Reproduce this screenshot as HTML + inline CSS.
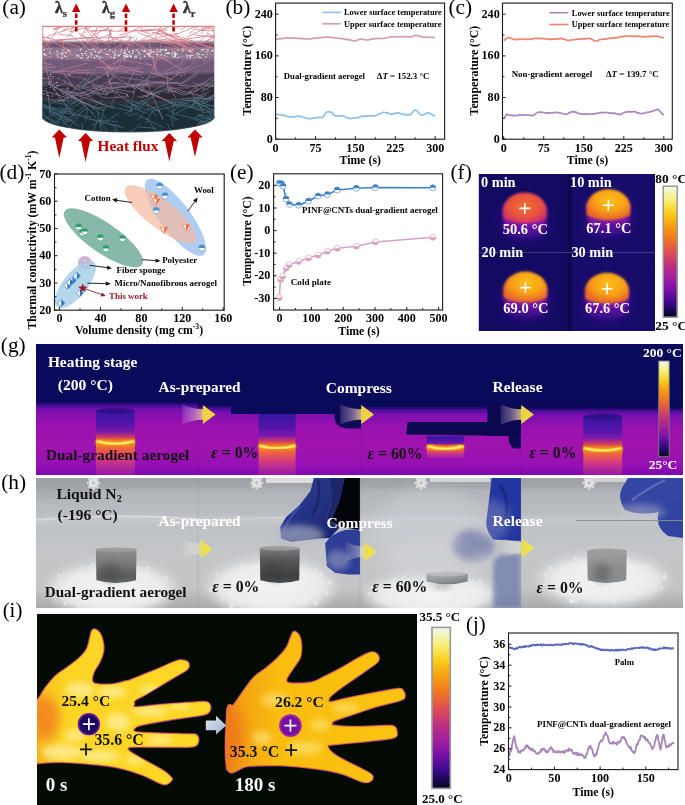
<!DOCTYPE html>
<html><head><meta charset="utf-8"><style>
html,body{margin:0;padding:0;background:#fff;width:685px;height:805px;overflow:hidden}
svg{display:block;will-change:transform}
text{font-family:"Liberation Serif",serif}
</style></head><body>
<svg width="685" height="805" viewBox="0 0 685 805">
<text x="2.3" y="14.3" font-size="21.3" font-weight="normal" fill="#000">(a)</text><text x="225.5" y="14.3" font-size="21.3" font-weight="normal" fill="#000">(b)</text><text x="448.5" y="14.3" font-size="21.3" font-weight="normal" fill="#000">(c)</text><text x="-0.5" y="178.5" font-size="21.3" font-weight="normal" fill="#000">(d)</text><text x="230" y="178.5" font-size="21.3" font-weight="normal" fill="#000">(e)</text><text x="450.5" y="178.5" font-size="21.3" font-weight="normal" fill="#000">(f)</text><text x="0.8" y="352" font-size="21.3" font-weight="normal" fill="#000">(g)</text><text x="1.2" y="489" font-size="21.3" font-weight="normal" fill="#000">(h)</text><text x="2.7" y="617" font-size="20.8" font-weight="normal" fill="#000">(i)</text><text x="466" y="631" font-size="20.8" font-weight="normal" fill="#000">(j)</text><polyline points="275.6,39.3 276.7,39.2 277.7,39.2 278.8,38.9 279.9,38.7 281.0,38.9 282.0,38.7 283.1,38.1 284.2,38.3 285.2,38.1 286.3,37.7 287.4,37.9 288.5,37.7 289.5,38.0 290.6,37.9 291.7,38.2 292.7,38.1 293.8,38.0 294.9,38.2 296.0,38.2 297.0,38.3 298.1,38.6 299.2,38.3 300.2,38.4 301.3,38.6 302.4,38.8 303.4,38.5 304.5,38.8 305.6,38.8 306.7,38.8 307.7,39.0 308.8,39.0 309.9,39.3 310.9,38.9 312.0,38.8 313.1,38.3 314.2,38.0 315.2,38.2 316.3,38.1 317.4,38.0 318.4,37.6 319.5,37.8 320.6,37.6 321.7,37.6 322.7,37.4 323.8,37.4 324.9,37.3 325.9,37.2 327.0,37.1 328.1,37.0 329.2,37.2 330.2,37.1 331.3,37.3 332.4,37.4 333.4,37.7 334.5,38.2 335.6,37.9 336.7,38.0 337.7,38.1 338.8,38.4 339.9,38.3 340.9,38.7 342.0,38.5 343.1,38.8 344.2,39.1 345.2,39.4 346.3,39.2 347.4,39.3 348.4,39.9 349.5,39.6 350.6,40.0 351.7,40.5 352.7,40.8 353.8,40.8 354.9,40.6 355.9,40.8 357.0,40.1 358.1,40.0 359.1,39.3 360.2,39.3 361.3,39.0 362.4,39.1 363.4,39.5 364.5,39.4 365.6,39.9 366.6,40.1 367.7,39.8 368.8,39.9 369.9,39.5 370.9,39.2 372.0,38.8 373.1,38.9 374.1,38.9 375.2,38.5 376.3,38.7 377.4,38.4 378.4,38.4 379.5,38.6 380.6,38.5 381.6,38.5 382.7,38.4 383.8,38.4 384.9,38.3 385.9,38.1 387.0,37.6 388.1,37.5 389.1,37.2 390.2,36.7 391.3,36.9 392.4,36.8 393.4,36.5 394.5,36.7 395.6,36.7 396.6,37.0 397.7,36.8 398.8,36.7 399.9,37.0 400.9,36.6 402.0,36.6 403.1,36.9 404.1,36.6 405.2,36.7 406.3,36.7 407.4,36.9 408.4,36.8 409.5,36.8 410.6,37.1 411.6,36.9 412.7,36.2 413.8,35.7 414.8,35.7 415.9,35.4 417.0,35.4 418.1,35.8 419.1,36.1 420.2,36.4 421.3,36.8 422.3,36.9 423.4,37.2 424.5,37.2 425.6,37.0 426.6,37.5 427.7,37.2 428.8,37.1 429.8,37.4 430.9,37.5 432.0,37.2 433.1,37.5 434.1,37.5 435.2,37.4" fill="none" stroke="#d89cb4" stroke-width="1.7" stroke-linejoin="round" /><polyline points="275.6,114.3 276.7,114.3 277.7,114.4 278.8,114.5 279.9,114.8 281.0,114.7 282.0,115.4 283.1,115.3 284.2,115.2 285.2,115.7 286.3,115.9 287.4,116.7 288.5,116.7 289.5,117.0 290.6,116.8 291.7,116.7 292.7,117.0 293.8,116.8 294.9,116.7 296.0,116.2 297.0,116.2 298.1,116.5 299.2,116.1 300.2,116.5 301.3,116.4 302.4,117.0 303.4,117.5 304.5,117.3 305.6,118.1 306.7,118.5 307.7,118.3 308.8,118.6 309.9,119.0 310.9,118.5 312.0,118.5 313.1,118.1 314.2,118.2 315.2,117.6 316.3,117.7 317.4,117.4 318.4,117.4 319.5,117.6 320.6,117.5 321.7,117.5 322.7,117.2 323.8,116.2 324.9,114.5 325.9,112.8 327.0,112.1 328.1,111.5 329.2,111.9 330.2,112.2 331.3,112.0 332.4,113.0 333.4,114.4 334.5,115.5 335.6,115.9 336.7,116.3 337.7,115.7 338.8,116.2 339.9,115.7 340.9,115.6 342.0,116.1 343.1,115.7 344.2,116.3 345.2,116.6 346.3,117.4 347.4,117.9 348.4,118.3 349.5,118.2 350.6,118.8 351.7,118.3 352.7,118.0 353.8,117.8 354.9,118.0 355.9,117.9 357.0,117.7 358.1,117.3 359.1,117.4 360.2,116.7 361.3,116.4 362.4,116.1 363.4,116.4 364.5,115.8 365.6,116.3 366.6,116.1 367.7,115.9 368.8,115.7 369.9,116.0 370.9,115.6 372.0,115.8 373.1,115.9 374.1,115.9 375.2,115.8 376.3,115.6 377.4,115.1 378.4,114.3 379.5,113.5 380.6,113.6 381.6,113.2 382.7,112.3 383.8,112.4 384.9,112.5 385.9,112.8 387.0,112.9 388.1,113.1 389.1,113.7 390.2,114.0 391.3,114.4 392.4,113.8 393.4,114.1 394.5,113.6 395.6,113.1 396.6,113.3 397.7,112.8 398.8,112.7 399.9,113.2 400.9,113.5 402.0,114.3 403.1,114.2 404.1,114.5 405.2,114.3 406.3,114.9 407.4,115.1 408.4,114.9 409.5,115.0 410.6,114.3 411.6,113.5 412.7,112.1 413.8,110.7 414.8,110.1 415.9,110.1 417.0,110.8 418.1,112.3 419.1,113.6 420.2,114.4 421.3,115.0 422.3,115.1 423.4,114.7 424.5,114.2 425.6,113.8 426.6,113.2 427.7,112.7 428.8,112.8 429.8,113.6 430.9,114.0 432.0,114.6 433.1,115.3 434.1,115.8 435.2,115.9" fill="none" stroke="#8ec0ea" stroke-width="1.7" stroke-linejoin="round" /><rect x="275.6" y="3.1" width="169.0" height="136.1" fill="none" stroke="#1a1a1a" stroke-width="1.1"/><line x1="275.6" y1="139.2" x2="275.6" y2="136.2" stroke="#1a1a1a" stroke-width="1"/><line x1="315.5" y1="139.2" x2="315.5" y2="136.2" stroke="#1a1a1a" stroke-width="1"/><line x1="355.4" y1="139.2" x2="355.4" y2="136.2" stroke="#1a1a1a" stroke-width="1"/><line x1="395.3" y1="139.2" x2="395.3" y2="136.2" stroke="#1a1a1a" stroke-width="1"/><line x1="435.2" y1="139.2" x2="435.2" y2="136.2" stroke="#1a1a1a" stroke-width="1"/><line x1="295.6" y1="139.2" x2="295.6" y2="137.2" stroke="#1a1a1a" stroke-width="0.9"/><line x1="335.5" y1="139.2" x2="335.5" y2="137.2" stroke="#1a1a1a" stroke-width="0.9"/><line x1="375.4" y1="139.2" x2="375.4" y2="137.2" stroke="#1a1a1a" stroke-width="0.9"/><line x1="415.2" y1="139.2" x2="415.2" y2="137.2" stroke="#1a1a1a" stroke-width="0.9"/><line x1="275.6" y1="139.2" x2="278.6" y2="139.2" stroke="#1a1a1a" stroke-width="1"/><line x1="275.6" y1="97.5" x2="278.6" y2="97.5" stroke="#1a1a1a" stroke-width="1"/><line x1="275.6" y1="55.9" x2="278.6" y2="55.9" stroke="#1a1a1a" stroke-width="1"/><line x1="275.6" y1="14.2" x2="278.6" y2="14.2" stroke="#1a1a1a" stroke-width="1"/><line x1="275.6" y1="118.4" x2="277.6" y2="118.4" stroke="#1a1a1a" stroke-width="0.9"/><line x1="275.6" y1="76.7" x2="277.6" y2="76.7" stroke="#1a1a1a" stroke-width="0.9"/><line x1="275.6" y1="35.0" x2="277.6" y2="35.0" stroke="#1a1a1a" stroke-width="0.9"/><text x="275.6" y="151.7" font-size="12.1" font-weight="bold" fill="#000" text-anchor="middle" >0</text><text x="315.5" y="151.7" font-size="12.1" font-weight="bold" fill="#000" text-anchor="middle" >75</text><text x="355.4" y="151.7" font-size="12.1" font-weight="bold" fill="#000" text-anchor="middle" >150</text><text x="395.3" y="151.7" font-size="12.1" font-weight="bold" fill="#000" text-anchor="middle" >225</text><text x="435.2" y="151.7" font-size="12.1" font-weight="bold" fill="#000" text-anchor="middle" >300</text><text x="272.8" y="142.7" font-size="12.1" font-weight="bold" fill="#000" text-anchor="end" >0</text><text x="272.8" y="101.0" font-size="12.1" font-weight="bold" fill="#000" text-anchor="end" >80</text><text x="272.8" y="59.4" font-size="12.1" font-weight="bold" fill="#000" text-anchor="end" >160</text><text x="272.8" y="17.7" font-size="12.1" font-weight="bold" fill="#000" text-anchor="end" >240</text><text x="360.3" y="164.3" font-size="11.8" font-weight="bold" fill="#000" text-anchor="middle" >Time (s)</text><text x="251.0" y="70.6" font-size="11.8" font-weight="bold" fill="#000" text-anchor="middle" transform="rotate(-90 251 70.6)">Temperature (°C)</text><line x1="322.3" y1="12.4" x2="340.8" y2="12.4" stroke="#8cc0ea" stroke-width="1.6"/><line x1="322.3" y1="23.8" x2="340.8" y2="23.8" stroke="#d69ab0" stroke-width="1.6"/><text x="344.0" y="15.3" font-size="8.4" font-weight="bold" fill="#000" text-anchor="start" >Lower surface temperature</text><text x="344.0" y="26.7" font-size="8.4" font-weight="bold" fill="#000" text-anchor="start" >Upper surface temperature</text><text x="283.8" y="78.9" font-size="8.7" font-weight="bold" fill="#000" text-anchor="start" >Dual-gradient aerogel</text><text x="376.8" y="78.9" font-size="8.9" font-weight="bold" fill="#000" text-anchor="start" >Δ<tspan font-style="italic">T</tspan> = 152.3 °C</text><polyline points="503.7,40.4 504.8,39.9 505.8,38.7 506.9,37.9 508.0,37.4 509.1,37.5 510.1,38.1 511.2,38.4 512.3,38.8 513.4,39.1 514.4,39.6 515.5,39.5 516.6,39.6 517.7,39.2 518.7,39.3 519.8,39.6 520.9,39.0 522.0,39.0 523.0,39.2 524.1,39.2 525.2,39.4 526.3,39.5 527.3,39.2 528.4,39.4 529.5,39.2 530.6,39.1 531.6,39.1 532.7,38.7 533.8,38.6 534.9,38.3 535.9,38.4 537.0,38.4 538.1,38.4 539.2,38.4 540.2,38.6 541.3,38.7 542.4,38.4 543.5,38.5 544.5,38.7 545.6,38.8 546.7,39.1 547.8,39.2 548.8,39.2 549.9,39.4 551.0,39.1 552.1,39.3 553.1,39.0 554.2,39.2 555.3,38.8 556.4,38.8 557.4,39.1 558.5,38.9 559.6,38.5 560.7,38.7 561.7,38.4 562.8,38.9 563.9,39.4 565.0,39.4 566.0,39.7 567.1,40.3 568.2,40.6 569.2,40.5 570.3,40.0 571.4,39.9 572.5,40.0 573.5,39.7 574.6,39.6 575.7,39.5 576.8,39.0 577.8,39.3 578.9,39.1 580.0,39.1 581.1,39.1 582.1,38.7 583.2,39.0 584.3,38.6 585.4,38.8 586.4,38.6 587.5,38.6 588.6,38.5 589.7,38.2 590.7,38.7 591.8,39.5 592.9,39.8 594.0,40.7 595.0,41.1 596.1,41.0 597.2,40.9 598.3,40.6 599.3,39.6 600.4,39.5 601.5,39.3 602.6,39.0 603.6,39.2 604.7,39.1 605.8,39.0 606.9,38.9 607.9,38.4 609.0,38.5 610.1,38.1 611.2,38.1 612.2,38.0 613.3,37.7 614.4,37.9 615.5,37.8 616.5,37.5 617.6,37.6 618.7,37.5 619.8,36.8 620.8,36.7 621.9,36.7 623.0,36.6 624.1,36.2 625.1,36.0 626.2,36.3 627.3,36.0 628.3,36.0 629.4,36.1 630.5,36.2 631.6,36.4 632.6,36.4 633.7,35.9 634.8,36.3 635.9,36.1 636.9,36.3 638.0,36.1 639.1,36.3 640.2,36.5 641.2,36.6 642.3,36.4 643.4,36.9 644.5,36.8 645.5,36.7 646.6,36.5 647.7,36.6 648.8,36.6 649.8,36.2 650.9,36.4 652.0,36.4 653.1,36.2 654.1,36.0 655.2,36.2 656.3,36.1 657.4,36.2 658.4,36.4 659.5,37.0 660.6,37.3 661.7,37.3 662.7,37.6 663.8,37.8" fill="none" stroke="#f4826e" stroke-width="1.7" stroke-linejoin="round" /><polyline points="503.7,118.8 504.8,117.4 505.8,115.4 506.9,114.2 508.0,114.7 509.1,114.8 510.1,115.1 511.2,115.3 512.3,115.2 513.4,115.8 514.4,115.6 515.5,115.7 516.6,115.6 517.7,115.4 518.7,114.9 519.8,114.9 520.9,115.2 522.0,115.0 523.0,115.1 524.1,114.7 525.2,114.9 526.3,115.0 527.3,115.1 528.4,115.2 529.5,115.2 530.6,115.4 531.6,115.8 532.7,115.3 533.8,115.1 534.9,114.2 535.9,113.6 537.0,112.9 538.1,112.3 539.2,112.0 540.2,112.1 541.3,112.4 542.4,112.2 543.5,112.5 544.5,112.6 545.6,112.9 546.7,113.1 547.8,112.9 548.8,113.2 549.9,112.8 551.0,112.8 552.1,112.9 553.1,112.8 554.2,112.5 555.3,112.6 556.4,112.4 557.4,112.4 558.5,112.6 559.6,113.0 560.7,113.0 561.7,113.4 562.8,113.7 563.9,114.0 565.0,114.0 566.0,114.3 567.1,114.0 568.2,113.4 569.2,113.1 570.3,112.3 571.4,111.6 572.5,111.9 573.5,111.9 574.6,111.7 575.7,112.1 576.8,112.6 577.8,113.4 578.9,113.6 580.0,113.7 581.1,113.8 582.1,113.9 583.2,114.3 584.3,113.9 585.4,114.2 586.4,114.0 587.5,114.3 588.6,113.8 589.7,114.0 590.7,114.0 591.8,114.3 592.9,113.9 594.0,113.8 595.0,113.6 596.1,113.6 597.2,113.1 598.3,113.2 599.3,113.0 600.4,112.9 601.5,112.4 602.6,112.6 603.6,112.6 604.7,112.7 605.8,112.4 606.9,112.5 607.9,112.6 609.0,113.1 610.1,112.9 611.2,113.1 612.2,113.3 613.3,113.4 614.4,112.8 615.5,113.6 616.5,113.8 617.6,114.1 618.7,114.2 619.8,114.7 620.8,114.3 621.9,113.9 623.0,113.0 624.1,112.8 625.1,112.1 626.2,111.9 627.3,111.6 628.3,111.8 629.4,111.8 630.5,111.6 631.6,111.8 632.6,111.9 633.7,111.6 634.8,111.5 635.9,112.0 636.9,112.7 638.0,112.8 639.1,113.1 640.2,113.7 641.2,113.5 642.3,113.5 643.4,113.4 644.5,113.1 645.5,112.8 646.6,112.4 647.7,112.4 648.8,112.0 649.8,112.1 650.9,111.5 652.0,111.3 653.1,111.2 654.1,110.3 655.2,110.2 656.3,109.7 657.4,109.4 658.4,109.6 659.5,110.5 660.6,111.8 661.7,113.4 662.7,114.2 663.8,115.1" fill="none" stroke="#a688c0" stroke-width="1.7" stroke-linejoin="round" /><rect x="502.5" y="3.1" width="169.79999999999995" height="136.1" fill="none" stroke="#1a1a1a" stroke-width="1.1"/><line x1="503.7" y1="139.2" x2="503.7" y2="136.2" stroke="#1a1a1a" stroke-width="1"/><line x1="543.7" y1="139.2" x2="543.7" y2="136.2" stroke="#1a1a1a" stroke-width="1"/><line x1="583.8" y1="139.2" x2="583.8" y2="136.2" stroke="#1a1a1a" stroke-width="1"/><line x1="623.8" y1="139.2" x2="623.8" y2="136.2" stroke="#1a1a1a" stroke-width="1"/><line x1="663.8" y1="139.2" x2="663.8" y2="136.2" stroke="#1a1a1a" stroke-width="1"/><line x1="523.7" y1="139.2" x2="523.7" y2="137.2" stroke="#1a1a1a" stroke-width="0.9"/><line x1="563.7" y1="139.2" x2="563.7" y2="137.2" stroke="#1a1a1a" stroke-width="0.9"/><line x1="603.8" y1="139.2" x2="603.8" y2="137.2" stroke="#1a1a1a" stroke-width="0.9"/><line x1="643.8" y1="139.2" x2="643.8" y2="137.2" stroke="#1a1a1a" stroke-width="0.9"/><line x1="502.5" y1="139.2" x2="505.5" y2="139.2" stroke="#1a1a1a" stroke-width="1"/><line x1="502.5" y1="97.5" x2="505.5" y2="97.5" stroke="#1a1a1a" stroke-width="1"/><line x1="502.5" y1="55.9" x2="505.5" y2="55.9" stroke="#1a1a1a" stroke-width="1"/><line x1="502.5" y1="14.2" x2="505.5" y2="14.2" stroke="#1a1a1a" stroke-width="1"/><line x1="502.5" y1="118.4" x2="504.5" y2="118.4" stroke="#1a1a1a" stroke-width="0.9"/><line x1="502.5" y1="76.7" x2="504.5" y2="76.7" stroke="#1a1a1a" stroke-width="0.9"/><line x1="502.5" y1="35.0" x2="504.5" y2="35.0" stroke="#1a1a1a" stroke-width="0.9"/><text x="503.7" y="151.7" font-size="12.1" font-weight="bold" fill="#000" text-anchor="middle" >0</text><text x="543.7" y="151.7" font-size="12.1" font-weight="bold" fill="#000" text-anchor="middle" >75</text><text x="583.8" y="151.7" font-size="12.1" font-weight="bold" fill="#000" text-anchor="middle" >150</text><text x="623.8" y="151.7" font-size="12.1" font-weight="bold" fill="#000" text-anchor="middle" >225</text><text x="663.8" y="151.7" font-size="12.1" font-weight="bold" fill="#000" text-anchor="middle" >300</text><text x="499.7" y="142.7" font-size="12.1" font-weight="bold" fill="#000" text-anchor="end" >0</text><text x="499.7" y="101.0" font-size="12.1" font-weight="bold" fill="#000" text-anchor="end" >80</text><text x="499.7" y="59.4" font-size="12.1" font-weight="bold" fill="#000" text-anchor="end" >160</text><text x="499.7" y="17.7" font-size="12.1" font-weight="bold" fill="#000" text-anchor="end" >240</text><text x="587.5" y="164.3" font-size="11.8" font-weight="bold" fill="#000" text-anchor="middle" >Time (s)</text><text x="478.0" y="70.6" font-size="11.8" font-weight="bold" fill="#000" text-anchor="middle" transform="rotate(-90 478 70.6)">Temperature (°C)</text><line x1="549.5" y1="12.7" x2="568.4" y2="12.7" stroke="#a486bf" stroke-width="1.6"/><line x1="549.5" y1="24.5" x2="568.4" y2="24.5" stroke="#f3806c" stroke-width="1.6"/><text x="571.8" y="15.6" font-size="8.4" font-weight="bold" fill="#000" text-anchor="start" >Lower surface temperature</text><text x="571.8" y="27.4" font-size="8.4" font-weight="bold" fill="#000" text-anchor="start" >Upper surface temperature</text><text x="511.7" y="77.2" font-size="8.9" font-weight="bold" fill="#000" text-anchor="start" >Non-gradient aerogel</text><text x="606.0" y="77.2" font-size="8.9" font-weight="bold" fill="#000" text-anchor="start" >Δ<tspan font-style="italic">T</tspan> = 139.7 °C</text><ellipse cx="103.4" cy="237.8" rx="47" ry="15" fill="#5fa28f" fill-opacity="0.75" transform="rotate(34.7 103.4 237.8)"/><ellipse cx="175.4" cy="217.4" rx="47" ry="15" fill="#9cc0ee" fill-opacity="0.8" transform="rotate(53 175.4 217.4)"/><ellipse cx="160.5" cy="214.2" rx="44" ry="14" fill="#f6b89e" fill-opacity="0.7" transform="rotate(37.5 160.5 214.2)"/><circle cx="84.8" cy="262.9" r="7" fill="#c6a6cc" fill-opacity="0.85"/><ellipse cx="75.4" cy="284.4" rx="29" ry="12" fill="#a8cfe8" fill-opacity="0.85" transform="rotate(-51 75.4 284.4)"/><circle cx="159.7" cy="185.9" r="3.2" fill="#fff" stroke="#4a90d0" stroke-width="0.6"/><path d="M156.5,185.9 A3.2,3.2 0 0 1 162.89999999999998,185.9 Z" fill="#4a90d0"/><circle cx="165" cy="195.8" r="3.2" fill="#fff" stroke="#4a90d0" stroke-width="0.6"/><path d="M161.8,195.8 A3.2,3.2 0 0 1 168.2,195.8 Z" fill="#4a90d0"/><circle cx="156.3" cy="210.5" r="3.2" fill="#fff" stroke="#4a90d0" stroke-width="0.6"/><path d="M153.10000000000002,210.5 A3.2,3.2 0 0 1 159.5,210.5 Z" fill="#4a90d0"/><circle cx="201.9" cy="248" r="3.2" fill="#fff" stroke="#4a90d0" stroke-width="0.6"/><path d="M198.70000000000002,248 A3.2,3.2 0 0 1 205.1,248 Z" fill="#4a90d0"/><circle cx="78.6" cy="226.9" r="3.2" fill="#fff" stroke="#2a9a68" stroke-width="0.6"/><path d="M75.39999999999999,226.9 A3.2,3.2 0 0 1 81.8,226.9 Z" fill="#2a9a68"/><circle cx="82.3" cy="232.8" r="3.2" fill="#fff" stroke="#2a9a68" stroke-width="0.6"/><path d="M79.1,232.8 A3.2,3.2 0 0 1 85.5,232.8 Z" fill="#2a9a68"/><circle cx="84.8" cy="231.6" r="3.2" fill="#fff" stroke="#2a9a68" stroke-width="0.6"/><path d="M81.6,231.6 A3.2,3.2 0 0 1 88.0,231.6 Z" fill="#2a9a68"/><circle cx="100.4" cy="237.8" r="3.2" fill="#fff" stroke="#2a9a68" stroke-width="0.6"/><path d="M97.2,237.8 A3.2,3.2 0 0 1 103.60000000000001,237.8 Z" fill="#2a9a68"/><circle cx="122.5" cy="238.5" r="3.2" fill="#fff" stroke="#2a9a68" stroke-width="0.6"/><path d="M119.3,238.5 A3.2,3.2 0 0 1 125.7,238.5 Z" fill="#2a9a68"/><circle cx="105.9" cy="248.5" r="3.2" fill="#fff" stroke="#2a9a68" stroke-width="0.6"/><path d="M102.7,248.5 A3.2,3.2 0 0 1 109.10000000000001,248.5 Z" fill="#2a9a68"/><path d="M150.70000000000002,195.07999999999998 L157.9,195.07999999999998 L154.3,201.2 Z" fill="#fff" stroke="#f06a40" stroke-width="0.6"/><path d="M154.3,195.07999999999998 L157.9,195.07999999999998 L154.3,201.2 Z" fill="#f06a40"/><path d="M152.70000000000002,198.78 L159.9,198.78 L156.3,204.9 Z" fill="#fff" stroke="#f06a40" stroke-width="0.6"/><path d="M156.3,198.78 L159.9,198.78 L156.3,204.9 Z" fill="#f06a40"/><path d="M160.6,227.28 L167.79999999999998,227.28 L164.2,233.4 Z" fill="#fff" stroke="#f06a40" stroke-width="0.6"/><path d="M164.2,227.28 L167.79999999999998,227.28 L164.2,233.4 Z" fill="#f06a40"/><path d="M182.4,224.38 L189.6,224.38 L186,230.5 Z" fill="#fff" stroke="#f06a40" stroke-width="0.6"/><path d="M186,224.38 L189.6,224.38 L186,230.5 Z" fill="#f06a40"/><path d="M67.4,282.09999999999997 L71.0,285.7 L67.4,289.3 L63.800000000000004,285.7 Z" fill="#fff" stroke="#2a78c0" stroke-width="0.6"/><path d="M67.4,282.09999999999997 L71.0,285.7 L67.4,289.3 Z" fill="#2a78c0"/><path d="M72.4,277.09999999999997 L76.0,280.7 L72.4,284.3 L68.80000000000001,280.7 Z" fill="#fff" stroke="#2a78c0" stroke-width="0.6"/><path d="M72.4,277.09999999999997 L76.0,280.7 L72.4,284.3 Z" fill="#2a78c0"/><path d="M76.8,272.2 L80.39999999999999,275.8 L76.8,279.40000000000003 L73.2,275.8 Z" fill="#fff" stroke="#2a78c0" stroke-width="0.6"/><path d="M76.8,272.2 L80.39999999999999,275.8 L76.8,279.40000000000003 Z" fill="#2a78c0"/><path d="M79.8,289.5 L83.39999999999999,293.1 L79.8,296.70000000000005 L76.2,293.1 Z" fill="#fff" stroke="#2a78c0" stroke-width="0.6"/><path d="M79.8,289.5 L83.39999999999999,293.1 L79.8,296.70000000000005 Z" fill="#2a78c0"/><path d="M61.2,299.5 L64.8,303.1 L61.2,306.70000000000005 L57.6,303.1 Z" fill="#fff" stroke="#2a78c0" stroke-width="0.6"/><path d="M61.2,299.5 L64.8,303.1 L61.2,306.70000000000005 Z" fill="#2a78c0"/><path d="M70,278.9 L73.6,282.5 L70,286.1 L66.4,282.5 Z" fill="#fff" stroke="#2a78c0" stroke-width="0.6"/><path d="M70,278.9 L73.6,282.5 L70,286.1 Z" fill="#2a78c0"/><path d="M83.5,261 l1.5,-2.5 l1.5,2.5 l-1.5,2.5z M84,264 l1.5,-2.5 l1.5,2.5 l-1.5,2.5z" fill="#fff" stroke="#9a7aa8" stroke-width="0.5"/><polygon points="82.8,283.2 84.0,286.5 87.6,286.7 84.8,288.8 85.7,292.2 82.8,290.3 79.9,292.2 80.8,288.8 78.0,286.7 81.6,286.5" fill="#961a28"/><rect x="54.5" y="174" width="169.7" height="136.2" fill="none" stroke="#1a1a1a" stroke-width="1.1"/><line x1="59.6" y1="310.2" x2="59.6" y2="307.2" stroke="#1a1a1a" stroke-width="1"/><line x1="100.5" y1="310.2" x2="100.5" y2="307.2" stroke="#1a1a1a" stroke-width="1"/><line x1="141.4" y1="310.2" x2="141.4" y2="307.2" stroke="#1a1a1a" stroke-width="1"/><line x1="182.3" y1="310.2" x2="182.3" y2="307.2" stroke="#1a1a1a" stroke-width="1"/><line x1="223.2" y1="310.2" x2="223.2" y2="307.2" stroke="#1a1a1a" stroke-width="1"/><line x1="80.0" y1="310.2" x2="80.0" y2="308.2" stroke="#1a1a1a" stroke-width="0.9"/><line x1="120.9" y1="310.2" x2="120.9" y2="308.2" stroke="#1a1a1a" stroke-width="0.9"/><line x1="161.8" y1="310.2" x2="161.8" y2="308.2" stroke="#1a1a1a" stroke-width="0.9"/><line x1="202.8" y1="310.2" x2="202.8" y2="308.2" stroke="#1a1a1a" stroke-width="0.9"/><line x1="54.5" y1="310.2" x2="57.5" y2="310.2" stroke="#1a1a1a" stroke-width="1"/><line x1="54.5" y1="283.0" x2="57.5" y2="283.0" stroke="#1a1a1a" stroke-width="1"/><line x1="54.5" y1="255.7" x2="57.5" y2="255.7" stroke="#1a1a1a" stroke-width="1"/><line x1="54.5" y1="228.5" x2="57.5" y2="228.5" stroke="#1a1a1a" stroke-width="1"/><line x1="54.5" y1="201.2" x2="57.5" y2="201.2" stroke="#1a1a1a" stroke-width="1"/><line x1="54.5" y1="174.0" x2="57.5" y2="174.0" stroke="#1a1a1a" stroke-width="1"/><line x1="54.5" y1="296.6" x2="56.5" y2="296.6" stroke="#1a1a1a" stroke-width="0.9"/><line x1="54.5" y1="269.3" x2="56.5" y2="269.3" stroke="#1a1a1a" stroke-width="0.9"/><line x1="54.5" y1="242.1" x2="56.5" y2="242.1" stroke="#1a1a1a" stroke-width="0.9"/><line x1="54.5" y1="214.9" x2="56.5" y2="214.9" stroke="#1a1a1a" stroke-width="0.9"/><line x1="54.5" y1="187.6" x2="56.5" y2="187.6" stroke="#1a1a1a" stroke-width="0.9"/><text x="59.6" y="322.4" font-size="12.1" font-weight="bold" fill="#000" text-anchor="middle" >0</text><text x="100.5" y="322.4" font-size="12.1" font-weight="bold" fill="#000" text-anchor="middle" >40</text><text x="141.4" y="322.4" font-size="12.1" font-weight="bold" fill="#000" text-anchor="middle" >80</text><text x="182.3" y="322.4" font-size="12.1" font-weight="bold" fill="#000" text-anchor="middle" >120</text><text x="223.2" y="322.4" font-size="12.1" font-weight="bold" fill="#000" text-anchor="middle" >160</text><text x="51.3" y="313.7" font-size="12.1" font-weight="bold" fill="#000" text-anchor="end" >20</text><text x="51.3" y="286.5" font-size="12.1" font-weight="bold" fill="#000" text-anchor="end" >30</text><text x="51.3" y="259.2" font-size="12.1" font-weight="bold" fill="#000" text-anchor="end" >40</text><text x="51.3" y="232.0" font-size="12.1" font-weight="bold" fill="#000" text-anchor="end" >50</text><text x="51.3" y="204.7" font-size="12.1" font-weight="bold" fill="#000" text-anchor="end" >60</text><text x="51.3" y="177.5" font-size="12.1" font-weight="bold" fill="#000" text-anchor="end" >70</text><text x="139.0" y="334.1" font-size="11.8" font-weight="bold" fill="#000" text-anchor="middle" >Volume density (mg cm<tspan font-size="7.7" dy="-4.7">-3</tspan><tspan dy="4.7">)</tspan></text><text x="36.0" y="240.0" font-size="11.8" font-weight="bold" fill="#000" text-anchor="middle" transform="rotate(-90 36 240)">Thermal conductivity (mW m<tspan font-size="7.7" dy="-4.7">-1</tspan><tspan dy="4.7"> K</tspan><tspan font-size="7.7" dy="-4.7">-1</tspan><tspan dy="4.7">)</tspan></text><line x1="187.8" y1="211.2" x2="194.8" y2="201.6" stroke="#111" stroke-width="0.9"/><path d="M197.7,197.6 L196.5,202.9 L193.0,200.3 Z" fill="#111"/><line x1="132" y1="202.5" x2="116.9" y2="200.3" stroke="#111" stroke-width="0.9"/><path d="M112,199.6 L117.3,198.1 L116.6,202.5 Z" fill="#111"/><line x1="141.9" y1="259.6" x2="155.5" y2="260.6" stroke="#111" stroke-width="0.9"/><path d="M160.5,260.9 L155.4,262.7 L155.7,258.4 Z" fill="#111"/><line x1="89.7" y1="265.3" x2="107.0" y2="267.6" stroke="#111" stroke-width="0.9"/><path d="M112,268.3 L106.8,269.8 L107.3,265.5 Z" fill="#111"/><line x1="87.3" y1="283.2" x2="105.8" y2="283.6" stroke="#111" stroke-width="0.9"/><path d="M110.8,283.7 L105.8,285.8 L105.8,281.4 Z" fill="#111"/><line x1="84.8" y1="288.7" x2="101.2" y2="294.4" stroke="#961a28" stroke-width="0.9"/><path d="M105.9,296.1 L100.5,296.5 L101.9,292.4 Z" fill="#961a28"/><text x="194.0" y="192.6" font-size="8.9" font-weight="bold" fill="#000" text-anchor="start" >Wool</text><text x="84.6" y="200.8" font-size="8.9" font-weight="bold" fill="#000" text-anchor="start" >Cotton</text><text x="162.2" y="263.4" font-size="8.9" font-weight="bold" fill="#000" text-anchor="start" >Polyester</text><text x="116.6" y="273.3" font-size="8.9" font-weight="bold" fill="#000" text-anchor="start" >Fiber sponge</text><text x="114.6" y="286.2" font-size="8.9" font-weight="bold" fill="#000" text-anchor="start" >Micro/Nanofibrous aerogel</text><text x="109.1" y="299.3" font-size="8.9" font-weight="bold" fill="#961a28" text-anchor="start" >This work</text><polyline points="279.3,183.3 281.5,183.8 283.2,186.2 286.0,199.0 289.4,204.4 298.7,205.2 308.5,201.0 318.1,196.0 327.4,194.6 337.2,190.0 356.4,188.3 375.4,187.5 432.8,187.8" fill="none" stroke="#3f7fc8" stroke-width="1.6" stroke-linejoin="round" /><polyline points="279.3,297.6 280.5,279.5 282.7,276.2 286.0,268.2 289.1,264.7 298.7,261.5 308.5,257.9 318.1,255.1 327.4,251.3 337.2,248.3 356.4,246.2 375.4,242.0 432.8,237.3" fill="none" stroke="#d9a2be" stroke-width="1.6" stroke-linejoin="round" /><circle cx="279.3" cy="183.3" r="3.0" fill="#fff" stroke="#3f7fc8" stroke-width="0.6"/><path d="M276.3,183.3 A3.0,3.0 0 0 1 282.3,183.3 Z" fill="#3f7fc8"/><circle cx="281.5" cy="183.8" r="3.0" fill="#fff" stroke="#3f7fc8" stroke-width="0.6"/><path d="M278.5,183.8 A3.0,3.0 0 0 1 284.5,183.8 Z" fill="#3f7fc8"/><circle cx="283.2" cy="186.2" r="3.0" fill="#fff" stroke="#3f7fc8" stroke-width="0.6"/><path d="M280.2,186.2 A3.0,3.0 0 0 1 286.2,186.2 Z" fill="#3f7fc8"/><circle cx="286" cy="199" r="3.0" fill="#fff" stroke="#3f7fc8" stroke-width="0.6"/><path d="M283.0,199 A3.0,3.0 0 0 1 289.0,199 Z" fill="#3f7fc8"/><circle cx="289.4" cy="204.4" r="3.0" fill="#fff" stroke="#3f7fc8" stroke-width="0.6"/><path d="M286.4,204.4 A3.0,3.0 0 0 1 292.4,204.4 Z" fill="#3f7fc8"/><circle cx="298.7" cy="205.2" r="3.0" fill="#fff" stroke="#3f7fc8" stroke-width="0.6"/><path d="M295.7,205.2 A3.0,3.0 0 0 1 301.7,205.2 Z" fill="#3f7fc8"/><circle cx="308.5" cy="201" r="3.0" fill="#fff" stroke="#3f7fc8" stroke-width="0.6"/><path d="M305.5,201 A3.0,3.0 0 0 1 311.5,201 Z" fill="#3f7fc8"/><circle cx="318.1" cy="196" r="3.0" fill="#fff" stroke="#3f7fc8" stroke-width="0.6"/><path d="M315.1,196 A3.0,3.0 0 0 1 321.1,196 Z" fill="#3f7fc8"/><circle cx="327.4" cy="194.6" r="3.0" fill="#fff" stroke="#3f7fc8" stroke-width="0.6"/><path d="M324.4,194.6 A3.0,3.0 0 0 1 330.4,194.6 Z" fill="#3f7fc8"/><circle cx="337.2" cy="190" r="3.0" fill="#fff" stroke="#3f7fc8" stroke-width="0.6"/><path d="M334.2,190 A3.0,3.0 0 0 1 340.2,190 Z" fill="#3f7fc8"/><circle cx="356.4" cy="188.3" r="3.0" fill="#fff" stroke="#3f7fc8" stroke-width="0.6"/><path d="M353.4,188.3 A3.0,3.0 0 0 1 359.4,188.3 Z" fill="#3f7fc8"/><circle cx="375.4" cy="187.5" r="3.0" fill="#fff" stroke="#3f7fc8" stroke-width="0.6"/><path d="M372.4,187.5 A3.0,3.0 0 0 1 378.4,187.5 Z" fill="#3f7fc8"/><circle cx="432.8" cy="187.8" r="3.0" fill="#fff" stroke="#3f7fc8" stroke-width="0.6"/><path d="M429.8,187.8 A3.0,3.0 0 0 1 435.8,187.8 Z" fill="#3f7fc8"/><circle cx="279.3" cy="297.6" r="3.0" fill="#fff" stroke="#d9a2be" stroke-width="0.7"/><path d="M276.3,297.6 A3.0,3.0 0 0 0 282.3,297.6 Z" fill="#d9a2be"/><circle cx="280.5" cy="279.5" r="3.0" fill="#fff" stroke="#d9a2be" stroke-width="0.7"/><path d="M277.5,279.5 A3.0,3.0 0 0 0 283.5,279.5 Z" fill="#d9a2be"/><circle cx="282.7" cy="276.2" r="3.0" fill="#fff" stroke="#d9a2be" stroke-width="0.7"/><path d="M279.7,276.2 A3.0,3.0 0 0 0 285.7,276.2 Z" fill="#d9a2be"/><circle cx="286" cy="268.2" r="3.0" fill="#fff" stroke="#d9a2be" stroke-width="0.7"/><path d="M283.0,268.2 A3.0,3.0 0 0 0 289.0,268.2 Z" fill="#d9a2be"/><circle cx="289.1" cy="264.7" r="3.0" fill="#fff" stroke="#d9a2be" stroke-width="0.7"/><path d="M286.1,264.7 A3.0,3.0 0 0 0 292.1,264.7 Z" fill="#d9a2be"/><circle cx="298.7" cy="261.5" r="3.0" fill="#fff" stroke="#d9a2be" stroke-width="0.7"/><path d="M295.7,261.5 A3.0,3.0 0 0 0 301.7,261.5 Z" fill="#d9a2be"/><circle cx="308.5" cy="257.9" r="3.0" fill="#fff" stroke="#d9a2be" stroke-width="0.7"/><path d="M305.5,257.9 A3.0,3.0 0 0 0 311.5,257.9 Z" fill="#d9a2be"/><circle cx="318.1" cy="255.1" r="3.0" fill="#fff" stroke="#d9a2be" stroke-width="0.7"/><path d="M315.1,255.1 A3.0,3.0 0 0 0 321.1,255.1 Z" fill="#d9a2be"/><circle cx="327.4" cy="251.3" r="3.0" fill="#fff" stroke="#d9a2be" stroke-width="0.7"/><path d="M324.4,251.3 A3.0,3.0 0 0 0 330.4,251.3 Z" fill="#d9a2be"/><circle cx="337.2" cy="248.3" r="3.0" fill="#fff" stroke="#d9a2be" stroke-width="0.7"/><path d="M334.2,248.3 A3.0,3.0 0 0 0 340.2,248.3 Z" fill="#d9a2be"/><circle cx="356.4" cy="246.2" r="3.0" fill="#fff" stroke="#d9a2be" stroke-width="0.7"/><path d="M353.4,246.2 A3.0,3.0 0 0 0 359.4,246.2 Z" fill="#d9a2be"/><circle cx="375.4" cy="242" r="3.0" fill="#fff" stroke="#d9a2be" stroke-width="0.7"/><path d="M372.4,242 A3.0,3.0 0 0 0 378.4,242 Z" fill="#d9a2be"/><circle cx="432.8" cy="237.3" r="3.0" fill="#fff" stroke="#d9a2be" stroke-width="0.7"/><path d="M429.8,237.3 A3.0,3.0 0 0 0 435.8,237.3 Z" fill="#d9a2be"/><rect x="273.6" y="173.8" width="169.0" height="136.2" fill="none" stroke="#1a1a1a" stroke-width="1.1"/><line x1="279.6" y1="310" x2="279.6" y2="307" stroke="#1a1a1a" stroke-width="1"/><line x1="311.4" y1="310" x2="311.4" y2="307" stroke="#1a1a1a" stroke-width="1"/><line x1="343.2" y1="310" x2="343.2" y2="307" stroke="#1a1a1a" stroke-width="1"/><line x1="375.0" y1="310" x2="375.0" y2="307" stroke="#1a1a1a" stroke-width="1"/><line x1="406.8" y1="310" x2="406.8" y2="307" stroke="#1a1a1a" stroke-width="1"/><line x1="438.6" y1="310" x2="438.6" y2="307" stroke="#1a1a1a" stroke-width="1"/><line x1="295.5" y1="310" x2="295.5" y2="308" stroke="#1a1a1a" stroke-width="0.9"/><line x1="327.3" y1="310" x2="327.3" y2="308" stroke="#1a1a1a" stroke-width="0.9"/><line x1="359.1" y1="310" x2="359.1" y2="308" stroke="#1a1a1a" stroke-width="0.9"/><line x1="390.9" y1="310" x2="390.9" y2="308" stroke="#1a1a1a" stroke-width="0.9"/><line x1="422.7" y1="310" x2="422.7" y2="308" stroke="#1a1a1a" stroke-width="0.9"/><line x1="273.6" y1="185.4" x2="276.6" y2="185.4" stroke="#1a1a1a" stroke-width="1"/><line x1="273.6" y1="208.0" x2="276.6" y2="208.0" stroke="#1a1a1a" stroke-width="1"/><line x1="273.6" y1="230.6" x2="276.6" y2="230.6" stroke="#1a1a1a" stroke-width="1"/><line x1="273.6" y1="253.2" x2="276.6" y2="253.2" stroke="#1a1a1a" stroke-width="1"/><line x1="273.6" y1="275.8" x2="276.6" y2="275.8" stroke="#1a1a1a" stroke-width="1"/><line x1="273.6" y1="298.4" x2="276.6" y2="298.4" stroke="#1a1a1a" stroke-width="1"/><line x1="273.6" y1="196.7" x2="275.6" y2="196.7" stroke="#1a1a1a" stroke-width="0.9"/><line x1="273.6" y1="219.3" x2="275.6" y2="219.3" stroke="#1a1a1a" stroke-width="0.9"/><line x1="273.6" y1="241.9" x2="275.6" y2="241.9" stroke="#1a1a1a" stroke-width="0.9"/><line x1="273.6" y1="264.5" x2="275.6" y2="264.5" stroke="#1a1a1a" stroke-width="0.9"/><line x1="273.6" y1="287.1" x2="275.6" y2="287.1" stroke="#1a1a1a" stroke-width="0.9"/><text x="279.6" y="322.4" font-size="12.1" font-weight="bold" fill="#000" text-anchor="middle" >0</text><text x="311.4" y="322.4" font-size="12.1" font-weight="bold" fill="#000" text-anchor="middle" >100</text><text x="343.2" y="322.4" font-size="12.1" font-weight="bold" fill="#000" text-anchor="middle" >200</text><text x="375.0" y="322.4" font-size="12.1" font-weight="bold" fill="#000" text-anchor="middle" >300</text><text x="406.8" y="322.4" font-size="12.1" font-weight="bold" fill="#000" text-anchor="middle" >400</text><text x="438.6" y="322.4" font-size="12.1" font-weight="bold" fill="#000" text-anchor="middle" >500</text><text x="270.4" y="188.9" font-size="12.1" font-weight="bold" fill="#000" text-anchor="end" >20</text><text x="270.4" y="211.5" font-size="12.1" font-weight="bold" fill="#000" text-anchor="end" >10</text><text x="270.4" y="234.1" font-size="12.1" font-weight="bold" fill="#000" text-anchor="end" >0</text><text x="270.4" y="256.7" font-size="12.1" font-weight="bold" fill="#000" text-anchor="end" >-10</text><text x="270.4" y="279.3" font-size="12.1" font-weight="bold" fill="#000" text-anchor="end" >-20</text><text x="270.4" y="301.9" font-size="12.1" font-weight="bold" fill="#000" text-anchor="end" >-30</text><text x="359.0" y="335.2" font-size="11.8" font-weight="bold" fill="#000" text-anchor="middle" >Time (s)</text><text x="251.3" y="241.0" font-size="11.8" font-weight="bold" fill="#000" text-anchor="middle" transform="rotate(-90 251.3 241)">Temperature (°C)</text><text x="302.0" y="213.2" font-size="9.0" font-weight="bold" fill="#000" text-anchor="start" >PINF@CNTs dual-gradient aerogel</text><text x="290.8" y="285.0" font-size="9.1" font-weight="bold" fill="#000" text-anchor="start" >Cold plate</text><polyline points="508.7,647.9 509.3,647.2 509.8,647.4 510.4,647.8 510.9,648.3 511.5,647.7 512.0,647.9 512.6,648.4 513.1,648.6 513.7,649.0 514.2,649.3 514.8,648.8 515.3,648.5 515.9,649.0 516.4,648.0 517.0,648.6 517.5,648.4 518.1,648.4 518.6,647.1 519.2,647.2 519.7,646.8 520.3,647.0 520.8,647.6 521.4,647.1 521.9,646.8 522.5,647.2 523.1,646.2 523.6,646.9 524.2,647.1 524.7,646.2 525.3,647.1 525.8,646.0 526.4,646.5 526.9,646.3 527.5,646.5 528.0,646.2 528.6,646.5 529.1,646.6 529.7,645.5 530.2,646.2 530.8,645.4 531.3,646.0 531.9,645.0 532.4,645.0 533.0,645.1 533.5,645.0 534.1,645.1 534.6,644.9 535.2,645.6 535.8,645.1 536.3,644.6 536.9,645.3 537.4,644.4 538.0,644.5 538.5,645.1 539.1,645.1 539.6,645.0 540.2,645.1 540.7,644.3 541.3,645.1 541.8,645.5 542.4,645.5 542.9,644.7 543.5,644.3 544.0,645.0 544.6,645.0 545.1,644.9 545.7,644.6 546.2,645.3 546.8,644.8 547.3,644.9 547.9,644.8 548.4,645.3 549.0,645.4 549.6,645.1 550.1,644.4 550.7,645.1 551.2,644.8 551.8,645.2 552.3,645.4 552.9,645.5 553.4,644.6 554.0,644.6 554.5,645.1 555.1,644.7 555.6,644.7 556.2,644.4 556.7,644.4 557.3,645.1 557.8,644.3 558.4,644.4 558.9,644.8 559.5,644.4 560.0,644.8 560.6,644.9 561.1,645.0 561.7,644.1 562.3,644.9 562.8,644.9 563.4,643.9 563.9,643.9 564.5,644.1 565.0,643.6 565.6,644.5 566.1,644.1 566.7,644.0 567.2,643.8 567.8,644.0 568.3,644.1 568.9,643.7 569.4,643.0 570.0,642.9 570.5,643.2 571.1,643.5 571.6,643.8 572.2,643.0 572.7,643.5 573.3,643.3 573.8,644.2 574.4,644.1 574.9,643.3 575.5,643.4 576.1,643.4 576.6,643.8 577.2,644.0 577.7,643.9 578.3,643.6 578.8,644.3 579.4,644.1 579.9,644.4 580.5,643.8 581.0,644.8 581.6,644.0 582.1,643.6 582.7,644.8 583.2,644.2 583.8,644.2 584.3,644.1 584.9,644.6 585.4,645.2 586.0,645.3 586.5,644.8 587.1,645.1 587.6,646.2 588.2,646.5 588.7,646.6 589.3,646.8 589.9,646.3 590.4,646.7 591.0,645.8 591.5,646.2 592.1,647.0 592.6,646.6 593.2,647.0 593.7,647.0 594.3,647.6 594.8,647.9 595.4,648.1 595.9,648.1 596.5,647.9 597.0,648.3 597.6,649.2 598.1,648.6 598.7,648.6 599.2,648.9 599.8,649.0 600.3,650.1 600.9,649.7 601.4,650.2 602.0,649.4 602.6,650.2 603.1,649.5 603.7,650.1 604.2,649.6 604.8,650.1 605.3,650.5 605.9,650.1 606.4,650.2 607.0,649.5 607.5,650.3 608.1,650.1 608.6,650.1 609.2,649.7 609.7,650.8 610.3,650.2 610.8,650.3 611.4,650.1 611.9,649.8 612.5,650.6 613.0,650.1 613.6,650.3 614.1,650.3 614.7,650.9 615.2,649.9 615.8,649.7 616.4,650.4 616.9,650.4 617.5,649.5 618.0,650.6 618.6,650.6 619.1,650.5 619.7,649.6 620.2,649.6 620.8,650.0 621.3,649.7 621.9,650.4 622.4,649.6 623.0,649.9 623.5,649.7 624.1,649.9 624.6,649.9 625.2,650.1 625.7,650.3 626.3,649.7 626.8,649.9 627.4,649.2 627.9,649.0 628.5,649.0 629.1,649.2 629.6,649.4 630.2,649.1 630.7,648.9 631.3,648.6 631.8,648.1 632.4,649.1 632.9,648.5 633.5,648.4 634.0,648.1 634.6,647.9 635.1,648.0 635.7,648.2 636.2,648.0 636.8,648.1 637.3,647.8 637.9,647.9 638.4,647.8 639.0,648.3 639.5,647.4 640.1,648.0 640.6,647.6 641.2,647.3 641.7,647.0 642.3,647.0 642.9,648.1 643.4,647.7 644.0,647.7 644.5,647.6 645.1,647.9 645.6,647.5 646.2,648.1 646.7,648.0 647.3,647.3 647.8,647.7 648.4,648.3 648.9,648.9 649.5,648.0 650.0,648.5 650.6,649.4 651.1,649.4 651.7,649.1 652.2,649.2 652.8,649.9 653.3,649.1 653.9,650.0 654.4,650.1 655.0,649.3 655.6,650.1 656.1,649.4 656.7,649.9 657.2,649.3 657.8,649.5 658.3,649.3 658.9,648.4 659.4,648.8 660.0,648.7 660.5,648.3 661.1,648.6 661.6,648.6 662.2,648.2 662.7,648.3 663.3,648.3 663.8,647.3 664.4,648.5 664.9,647.5 665.5,647.3 666.0,647.7 666.6,648.5 667.1,648.0 667.7,648.6 668.2,647.9 668.8,647.9 669.4,648.5 669.9,648.8 670.5,648.2 671.0,648.8 671.6,648.6 672.1,648.4 672.7,647.9 673.2,648.5 673.8,648.8" fill="none" stroke="#5a68c0" stroke-width="1.8" stroke-linejoin="round" /><polyline points="508.7,754.9 509.3,755.8 509.8,753.8 510.4,749.9 510.9,751.3 511.5,749.6 512.0,745.5 512.6,743.3 513.1,739.2 513.7,738.8 514.2,736.3 514.8,739.5 515.3,742.1 515.9,744.9 516.4,747.9 517.0,747.7 517.5,749.2 518.1,752.0 518.6,750.9 519.2,752.0 519.7,752.7 520.3,752.8 520.8,750.9 521.4,751.3 521.9,750.2 522.5,750.5 523.1,749.9 523.6,750.4 524.2,749.2 524.7,748.4 525.3,748.2 525.8,745.6 526.4,746.6 526.9,745.5 527.5,745.3 528.0,746.5 528.6,748.3 529.1,747.2 529.7,748.0 530.2,749.4 530.8,749.8 531.3,748.8 531.9,750.3 532.4,748.5 533.0,750.0 533.5,750.6 534.1,751.4 534.6,751.3 535.2,751.2 535.8,753.2 536.3,753.4 536.9,753.2 537.4,754.1 538.0,753.4 538.5,753.3 539.1,753.1 539.6,751.8 540.2,751.5 540.7,751.9 541.3,749.0 541.8,750.1 542.4,749.6 542.9,749.6 543.5,748.4 544.0,748.6 544.6,750.1 545.1,750.7 545.7,751.9 546.2,750.3 546.8,752.4 547.3,751.6 547.9,752.1 548.4,751.3 549.0,749.8 549.6,748.9 550.1,748.5 550.7,747.4 551.2,747.2 551.8,748.2 552.3,750.0 552.9,749.6 553.4,752.0 554.0,751.8 554.5,751.2 555.1,751.2 555.6,752.4 556.2,751.4 556.7,752.3 557.3,752.2 557.8,752.1 558.4,751.0 558.9,751.7 559.5,752.3 560.0,751.7 560.6,751.9 561.1,752.6 561.7,751.6 562.3,751.5 562.8,752.0 563.4,751.1 563.9,753.2 564.5,751.8 565.0,751.2 565.6,751.7 566.1,751.8 566.7,750.1 567.2,750.5 567.8,750.6 568.3,750.9 568.9,748.4 569.4,749.8 570.0,750.3 570.5,750.2 571.1,750.5 571.6,749.5 572.2,751.9 572.7,752.4 573.3,753.5 573.8,753.1 574.4,754.2 574.9,754.0 575.5,753.1 576.1,752.6 576.6,752.9 577.2,755.0 577.7,754.3 578.3,753.2 578.8,755.4 579.4,755.1 579.9,754.5 580.5,754.9 581.0,754.0 581.6,754.2 582.1,754.9 582.7,755.5 583.2,756.0 583.8,756.7 584.3,758.0 584.9,756.9 585.4,757.8 586.0,755.0 586.5,754.1 587.1,753.8 587.6,750.9 588.2,748.8 588.7,748.7 589.3,746.5 589.9,747.3 590.4,745.8 591.0,748.6 591.5,748.3 592.1,748.9 592.6,750.9 593.2,754.0 593.7,754.6 594.3,756.5 594.8,756.4 595.4,754.9 595.9,754.1 596.5,754.8 597.0,752.2 597.6,749.6 598.1,748.8 598.7,745.2 599.2,743.2 599.8,742.6 600.3,742.0 600.9,740.3 601.4,741.0 602.0,741.2 602.6,740.1 603.1,739.2 603.7,736.3 604.2,735.9 604.8,734.4 605.3,733.3 605.9,732.5 606.4,734.7 607.0,735.3 607.5,735.8 608.1,738.0 608.6,740.7 609.2,741.4 609.7,743.2 610.3,743.3 610.8,743.6 611.4,742.9 611.9,743.4 612.5,742.8 613.0,741.7 613.6,743.9 614.1,743.0 614.7,742.4 615.2,743.2 615.8,743.4 616.4,742.9 616.9,744.8 617.5,742.4 618.0,742.8 618.6,742.1 619.1,741.4 619.7,742.5 620.2,741.7 620.8,740.6 621.3,739.0 621.9,737.3 622.4,736.8 623.0,737.7 623.5,737.2 624.1,737.3 624.6,739.2 625.2,738.8 625.7,740.3 626.3,742.3 626.8,743.2 627.4,744.5 627.9,745.6 628.5,746.6 629.1,746.9 629.6,747.4 630.2,748.5 630.7,747.0 631.3,749.4 631.8,750.9 632.4,751.0 632.9,752.2 633.5,751.9 634.0,752.6 634.6,753.1 635.1,751.3 635.7,749.3 636.2,747.0 636.8,744.3 637.3,745.2 637.9,744.0 638.4,741.9 639.0,740.2 639.5,740.1 640.1,739.3 640.6,735.6 641.2,735.5 641.7,735.7 642.3,735.9 642.9,736.0 643.4,736.4 644.0,737.6 644.5,738.6 645.1,737.1 645.6,738.2 646.2,740.6 646.7,740.0 647.3,739.2 647.8,740.4 648.4,742.2 648.9,742.4 649.5,743.4 650.0,743.2 650.6,745.2 651.1,746.6 651.7,747.1 652.2,749.3 652.8,748.1 653.3,747.7 653.9,746.6 654.4,744.9 655.0,742.0 655.6,739.7 656.1,737.1 656.7,735.5 657.2,735.0 657.8,735.9 658.3,739.9 658.9,742.4 659.4,744.9 660.0,747.2 660.5,749.8 661.1,746.3 661.6,743.4 662.2,739.6 662.7,736.3 663.3,734.6 663.8,735.2 664.4,738.8 664.9,741.3 665.5,743.6 666.0,746.8 666.6,747.5 667.1,746.3 667.7,746.9 668.2,745.7 668.8,746.6 669.4,744.5 669.9,744.3 670.5,745.5 671.0,744.6 671.6,743.8 672.1,743.5 672.7,742.8 673.2,743.3 673.8,742.3" fill="none" stroke="#a888b8" stroke-width="1.9" stroke-linejoin="round" /><rect x="508.5" y="633" width="169.5" height="136.60000000000002" fill="none" stroke="#1a1a1a" stroke-width="1.1"/><line x1="508.7" y1="769.6" x2="508.7" y2="766.6" stroke="#1a1a1a" stroke-width="1"/><line x1="554.4" y1="769.6" x2="554.4" y2="766.6" stroke="#1a1a1a" stroke-width="1"/><line x1="600.1" y1="769.6" x2="600.1" y2="766.6" stroke="#1a1a1a" stroke-width="1"/><line x1="645.8" y1="769.6" x2="645.8" y2="766.6" stroke="#1a1a1a" stroke-width="1"/><line x1="531.5" y1="769.6" x2="531.5" y2="767.6" stroke="#1a1a1a" stroke-width="0.9"/><line x1="577.2" y1="769.6" x2="577.2" y2="767.6" stroke="#1a1a1a" stroke-width="0.9"/><line x1="623.0" y1="769.6" x2="623.0" y2="767.6" stroke="#1a1a1a" stroke-width="0.9"/><line x1="668.6" y1="769.6" x2="668.6" y2="767.6" stroke="#1a1a1a" stroke-width="0.9"/><line x1="508.5" y1="769.6" x2="511.5" y2="769.6" stroke="#1a1a1a" stroke-width="1"/><line x1="508.5" y1="748.7" x2="511.5" y2="748.7" stroke="#1a1a1a" stroke-width="1"/><line x1="508.5" y1="727.8" x2="511.5" y2="727.8" stroke="#1a1a1a" stroke-width="1"/><line x1="508.5" y1="707.0" x2="511.5" y2="707.0" stroke="#1a1a1a" stroke-width="1"/><line x1="508.5" y1="686.1" x2="511.5" y2="686.1" stroke="#1a1a1a" stroke-width="1"/><line x1="508.5" y1="665.2" x2="511.5" y2="665.2" stroke="#1a1a1a" stroke-width="1"/><line x1="508.5" y1="644.3" x2="511.5" y2="644.3" stroke="#1a1a1a" stroke-width="1"/><line x1="508.5" y1="759.2" x2="510.5" y2="759.2" stroke="#1a1a1a" stroke-width="0.9"/><line x1="508.5" y1="738.3" x2="510.5" y2="738.3" stroke="#1a1a1a" stroke-width="0.9"/><line x1="508.5" y1="717.4" x2="510.5" y2="717.4" stroke="#1a1a1a" stroke-width="0.9"/><line x1="508.5" y1="696.5" x2="510.5" y2="696.5" stroke="#1a1a1a" stroke-width="0.9"/><line x1="508.5" y1="675.6" x2="510.5" y2="675.6" stroke="#1a1a1a" stroke-width="0.9"/><line x1="508.5" y1="654.8" x2="510.5" y2="654.8" stroke="#1a1a1a" stroke-width="0.9"/><text x="508.7" y="782.3" font-size="12.1" font-weight="bold" fill="#000" text-anchor="middle" >0</text><text x="554.4" y="782.3" font-size="12.1" font-weight="bold" fill="#000" text-anchor="middle" >50</text><text x="600.1" y="782.3" font-size="12.1" font-weight="bold" fill="#000" text-anchor="middle" >100</text><text x="645.8" y="782.3" font-size="12.1" font-weight="bold" fill="#000" text-anchor="middle" >150</text><text x="505.4" y="773.1" font-size="12.1" font-weight="bold" fill="#000" text-anchor="end" >24</text><text x="505.4" y="752.2" font-size="12.1" font-weight="bold" fill="#000" text-anchor="end" >26</text><text x="505.4" y="731.3" font-size="12.1" font-weight="bold" fill="#000" text-anchor="end" >28</text><text x="505.4" y="710.5" font-size="12.1" font-weight="bold" fill="#000" text-anchor="end" >30</text><text x="505.4" y="689.6" font-size="12.1" font-weight="bold" fill="#000" text-anchor="end" >32</text><text x="505.4" y="668.7" font-size="12.1" font-weight="bold" fill="#000" text-anchor="end" >34</text><text x="505.4" y="647.8" font-size="12.1" font-weight="bold" fill="#000" text-anchor="end" >36</text><text x="593.3" y="795.5" font-size="11.8" font-weight="bold" fill="#000" text-anchor="middle" >Time (s)</text><text x="488.0" y="701.0" font-size="11.8" font-weight="bold" fill="#000" text-anchor="middle" transform="rotate(-90 488 701)">Temperature (°C)</text><text x="614.7" y="665.3" font-size="8.7" font-weight="bold" fill="#000" text-anchor="start" >Palm</text><text x="537.0" y="726.8" font-size="8.9" font-weight="bold" fill="#000" text-anchor="start" >PINF@CNTs dual-gradient aerogel</text><defs>
<filter id="b1" x="-50%" y="-50%" width="200%" height="200%"><feGaussianBlur stdDeviation="1"/></filter>
<filter id="b2" x="-50%" y="-50%" width="200%" height="200%"><feGaussianBlur stdDeviation="2"/></filter>
<filter id="b3" x="-50%" y="-50%" width="200%" height="200%"><feGaussianBlur stdDeviation="3"/></filter>
<filter id="b5" x="-50%" y="-50%" width="200%" height="200%"><feGaussianBlur stdDeviation="5"/></filter>
<filter id="b8" x="-50%" y="-50%" width="200%" height="200%"><feGaussianBlur stdDeviation="8"/></filter>
<filter id="b05" x="-20%" y="-20%" width="140%" height="140%"><feGaussianBlur stdDeviation="0.6"/></filter>
<linearGradient id="inferno" x1="0" y1="1" x2="0" y2="0">
<stop offset="0" stop-color="#080420"/><stop offset="0.05" stop-color="#180850"/><stop offset="0.12" stop-color="#400a90"/><stop offset="0.22" stop-color="#8010a8"/><stop offset="0.3" stop-color="#a020a0"/><stop offset="0.4" stop-color="#c03080"/><stop offset="0.5" stop-color="#e05050"/><stop offset="0.6" stop-color="#f07820"/><stop offset="0.7" stop-color="#f8a010"/><stop offset="0.8" stop-color="#f8d020"/><stop offset="0.9" stop-color="#f8f080"/><stop offset="1" stop-color="#f0f8f0"/></linearGradient>
<radialGradient id="blobA" cx="0.5" cy="0.45" r="0.55"><stop offset="0" stop-color="#f07030"/><stop offset="0.7" stop-color="#e85040"/><stop offset="1" stop-color="#c83070"/></radialGradient>
<radialGradient id="blobB" cx="0.55" cy="0.35" r="0.6"><stop offset="0" stop-color="#f8c018"/><stop offset="0.6" stop-color="#f8a018"/><stop offset="1" stop-color="#e86a28"/></radialGradient>
<linearGradient id="skirt" x1="0" y1="0" x2="0" y2="1"><stop offset="0" stop-color="#c03080"/><stop offset="0.45" stop-color="#8a18a8"/><stop offset="1" stop-color="#4a10a0" stop-opacity="0.3"/></linearGradient>
<radialGradient id="glowF" cx="0.5" cy="0.5" r="0.5"><stop offset="0" stop-color="#5010a0" stop-opacity="0.9"/><stop offset="1" stop-color="#2a0a80" stop-opacity="0"/></radialGradient>
</defs><rect x="478.8" y="174" width="176.2" height="157" fill="#130a62"/><rect x="567" y="174" width="88" height="157" fill="#170c6a"/><rect x="567" y="174" width="5" height="157" fill="#0e0850"/><line x1="478.8" y1="252.6" x2="655" y2="252.6" stroke="#4a4a8a" stroke-width="0.8"/><ellipse cx="524.8" cy="220.4" rx="34" ry="30" fill="url(#glowF)"/><path d="M503.79999999999995,208.4 L545.8,208.4 L544.8,234.4 Q524.8,244.4 504.79999999999995,234.4 Z" fill="url(#skirt)" filter="url(#b2)"/><path d="M502.79999999999995,210.4 A22,18 0 0 1 546.8,210.4 L546.3,218.4 Q524.8,228.4 503.29999999999995,218.4 Z" fill="url(#blobA)" filter="url(#b1)"/><path d="M519.3,208.4 h11 M524.8,202.9 v11" stroke="#fff" stroke-width="1.6"/><text x="525.3" y="233.7" font-size="14.45" font-weight="bold" fill="#fff" text-anchor="middle" >50.6 °C</text><text x="481.0" y="186.8" font-size="14.3" font-weight="bold" fill="#fff" text-anchor="start" >0 min</text><ellipse cx="608.4" cy="217.2" rx="34" ry="30" fill="url(#glowF)"/><path d="M587.4,205.2 L629.4,205.2 L628.4,231.2 Q608.4,241.2 588.4,231.2 Z" fill="url(#skirt)" filter="url(#b2)"/><path d="M586.4,207.2 A22,18 0 0 1 630.4,207.2 L629.9,215.2 Q608.4,225.2 586.9,215.2 Z" fill="url(#blobB)" filter="url(#b1)"/><path d="M602.9,205.2 h11 M608.4,199.7 v11" stroke="#fff" stroke-width="1.6"/><text x="608.9" y="233.4" font-size="14.45" font-weight="bold" fill="#fff" text-anchor="middle" >67.1 °C</text><text x="570.0" y="186.9" font-size="14.3" font-weight="bold" fill="#fff" text-anchor="start" >10 min</text><ellipse cx="525.4" cy="299.6" rx="34" ry="30" fill="url(#glowF)"/><path d="M504.4,287.6 L546.4,287.6 L545.4,313.6 Q525.4,323.6 505.4,313.6 Z" fill="url(#skirt)" filter="url(#b2)"/><path d="M503.4,289.6 A22,18 0 0 1 547.4,289.6 L546.9,297.6 Q525.4,307.6 503.9,297.6 Z" fill="url(#blobB)" filter="url(#b1)"/><path d="M519.9,287.6 h11 M525.4,282.1 v11" stroke="#fff" stroke-width="1.6"/><text x="525.9" y="313.3" font-size="14.45" font-weight="bold" fill="#fff" text-anchor="middle" >69.0 °C</text><text x="481.5" y="256.6" font-size="14.3" font-weight="bold" fill="#fff" text-anchor="start" >20 min</text><ellipse cx="607" cy="300.8" rx="34" ry="30" fill="url(#glowF)"/><path d="M586,288.8 L628,288.8 L627,314.8 Q607,324.8 587,314.8 Z" fill="url(#skirt)" filter="url(#b2)"/><path d="M585,290.8 A22,18 0 0 1 629,290.8 L628.5,298.8 Q607,308.8 585.5,298.8 Z" fill="url(#blobB)" filter="url(#b1)"/><path d="M601.5,288.8 h11 M607,283.3 v11" stroke="#fff" stroke-width="1.6"/><text x="607.5" y="313.4" font-size="14.45" font-weight="bold" fill="#fff" text-anchor="middle" >67.6 °C</text><text x="571.4" y="257.4" font-size="14.3" font-weight="bold" fill="#fff" text-anchor="start" >30 min</text><rect x="663.2" y="186.2" width="14" height="131" fill="url(#inferno)" stroke="#999" stroke-width="1.5"/><text x="655.3" y="183.2" font-size="13.4" font-weight="bold" fill="#000" text-anchor="start" >80 °C</text><text x="655.3" y="329.9" font-size="13.4" font-weight="bold" fill="#000" text-anchor="start" >25 °C</text><defs>
<linearGradient id="gPurp" x1="0" y1="0" x2="0" y2="1">
<stop offset="0" stop-color="#5010a8"/><stop offset="0.1" stop-color="#8010b0"/><stop offset="0.3" stop-color="#9c12b0"/><stop offset="0.6" stop-color="#a014ae"/><stop offset="0.85" stop-color="#9610b4"/><stop offset="1" stop-color="#8008b0"/></linearGradient>
<linearGradient id="cylG" x1="0" y1="0" x2="0" y2="1">
<stop offset="0" stop-color="#3616a0"/><stop offset="0.4" stop-color="#5214aa"/><stop offset="0.65" stop-color="#7c18aa"/><stop offset="0.8" stop-color="#c83868"/><stop offset="0.92" stop-color="#f07030"/><stop offset="1" stop-color="#f8a020"/></linearGradient>
<linearGradient id="cylLow" x1="0" y1="0" x2="0" y2="1">
<stop offset="0" stop-color="#f8a028"/><stop offset="0.15" stop-color="#f06838"/><stop offset="0.45" stop-color="#d84078"/><stop offset="1" stop-color="#b028a0" stop-opacity="0.5"/></linearGradient>
<linearGradient id="arrG" x1="0" y1="0" x2="1" y2="0">
<stop offset="0" stop-color="#e0c8f0" stop-opacity="0.15"/><stop offset="0.35" stop-color="#e8c8d0" stop-opacity="0.45"/><stop offset="0.6" stop-color="#f0d090" stop-opacity="0.8"/><stop offset="0.62" stop-color="#ecd048" stop-opacity="1"/><stop offset="1" stop-color="#f0d838"/></linearGradient>
<linearGradient id="arrH" x1="0" y1="0" x2="1" y2="0">
<stop offset="0" stop-color="#ffffff" stop-opacity="0.05"/><stop offset="0.55" stop-color="#e8e0c0" stop-opacity="0.5"/><stop offset="0.66" stop-color="#f0e040" stop-opacity="0.9"/><stop offset="1" stop-color="#f4e838"/></linearGradient>
<clipPath id="clipG"><rect x="36" y="344" width="647" height="131"/></clipPath>
</defs><g clip-path="url(#clipG)"><rect x="36" y="344" width="647" height="131" fill="#0a0a5a"/><rect x="36" y="404.5" width="162" height="71" fill="url(#gPurp)"/><rect x="198" y="407.5" width="163" height="68" fill="url(#gPurp)"/><rect x="361" y="409" width="160" height="66" fill="url(#gPurp)"/><rect x="521" y="410" width="162" height="65" fill="url(#gPurp)"/><rect x="36" y="402.5" width="162" height="4" fill="#3a0c80" opacity="0.6" filter="url(#b1)"/><rect x="198" y="405.5" width="163" height="4" fill="#3a0c80" opacity="0.6" filter="url(#b1)"/><rect x="361" y="407" width="160" height="4" fill="#3a0c80" opacity="0.6" filter="url(#b1)"/><rect x="521" y="408" width="162" height="4" fill="#3a0c80" opacity="0.6" filter="url(#b1)"/><rect x="231" y="405" width="130" height="9" fill="#0a0a5a"/><path d="M334.6,405 L361,405 L361,428.6 L346,428.6 Q335,427 334.6,418 Z" fill="#0e0a56"/><path d="M407.6,422 L521,422 L521,436.2 L406.1,434.4 Z" fill="#0c0850"/><rect x="487.4" y="405" width="33.6" height="31" fill="#0c0850"/><path d="M520.7,436 L520.7,448.4 L514,448.4 Q508.5,446 508.5,436 Z" fill="#0e0a56"/><rect x="96" y="411" width="38.80000000000001" height="32" fill="url(#cylG)"/><rect x="96" y="443" width="38.80000000000001" height="32" fill="url(#cylLow)"/><ellipse cx="115.4" cy="411" rx="19.400000000000006" ry="3" fill="#32108a"/><path d="M96,441 Q115.4,446.5 134.8,441" stroke="#f08028" stroke-width="6.5" fill="none" filter="url(#b1)"/><path d="M96,441 Q115.4,446.5 134.8,441" stroke="#f8c020" stroke-width="3.4" fill="none" filter="url(#b05)"/><path d="M97.5,441.4 Q115.4,446.1 133.3,441.4" stroke="#fcf080" stroke-width="1.6" fill="none"/><rect x="258.7" y="414" width="36.900000000000034" height="33.5" fill="url(#cylG)"/><rect x="258.7" y="447.5" width="36.900000000000034" height="27.5" fill="url(#cylLow)"/><path d="M258.7,445.5 Q277.15,451.0 295.6,445.5" stroke="#f08028" stroke-width="6.5" fill="none" filter="url(#b1)"/><path d="M258.7,445.5 Q277.15,451.0 295.6,445.5" stroke="#f8c020" stroke-width="3.4" fill="none" filter="url(#b05)"/><path d="M260.2,445.9 Q277.15,450.6 294.1,445.9" stroke="#fcf080" stroke-width="1.6" fill="none"/><rect x="427" y="436.2" width="36.80000000000001" height="11.800000000000011" fill="url(#cylG)"/><rect x="427" y="448" width="36.80000000000001" height="10" fill="url(#cylLow)"/><path d="M427,446 Q445.4,451.5 463.8,446" stroke="#f08028" stroke-width="6.5" fill="none" filter="url(#b1)"/><path d="M427,446 Q445.4,451.5 463.8,446" stroke="#f8c020" stroke-width="3.4" fill="none" filter="url(#b05)"/><path d="M428.5,446.4 Q445.4,451.1 462.3,446.4" stroke="#fcf080" stroke-width="1.6" fill="none"/><rect x="583.3" y="416.5" width="38.90000000000009" height="33.30000000000001" fill="url(#cylG)"/><rect x="583.3" y="449.8" width="38.90000000000009" height="25.19999999999999" fill="url(#cylLow)"/><ellipse cx="602.75" cy="416.5" rx="19.450000000000045" ry="3" fill="#32108a"/><path d="M583.3,447.8 Q602.75,453.3 622.2,447.8" stroke="#f08028" stroke-width="6.5" fill="none" filter="url(#b1)"/><path d="M583.3,447.8 Q602.75,453.3 622.2,447.8" stroke="#f8c020" stroke-width="3.4" fill="none" filter="url(#b05)"/><path d="M584.8,448.2 Q602.75,452.90000000000003 620.7,448.2" stroke="#fcf080" stroke-width="1.6" fill="none"/><line x1="198" y1="344" x2="198" y2="475" stroke="#000" stroke-opacity="0.08" stroke-width="1"/><line x1="361" y1="344" x2="361" y2="475" stroke="#000" stroke-opacity="0.08" stroke-width="1"/><line x1="521" y1="344" x2="521" y2="475" stroke="#000" stroke-opacity="0.08" stroke-width="1"/></g><path d="M182.3,404.5 Q193.9,409.5 202.9,409.1 L202.9,405.0 L215.5,414.5 L202.9,424.0 L202.9,419.9 Q193.9,419.5 182.3,424.5 Z" fill="url(#arrG)"/><path d="M340.4,404.5 Q352.2,409.5 361.2,409.1 L361.2,405.0 L374.0,414.5 L361.2,424.0 L361.2,419.9 Q352.2,419.5 340.4,424.5 Z" fill="url(#arrG)"/><path d="M500.6,404.5 Q512.3,409.5 521.2,409.1 L521.2,405.0 L533.9,414.5 L521.2,424.0 L521.2,419.9 Q512.3,419.5 500.6,424.5 Z" fill="url(#arrG)"/><text x="47.9" y="366.8" font-size="15.4" font-weight="bold" fill="#fff" text-anchor="start" >Heating stage</text><text x="57.8" y="389.6" font-size="15.6" font-weight="bold" fill="#fff" text-anchor="start" >(200 °C)</text><text x="158.6" y="392.1" font-size="15.3" font-weight="bold" fill="#fff" text-anchor="start" >As-prepared</text><text x="325.7" y="392.7" font-size="15.5" font-weight="bold" fill="#fff" text-anchor="start" >Compress</text><text x="492.6" y="392.4" font-size="15.5" font-weight="bold" fill="#fff" text-anchor="start" >Release</text><text x="45.9" y="460.3" font-size="15.35" font-weight="bold" fill="#111" text-anchor="start" >Dual-gradient aerogel</text><text x="211.3" y="458.0" font-size="15.8" font-weight="bold" fill="#111"><tspan font-style="italic">ε</tspan> = 0%</text><text x="367.5" y="459.0" font-size="15.8" font-weight="bold" fill="#111"><tspan font-style="italic">ε</tspan> = 60%</text><text x="529.4" y="458.2" font-size="15.8" font-weight="bold" fill="#111"><tspan font-style="italic">ε</tspan> = 0%</text><rect x="658.7" y="361" width="10.5" height="95.7" fill="url(#inferno)" stroke="#777" stroke-width="1"/><text x="643.0" y="357.4" font-size="13.45" font-weight="bold" fill="#fff" text-anchor="start" >200 °C</text><text x="648.7" y="469.3" font-size="13.45" font-weight="bold" fill="#fff" text-anchor="start" >25°C</text><defs>
<clipPath id="clipH"><rect x="36" y="478" width="647" height="130"/></clipPath>
<clipPath id="cH1"><rect x="36" y="478" width="162" height="130"/></clipPath>
<clipPath id="cH2"><rect x="198" y="478" width="162" height="130"/></clipPath>
<clipPath id="cH3"><rect x="360" y="478" width="161" height="130"/></clipPath>
<clipPath id="cH4"><rect x="521" y="478" width="162" height="130"/></clipPath>
<linearGradient id="hBg" x1="0" y1="0" x2="0" y2="1">
<stop offset="0" stop-color="#a4a8ac"/><stop offset="0.12" stop-color="#b2b6ba"/><stop offset="0.35" stop-color="#bec2c6"/><stop offset="0.6" stop-color="#c4c6c8"/><stop offset="0.85" stop-color="#c2c4c6"/><stop offset="1" stop-color="#a8aaac"/></linearGradient>
<radialGradient id="frost" cx="0.5" cy="0.5" r="0.5"><stop offset="0" stop-color="#f4f4f4"/><stop offset="0.8" stop-color="#ebebeb"/><stop offset="0.95" stop-color="#e0e0e0" stop-opacity="0.9"/><stop offset="1" stop-color="#d8d8d8" stop-opacity="0.3"/></radialGradient>
<linearGradient id="hCyl1" x1="0" y1="0" x2="0" y2="1"><stop offset="0" stop-color="#8e9092"/><stop offset="0.4" stop-color="#78797a"/><stop offset="0.8" stop-color="#5a5b5c"/><stop offset="1" stop-color="#6a6b6c"/></linearGradient>
<linearGradient id="hCyl2" x1="0" y1="0" x2="0" y2="1"><stop offset="0" stop-color="#7a7c7e"/><stop offset="0.35" stop-color="#555759"/><stop offset="0.8" stop-color="#3e4042"/><stop offset="1" stop-color="#4a4c4e"/></linearGradient>
<linearGradient id="hCyl4" x1="0" y1="0" x2="0" y2="1"><stop offset="0" stop-color="#9ea0a2"/><stop offset="0.5" stop-color="#8c8e90"/><stop offset="1" stop-color="#8a8c8e"/></linearGradient>
<linearGradient id="glove" x1="0" y1="0" x2="1" y2="1"><stop offset="0" stop-color="#303e94"/><stop offset="0.5" stop-color="#243284"/><stop offset="1" stop-color="#1a2266"/></linearGradient>
</defs><g clip-path="url(#clipH)"><rect x="36" y="478" width="647" height="130" fill="url(#hBg)"/><rect x="36" y="517" width="647" height="7" fill="#cfd1d3" opacity="0.5" filter="url(#b2)"/><path d="M36,520 Q118,513 198,519" stroke="#d6d8da" stroke-width="2" fill="none" filter="url(#b05)"/><path d="M198,521 Q280,515 360,520" stroke="#d0d2d4" stroke-width="1.8" fill="none" opacity="0.8" filter="url(#b05)"/><rect x="36" y="478" width="60" height="20" fill="#9ea2a6" opacity="0.5" filter="url(#b3)"/><g clip-path="url(#cH1)"><ellipse cx="112" cy="588" rx="66" ry="29" fill="#d6d8da" opacity="0.8" filter="url(#b3)"/><circle cx="54.6" cy="590.7" r="1.9" fill="#f0f0f0" opacity="0.7"/><circle cx="93.2" cy="565.1" r="2.1" fill="#f0f0f0" opacity="0.7"/><circle cx="139.8" cy="606.2" r="1.7" fill="#f0f0f0" opacity="0.7"/><circle cx="65.1" cy="603.5" r="2.1" fill="#f0f0f0" opacity="0.7"/><circle cx="58.5" cy="592.3" r="1.3" fill="#f0f0f0" opacity="0.7"/><circle cx="63.7" cy="573.5" r="1.3" fill="#f0f0f0" opacity="0.7"/><circle cx="59.9" cy="594.4" r="1.9" fill="#f0f0f0" opacity="0.7"/><circle cx="110.6" cy="608.7" r="2.0" fill="#f0f0f0" opacity="0.7"/><circle cx="91.8" cy="609.6" r="2.4" fill="#f0f0f0" opacity="0.7"/><circle cx="59.5" cy="576.1" r="2.2" fill="#f0f0f0" opacity="0.7"/><circle cx="161.3" cy="596.3" r="2.0" fill="#f0f0f0" opacity="0.7"/><circle cx="61.4" cy="590.8" r="2.2" fill="#f0f0f0" opacity="0.7"/><circle cx="79.4" cy="570.1" r="1.8" fill="#f0f0f0" opacity="0.7"/><circle cx="139.0" cy="607.9" r="1.2" fill="#f0f0f0" opacity="0.7"/><circle cx="80.8" cy="567.2" r="1.3" fill="#f0f0f0" opacity="0.7"/><circle cx="106.6" cy="610.6" r="2.3" fill="#f0f0f0" opacity="0.7"/><circle cx="138.8" cy="607.2" r="1.9" fill="#f0f0f0" opacity="0.7"/><circle cx="138.5" cy="605.8" r="2.1" fill="#f0f0f0" opacity="0.7"/><circle cx="71.1" cy="572.2" r="1.8" fill="#f0f0f0" opacity="0.7"/><circle cx="156.6" cy="601.5" r="1.7" fill="#f0f0f0" opacity="0.7"/><circle cx="59.6" cy="586.1" r="1.1" fill="#f0f0f0" opacity="0.7"/><circle cx="54.2" cy="585.7" r="2.0" fill="#f0f0f0" opacity="0.7"/><circle cx="162.5" cy="579.5" r="1.6" fill="#f0f0f0" opacity="0.7"/><circle cx="84.8" cy="607.7" r="2.0" fill="#f0f0f0" opacity="0.7"/><circle cx="146.1" cy="572.3" r="1.9" fill="#f0f0f0" opacity="0.7"/><circle cx="118.3" cy="564.7" r="1.6" fill="#f0f0f0" opacity="0.7"/><circle cx="160.9" cy="597.4" r="1.9" fill="#f0f0f0" opacity="0.7"/><circle cx="121.4" cy="567.0" r="1.5" fill="#f0f0f0" opacity="0.7"/><circle cx="77.3" cy="603.3" r="2.5" fill="#f0f0f0" opacity="0.7"/><circle cx="78.8" cy="605.8" r="2.5" fill="#f0f0f0" opacity="0.7"/><circle cx="122.7" cy="566.9" r="2.4" fill="#f0f0f0" opacity="0.7"/><circle cx="137.9" cy="567.8" r="1.7" fill="#f0f0f0" opacity="0.7"/><circle cx="147.2" cy="568.4" r="2.0" fill="#f0f0f0" opacity="0.7"/><circle cx="86.3" cy="609.6" r="2.0" fill="#f0f0f0" opacity="0.7"/><circle cx="165.7" cy="577.9" r="2.0" fill="#f0f0f0" opacity="0.7"/><circle cx="156.0" cy="574.5" r="1.9" fill="#f0f0f0" opacity="0.7"/><circle cx="111.2" cy="565.8" r="1.2" fill="#f0f0f0" opacity="0.7"/><circle cx="138.7" cy="568.1" r="1.7" fill="#f0f0f0" opacity="0.7"/><circle cx="59.3" cy="583.4" r="2.3" fill="#f0f0f0" opacity="0.7"/><circle cx="100.1" cy="608.9" r="1.9" fill="#f0f0f0" opacity="0.7"/><ellipse cx="112" cy="588" rx="60" ry="24" fill="url(#frost)" filter="url(#b1)"/><path d="M95.9,549.8 L96.4,580.3 Q116.2,585.8 136.0,580.3 L136.5,549.8 Z" fill="url(#hCyl1)" filter="url(#b05)"/><ellipse cx="116.2" cy="549.8" rx="20.299999999999997" ry="2.4" fill="#9a9c9e" opacity="0.9" filter="url(#b05)"/><ellipse cx="111.125" cy="572.55" rx="9.135" ry="10.049999999999999" fill="#3a3a3a" opacity="0.35" filter="url(#b3)"/></g><g clip-path="url(#cH2)"><ellipse cx="271" cy="586" rx="66" ry="31" fill="#d6d8da" opacity="0.8" filter="url(#b3)"/><circle cx="216.7" cy="588.4" r="2.0" fill="#f0f0f0" opacity="0.7"/><circle cx="231.5" cy="603.6" r="2.0" fill="#f0f0f0" opacity="0.7"/><circle cx="297.1" cy="566.6" r="2.2" fill="#f0f0f0" opacity="0.7"/><circle cx="314.0" cy="601.1" r="2.1" fill="#f0f0f0" opacity="0.7"/><circle cx="316.7" cy="602.8" r="1.5" fill="#f0f0f0" opacity="0.7"/><circle cx="221.5" cy="595.6" r="1.2" fill="#f0f0f0" opacity="0.7"/><circle cx="261.8" cy="562.1" r="2.3" fill="#f0f0f0" opacity="0.7"/><circle cx="211.3" cy="589.8" r="2.2" fill="#f0f0f0" opacity="0.7"/><circle cx="325.9" cy="584.5" r="1.1" fill="#f0f0f0" opacity="0.7"/><circle cx="317.6" cy="575.5" r="2.2" fill="#f0f0f0" opacity="0.7"/><circle cx="314.9" cy="573.0" r="1.8" fill="#f0f0f0" opacity="0.7"/><circle cx="329.3" cy="582.7" r="2.0" fill="#f0f0f0" opacity="0.7"/><circle cx="320.4" cy="573.2" r="2.3" fill="#f0f0f0" opacity="0.7"/><circle cx="286.9" cy="610.8" r="2.3" fill="#f0f0f0" opacity="0.7"/><circle cx="305.8" cy="603.9" r="2.0" fill="#f0f0f0" opacity="0.7"/><circle cx="321.2" cy="579.9" r="2.3" fill="#f0f0f0" opacity="0.7"/><circle cx="241.4" cy="564.3" r="1.7" fill="#f0f0f0" opacity="0.7"/><circle cx="220.0" cy="594.9" r="1.9" fill="#f0f0f0" opacity="0.7"/><circle cx="232.0" cy="600.7" r="2.5" fill="#f0f0f0" opacity="0.7"/><circle cx="217.2" cy="573.9" r="1.5" fill="#f0f0f0" opacity="0.7"/><circle cx="221.7" cy="600.0" r="1.4" fill="#f0f0f0" opacity="0.7"/><circle cx="231.4" cy="605.7" r="2.4" fill="#f0f0f0" opacity="0.7"/><circle cx="217.1" cy="580.7" r="2.4" fill="#f0f0f0" opacity="0.7"/><circle cx="317.9" cy="599.0" r="2.0" fill="#f0f0f0" opacity="0.7"/><circle cx="241.5" cy="567.7" r="2.2" fill="#f0f0f0" opacity="0.7"/><circle cx="215.0" cy="582.2" r="1.8" fill="#f0f0f0" opacity="0.7"/><circle cx="223.6" cy="576.2" r="2.4" fill="#f0f0f0" opacity="0.7"/><circle cx="316.1" cy="568.9" r="1.5" fill="#f0f0f0" opacity="0.7"/><circle cx="240.7" cy="605.9" r="1.6" fill="#f0f0f0" opacity="0.7"/><circle cx="222.7" cy="597.3" r="2.2" fill="#f0f0f0" opacity="0.7"/><circle cx="293.2" cy="606.7" r="1.4" fill="#f0f0f0" opacity="0.7"/><circle cx="234.7" cy="605.5" r="1.5" fill="#f0f0f0" opacity="0.7"/><circle cx="329.8" cy="582.9" r="2.0" fill="#f0f0f0" opacity="0.7"/><circle cx="328.2" cy="580.5" r="1.1" fill="#f0f0f0" opacity="0.7"/><circle cx="321.3" cy="575.5" r="2.0" fill="#f0f0f0" opacity="0.7"/><circle cx="327.1" cy="594.0" r="1.9" fill="#f0f0f0" opacity="0.7"/><circle cx="288.4" cy="608.8" r="2.2" fill="#f0f0f0" opacity="0.7"/><circle cx="316.0" cy="603.7" r="1.8" fill="#f0f0f0" opacity="0.7"/><circle cx="283.5" cy="607.6" r="2.1" fill="#f0f0f0" opacity="0.7"/><circle cx="262.0" cy="561.8" r="1.6" fill="#f0f0f0" opacity="0.7"/><ellipse cx="271" cy="586" rx="60" ry="26" fill="url(#frost)" filter="url(#b1)"/><path d="M259.8,548.2 L260.3,580.3 Q279.75,585.8 299.2,580.3 L299.7,548.2 Z" fill="url(#hCyl2)" filter="url(#b05)"/><ellipse cx="279.75" cy="548.2" rx="19.94999999999999" ry="2.4" fill="#9a9c9e" opacity="0.9" filter="url(#b05)"/><ellipse cx="274.7625" cy="571.75" rx="8.977499999999996" ry="10.529999999999973" fill="#3a3a3a" opacity="0.35" filter="url(#b3)"/></g><g clip-path="url(#cH3)"><ellipse cx="432" cy="594" rx="68" ry="25" fill="#d6d8da" opacity="0.8" filter="url(#b3)"/><circle cx="380.3" cy="584.4" r="1.1" fill="#f0f0f0" opacity="0.7"/><circle cx="451.3" cy="576.8" r="2.1" fill="#f0f0f0" opacity="0.7"/><circle cx="457.2" cy="612.0" r="2.0" fill="#f0f0f0" opacity="0.7"/><circle cx="404.0" cy="577.6" r="2.4" fill="#f0f0f0" opacity="0.7"/><circle cx="444.1" cy="611.7" r="1.4" fill="#f0f0f0" opacity="0.7"/><circle cx="420.3" cy="576.6" r="2.0" fill="#f0f0f0" opacity="0.7"/><circle cx="457.4" cy="575.5" r="1.2" fill="#f0f0f0" opacity="0.7"/><circle cx="411.7" cy="612.3" r="1.5" fill="#f0f0f0" opacity="0.7"/><circle cx="477.2" cy="583.8" r="2.2" fill="#f0f0f0" opacity="0.7"/><circle cx="398.8" cy="580.3" r="1.5" fill="#f0f0f0" opacity="0.7"/><circle cx="479.8" cy="580.8" r="1.5" fill="#f0f0f0" opacity="0.7"/><circle cx="481.6" cy="584.2" r="1.6" fill="#f0f0f0" opacity="0.7"/><circle cx="403.5" cy="578.5" r="2.2" fill="#f0f0f0" opacity="0.7"/><circle cx="446.9" cy="575.2" r="1.9" fill="#f0f0f0" opacity="0.7"/><circle cx="375.9" cy="602.8" r="1.1" fill="#f0f0f0" opacity="0.7"/><circle cx="422.8" cy="612.8" r="2.2" fill="#f0f0f0" opacity="0.7"/><circle cx="469.3" cy="607.8" r="2.3" fill="#f0f0f0" opacity="0.7"/><circle cx="454.8" cy="612.3" r="1.3" fill="#f0f0f0" opacity="0.7"/><circle cx="369.4" cy="593.6" r="1.4" fill="#f0f0f0" opacity="0.7"/><circle cx="372.9" cy="588.3" r="1.9" fill="#f0f0f0" opacity="0.7"/><circle cx="378.9" cy="599.0" r="1.9" fill="#f0f0f0" opacity="0.7"/><circle cx="377.3" cy="588.0" r="1.4" fill="#f0f0f0" opacity="0.7"/><circle cx="423.5" cy="613.6" r="2.5" fill="#f0f0f0" opacity="0.7"/><circle cx="477.7" cy="603.0" r="1.6" fill="#f0f0f0" opacity="0.7"/><circle cx="432.0" cy="575.3" r="1.8" fill="#f0f0f0" opacity="0.7"/><circle cx="432.1" cy="573.9" r="1.3" fill="#f0f0f0" opacity="0.7"/><circle cx="482.2" cy="600.9" r="1.7" fill="#f0f0f0" opacity="0.7"/><circle cx="406.3" cy="609.5" r="2.4" fill="#f0f0f0" opacity="0.7"/><circle cx="418.5" cy="576.6" r="1.0" fill="#f0f0f0" opacity="0.7"/><circle cx="445.0" cy="575.4" r="2.3" fill="#f0f0f0" opacity="0.7"/><circle cx="422.6" cy="612.4" r="1.5" fill="#f0f0f0" opacity="0.7"/><circle cx="468.9" cy="609.3" r="1.6" fill="#f0f0f0" opacity="0.7"/><circle cx="473.1" cy="580.3" r="1.4" fill="#f0f0f0" opacity="0.7"/><circle cx="463.8" cy="579.8" r="1.2" fill="#f0f0f0" opacity="0.7"/><circle cx="488.2" cy="595.1" r="1.9" fill="#f0f0f0" opacity="0.7"/><circle cx="394.4" cy="579.6" r="1.4" fill="#f0f0f0" opacity="0.7"/><circle cx="410.8" cy="610.5" r="1.5" fill="#f0f0f0" opacity="0.7"/><circle cx="376.1" cy="593.5" r="2.2" fill="#f0f0f0" opacity="0.7"/><circle cx="489.1" cy="590.4" r="1.3" fill="#f0f0f0" opacity="0.7"/><circle cx="492.7" cy="593.3" r="1.7" fill="#f0f0f0" opacity="0.7"/><ellipse cx="432" cy="594" rx="62" ry="20" fill="url(#frost)" filter="url(#b1)"/><path d="M426.2,574 L426.7,581.5 Q447.1,587.0 467.5,581.5 L468,574 Z" fill="#66686a" filter="url(#b05)"/><ellipse cx="447.1" cy="574" rx="20.900000000000006" ry="2.4" fill="#9a9c9e" opacity="0.9" filter="url(#b05)"/><ellipse cx="441.875" cy="585.25" rx="9.405000000000003" ry="3.15" fill="#3a3a3a" opacity="0.35" filter="url(#b3)"/></g><g clip-path="url(#cH4)"><ellipse cx="603" cy="580" rx="67" ry="29" fill="#d6d8da" opacity="0.8" filter="url(#b3)"/><circle cx="632.5" cy="599.5" r="1.7" fill="#f0f0f0" opacity="0.7"/><circle cx="552.5" cy="569.4" r="1.1" fill="#f0f0f0" opacity="0.7"/><circle cx="649.3" cy="589.7" r="2.0" fill="#f0f0f0" opacity="0.7"/><circle cx="543.2" cy="585.0" r="1.6" fill="#f0f0f0" opacity="0.7"/><circle cx="597.8" cy="556.0" r="1.4" fill="#f0f0f0" opacity="0.7"/><circle cx="628.1" cy="559.9" r="2.0" fill="#f0f0f0" opacity="0.7"/><circle cx="644.9" cy="567.9" r="1.1" fill="#f0f0f0" opacity="0.7"/><circle cx="646.0" cy="567.3" r="2.4" fill="#f0f0f0" opacity="0.7"/><circle cx="604.7" cy="558.3" r="2.5" fill="#f0f0f0" opacity="0.7"/><circle cx="654.5" cy="577.6" r="2.2" fill="#f0f0f0" opacity="0.7"/><circle cx="591.0" cy="559.1" r="1.7" fill="#f0f0f0" opacity="0.7"/><circle cx="614.6" cy="603.3" r="1.3" fill="#f0f0f0" opacity="0.7"/><circle cx="594.4" cy="601.4" r="1.7" fill="#f0f0f0" opacity="0.7"/><circle cx="661.5" cy="588.1" r="1.6" fill="#f0f0f0" opacity="0.7"/><circle cx="575.3" cy="558.3" r="1.7" fill="#f0f0f0" opacity="0.7"/><circle cx="647.3" cy="591.5" r="1.9" fill="#f0f0f0" opacity="0.7"/><circle cx="549.6" cy="568.1" r="1.9" fill="#f0f0f0" opacity="0.7"/><circle cx="601.3" cy="558.7" r="1.6" fill="#f0f0f0" opacity="0.7"/><circle cx="571.7" cy="600.2" r="2.5" fill="#f0f0f0" opacity="0.7"/><circle cx="659.6" cy="573.5" r="1.8" fill="#f0f0f0" opacity="0.7"/><circle cx="654.4" cy="585.5" r="2.3" fill="#f0f0f0" opacity="0.7"/><circle cx="557.7" cy="591.5" r="1.3" fill="#f0f0f0" opacity="0.7"/><circle cx="545.3" cy="574.6" r="2.3" fill="#f0f0f0" opacity="0.7"/><circle cx="553.8" cy="590.5" r="2.0" fill="#f0f0f0" opacity="0.7"/><circle cx="571.6" cy="601.0" r="2.4" fill="#f0f0f0" opacity="0.7"/><circle cx="655.6" cy="590.8" r="2.1" fill="#f0f0f0" opacity="0.7"/><circle cx="611.1" cy="602.8" r="1.1" fill="#f0f0f0" opacity="0.7"/><circle cx="575.5" cy="601.2" r="2.3" fill="#f0f0f0" opacity="0.7"/><circle cx="548.6" cy="591.1" r="1.0" fill="#f0f0f0" opacity="0.7"/><circle cx="562.7" cy="594.0" r="2.3" fill="#f0f0f0" opacity="0.7"/><circle cx="625.0" cy="558.5" r="1.3" fill="#f0f0f0" opacity="0.7"/><circle cx="647.5" cy="565.3" r="2.2" fill="#f0f0f0" opacity="0.7"/><circle cx="629.2" cy="599.9" r="1.3" fill="#f0f0f0" opacity="0.7"/><circle cx="664.1" cy="576.8" r="2.4" fill="#f0f0f0" opacity="0.7"/><circle cx="618.7" cy="599.9" r="2.1" fill="#f0f0f0" opacity="0.7"/><circle cx="564.0" cy="594.4" r="2.1" fill="#f0f0f0" opacity="0.7"/><circle cx="581.2" cy="561.1" r="1.4" fill="#f0f0f0" opacity="0.7"/><circle cx="614.8" cy="601.1" r="1.6" fill="#f0f0f0" opacity="0.7"/><circle cx="649.0" cy="593.9" r="1.5" fill="#f0f0f0" opacity="0.7"/><circle cx="557.9" cy="593.4" r="1.1" fill="#f0f0f0" opacity="0.7"/><ellipse cx="603" cy="580" rx="61" ry="24" fill="url(#frost)" filter="url(#b1)"/><path d="M587.2,551 L587.7,580.3 Q606.95,585.8 626.2,580.3 L626.7,551 Z" fill="url(#hCyl4)" filter="url(#b05)"/><ellipse cx="606.95" cy="551" rx="19.75" ry="2.4" fill="#9a9c9e" opacity="0.9" filter="url(#b05)"/><ellipse cx="602.0125" cy="573.15" rx="8.887500000000001" ry="9.689999999999985" fill="#3a3a3a" opacity="0.35" filter="url(#b3)"/></g><rect x="36" y="476" width="162" height="12" fill="#9a9ea2" opacity="0.55" filter="url(#b2)"/><rect x="198" y="476" width="162" height="12" fill="#9a9ea2" opacity="0.55" filter="url(#b2)"/><rect x="360" y="476" width="161" height="12" fill="#9a9ea2" opacity="0.55" filter="url(#b2)"/><rect x="521" y="476" width="162" height="12" fill="#9a9ea2" opacity="0.55" filter="url(#b2)"/><rect x="266" y="478" width="50" height="5" fill="#dcdcdc"/><rect x="430" y="478" width="60" height="4" fill="#d4d4d4"/><rect x="590" y="478" width="40" height="4" fill="#d0d0d0"/><circle cx="98.5" cy="483.0" r="1.6" fill="#e8e8e8"/><circle cx="97.0" cy="486.5" r="1.6" fill="#e8e8e8"/><circle cx="93.5" cy="488.0" r="1.6" fill="#e8e8e8"/><circle cx="90.0" cy="486.5" r="1.6" fill="#e8e8e8"/><circle cx="88.5" cy="483.0" r="1.6" fill="#e8e8e8"/><circle cx="90.0" cy="479.5" r="1.6" fill="#e8e8e8"/><circle cx="93.5" cy="478.0" r="1.6" fill="#e8e8e8"/><circle cx="97.0" cy="479.5" r="1.6" fill="#e8e8e8"/><circle cx="93.5" cy="483" r="5" fill="#e6e6e6" stroke="#c0c0c0" stroke-width="1"/><circle cx="93.5" cy="483" r="2" fill="#c4c4c4"/><circle cx="261.7" cy="483.0" r="1.6" fill="#e8e8e8"/><circle cx="260.2" cy="486.5" r="1.6" fill="#e8e8e8"/><circle cx="256.7" cy="488.0" r="1.6" fill="#e8e8e8"/><circle cx="253.2" cy="486.5" r="1.6" fill="#e8e8e8"/><circle cx="251.7" cy="483.0" r="1.6" fill="#e8e8e8"/><circle cx="253.2" cy="479.5" r="1.6" fill="#e8e8e8"/><circle cx="256.7" cy="478.0" r="1.6" fill="#e8e8e8"/><circle cx="260.2" cy="479.5" r="1.6" fill="#e8e8e8"/><circle cx="256.7" cy="483" r="5" fill="#e6e6e6" stroke="#c0c0c0" stroke-width="1"/><circle cx="256.7" cy="483" r="2" fill="#c4c4c4"/><circle cx="426.0" cy="483.0" r="1.6" fill="#e8e8e8"/><circle cx="424.5" cy="486.5" r="1.6" fill="#e8e8e8"/><circle cx="421.0" cy="488.0" r="1.6" fill="#e8e8e8"/><circle cx="417.5" cy="486.5" r="1.6" fill="#e8e8e8"/><circle cx="416.0" cy="483.0" r="1.6" fill="#e8e8e8"/><circle cx="417.5" cy="479.5" r="1.6" fill="#e8e8e8"/><circle cx="421.0" cy="478.0" r="1.6" fill="#e8e8e8"/><circle cx="424.5" cy="479.5" r="1.6" fill="#e8e8e8"/><circle cx="421" cy="483" r="5" fill="#e6e6e6" stroke="#c0c0c0" stroke-width="1"/><circle cx="421" cy="483" r="2" fill="#c4c4c4"/><circle cx="594.0" cy="483.0" r="1.6" fill="#e8e8e8"/><circle cx="592.5" cy="486.5" r="1.6" fill="#e8e8e8"/><circle cx="589.0" cy="488.0" r="1.6" fill="#e8e8e8"/><circle cx="585.5" cy="486.5" r="1.6" fill="#e8e8e8"/><circle cx="584.0" cy="483.0" r="1.6" fill="#e8e8e8"/><circle cx="585.5" cy="479.5" r="1.6" fill="#e8e8e8"/><circle cx="589.0" cy="478.0" r="1.6" fill="#e8e8e8"/><circle cx="592.5" cy="479.5" r="1.6" fill="#e8e8e8"/><circle cx="589" cy="483" r="5" fill="#e6e6e6" stroke="#c0c0c0" stroke-width="1"/><circle cx="589" cy="483" r="2" fill="#c4c4c4"/><g clip-path="url(#cH2)"><path d="M328.5,478 L360,478 L360,530 L341.6,527 L326.8,519 L331.8,502 Z" fill="#04050a"/><path d="M313.8,478 L330,478 L334,495 L326,518 L340,527 L330,538 L320.3,538.5 L307.2,540.1 L290.9,541.8 L281,538.5 L280.2,527 L286,517.2 L299,505.8 L310.5,491 Z" fill="url(#glove)" filter="url(#b05)"/><path d="M318,480 Q322,500 312,515" stroke="#141c58" stroke-width="2.5" fill="none" opacity="0.6"/><path d="M330,478 L345,478 L340,500 L332,520 L326,518 L334,495 Z" fill="#1c2668"/><path d="M325.2,543.4 Q332,533 345,530 L360,529 L360,574.5 L348,574.5 L335,572.8 L326.8,566.3 Z" fill="#2e3e96" filter="url(#b05)"/><path d="M300,506 Q290,516 284,530" stroke="#4a5cb8" stroke-width="3" fill="none" opacity="0.5"/><ellipse cx="298" cy="535" rx="26" ry="10" fill="#b8bcc8" opacity="0.6" filter="url(#b3)"/><ellipse cx="338" cy="560" rx="12" ry="10" fill="#c8ccd4" opacity="0.4" filter="url(#b3)"/></g><g clip-path="url(#cH3)"><ellipse cx="430" cy="535" rx="60" ry="45" fill="#cfd2d6" opacity="0.5" filter="url(#b8)"/><path d="M491.7,478 L521,478 L521,541 L493.3,539.4 Q484,528 486.8,518 Q489,500 491.7,478 Z" fill="#2434a0" filter="url(#b05)"/><path d="M500,485 Q510,500 505,520" stroke="#1a2270" stroke-width="3" fill="none" opacity="0.7"/><ellipse cx="473" cy="546" rx="21" ry="16" fill="#6a72a8" opacity="0.7" filter="url(#b3)"/><ellipse cx="470" cy="549" rx="12" ry="8" fill="#4a5290" opacity="0.45" filter="url(#b3)"/><path d="M493.3,562 Q497,554 508,554 L521,554 L521,608 L493.3,608 Z" fill="#6070a8" opacity="0.65" filter="url(#b2)"/><ellipse cx="440" cy="560" rx="50" ry="25" fill="#d4d6da" opacity="0.35" filter="url(#b5)"/><ellipse cx="490" cy="520" rx="20" ry="20" fill="#c0c4cc" opacity="0.3" filter="url(#b5)"/></g><g clip-path="url(#cH4)"><path d="M628,478 L683,478 L683,505 L660,512 Q640,516 625,510 Q617,498 622,488 Z" fill="#3444a2" filter="url(#b05)"/><path d="M660,505 L683,500 L683,538 L668,536 Q656,528 658,515 Z" fill="#3242a0" filter="url(#b05)"/><path d="M632,500 Q645,490 665,480" stroke="#6a7cc8" stroke-width="2.5" fill="none" opacity="0.7"/><ellipse cx="640" cy="512" rx="25" ry="8" fill="#c8ccd4" opacity="0.4" filter="url(#b3)"/><line x1="576" y1="520.6" x2="683" y2="520.6" stroke="#8a8e92" stroke-width="1"/></g><line x1="198" y1="478" x2="198" y2="608" stroke="#888" stroke-opacity="0.25" stroke-width="1"/><line x1="360" y1="478" x2="360" y2="608" stroke="#888" stroke-opacity="0.25" stroke-width="1"/><line x1="521" y1="478" x2="521" y2="608" stroke="#888" stroke-opacity="0.25" stroke-width="1"/></g><path d="M182.3,539 Q192.7,544 200.7,543.6 L200.7,539.5 L212.0,549 L200.7,558.5 L200.7,554.4 Q192.7,554 182.3,559 Z" fill="url(#arrH)"/><path d="M345.0,541.7 Q356.0,546.7 364.4,546.3000000000001 L364.4,542.2 L376.3,551.7 L364.4,561.2 L364.4,557.1 Q356.0,556.7 345.0,561.7 Z" fill="url(#arrH)"/><path d="M503.0,538 Q513.8,543 522.2,542.6 L522.2,538.5 L533.9,548 L522.2,557.5 L522.2,553.4 Q513.8,553 503.0,558 Z" fill="url(#arrH)"/><text x="56.4" y="498.6" font-size="15.6" font-weight="bold" fill="#111" text-anchor="start" >Liquid N<tspan font-size="10" dy="3">2</tspan></text><text x="57.6" y="519.7" font-size="15.55" font-weight="bold" fill="#111" text-anchor="start" >(-196 °C)</text><text x="158.6" y="525.9" font-size="15.3" font-weight="bold" fill="#fff" text-anchor="start" >As-prepared</text><text x="326.5" y="527.5" font-size="15.55" font-weight="bold" fill="#fff" text-anchor="start" >Compress</text><text x="492.6" y="526.2" font-size="15.5" font-weight="bold" fill="#fff" text-anchor="start" >Release</text><text x="44.7" y="597.1" font-size="15.2" font-weight="bold" fill="#111" text-anchor="start" >Dual-gradient aerogel</text><text x="212.3" y="592.0" font-size="15.8" font-weight="bold" fill="#111"><tspan font-style="italic">ε</tspan> = 0%</text><text x="372.3" y="592.0" font-size="15.8" font-weight="bold" fill="#111"><tspan font-style="italic">ε</tspan> = 60%</text><text x="536.5" y="593.2" font-size="15.8" font-weight="bold" fill="#111"><tspan font-style="italic">ε</tspan> = 0%</text><defs>
<clipPath id="clipI"><rect x="37" y="614" width="380" height="191"/></clipPath>
<linearGradient id="hand1" x1="0" y1="0" x2="1" y2="0">
<stop offset="0" stop-color="#f4a020"/><stop offset="0.08" stop-color="#f8c020"/><stop offset="0.2" stop-color="#fbd424"/><stop offset="1" stop-color="#fcd826"/></linearGradient>
<linearGradient id="hand2" x1="0" y1="0" x2="1" y2="0">
<stop offset="0" stop-color="#ee7c1c"/><stop offset="0.1" stop-color="#f4a212"/><stop offset="0.28" stop-color="#f8bc0e"/><stop offset="1" stop-color="#fac412"/></linearGradient>
<linearGradient id="cbI" x1="0" y1="1" x2="0" y2="0">
<stop offset="0" stop-color="#0a0430"/><stop offset="0.12" stop-color="#2a0a70"/><stop offset="0.3" stop-color="#7a10a0"/><stop offset="0.45" stop-color="#b82888"/><stop offset="0.6" stop-color="#e05040"/><stop offset="0.75" stop-color="#f89018"/><stop offset="0.88" stop-color="#f8d020"/><stop offset="1" stop-color="#f8f8e0"/></linearGradient>
<linearGradient id="arrI" x1="0" y1="0" x2="1" y2="1"><stop offset="0" stop-color="#e0e8f4"/><stop offset="1" stop-color="#a0b0d0"/></linearGradient>
</defs><rect x="37" y="614" width="380" height="191" fill="#030a03"/><g clip-path="url(#clipI)"><clipPath id="hc0"><path d="M37.0,700.1 C39.6,697.9 42.6,691.1 45.8,687.0 C49.0,682.9 52.6,678.5 56.0,675.3 C59.4,672.1 62.3,670.9 66.2,668.0 C70.1,665.1 75.9,661.0 79.3,657.8 C82.7,654.6 84.9,652.2 86.6,649.0 C88.3,645.8 88.8,641.8 89.6,638.8 C90.4,635.8 90.7,632.4 91.7,630.8 C92.7,629.2 93.9,628.8 95.4,629.3 C96.9,629.8 99.2,631.4 100.5,633.7 C101.8,636.0 102.9,640.2 103.4,643.2 C103.9,646.2 104.0,648.8 103.4,652.0 C102.8,655.2 101.4,658.8 99.8,662.2 C98.2,665.6 95.1,669.2 93.9,672.4 C92.7,675.6 91.8,679.3 92.5,681.2 C93.2,683.1 94.9,683.5 98.3,684.0 C101.7,684.5 108.5,684.5 112.9,684.0 C117.3,683.5 121.8,681.9 124.6,681.2 C127.4,680.5 126.7,681.2 130.0,680.0 C133.3,678.8 139.7,676.1 144.6,674.1 C149.5,672.1 154.3,670.3 159.2,668.2 C164.1,666.1 170.2,663.1 173.8,661.7 C177.5,660.3 178.8,659.9 181.1,659.9 C183.4,659.9 186.4,660.7 187.7,661.7 C189.0,662.7 189.3,664.7 189.1,666.1 C188.8,667.5 188.8,668.5 186.2,670.4 C183.6,672.3 178.3,675.0 173.8,677.7 C169.3,680.4 164.1,683.6 159.2,686.5 C154.3,689.4 148.6,693.0 144.6,695.3 C140.6,697.6 136.8,698.9 135.1,700.4 C133.4,701.9 134.3,702.9 134.4,704.0 C134.5,705.1 131.7,706.9 135.8,707.0 C139.9,707.1 150.4,705.4 159.2,704.7 C168.0,704.0 180.6,703.1 188.4,702.6 C196.2,702.1 202.2,701.3 205.9,701.8 C209.6,702.3 209.7,703.9 210.3,705.5 C210.9,707.1 210.8,709.7 209.6,711.3 C208.4,712.9 209.0,713.7 203.0,715.0 C197.0,716.3 183.5,717.7 173.8,719.3 C164.1,720.9 150.9,723.1 144.6,724.5 C138.3,725.9 137.3,726.2 135.8,727.4 C134.3,728.6 131.9,730.8 135.8,731.8 C139.7,732.8 150.4,732.8 159.2,733.2 C168.0,733.6 182.2,733.8 188.4,734.0 C194.6,734.2 194.7,733.6 196.4,734.7 C198.1,735.8 199.0,738.5 198.6,740.5 C198.2,742.5 198.3,745.3 194.2,746.4 C190.1,747.5 183.7,747.0 173.8,747.1 C164.0,747.2 142.7,746.8 135.1,747.0 C127.5,747.2 128.9,747.4 128.1,748.2 C127.3,749.0 128.1,750.0 130.4,751.7 C132.7,753.5 136.7,755.6 142.1,758.7 C147.5,761.8 158.2,767.3 163.1,770.4 C168.0,773.5 169.9,775.6 171.3,777.4 C172.7,779.1 172.7,779.7 171.3,780.9 C169.9,782.1 168.0,785.4 163.1,784.4 C158.2,783.4 149.5,777.7 142.1,775.0 C134.7,772.3 126.6,769.7 118.8,768.0 C111.0,766.3 105.1,765.6 95.4,764.6 C85.7,763.6 70.1,762.4 60.4,762.2 C50.7,762.0 42.1,763.2 37.0,763.4 C31.9,763.6 31.2,774.0 30.0,763.4 C28.8,752.8 28.8,710.5 30.0,700.0 C31.2,689.5 34.4,702.3 37.0,700.1 Z"/></clipPath><path d="M37.0,700.1 C39.6,697.9 42.6,691.1 45.8,687.0 C49.0,682.9 52.6,678.5 56.0,675.3 C59.4,672.1 62.3,670.9 66.2,668.0 C70.1,665.1 75.9,661.0 79.3,657.8 C82.7,654.6 84.9,652.2 86.6,649.0 C88.3,645.8 88.8,641.8 89.6,638.8 C90.4,635.8 90.7,632.4 91.7,630.8 C92.7,629.2 93.9,628.8 95.4,629.3 C96.9,629.8 99.2,631.4 100.5,633.7 C101.8,636.0 102.9,640.2 103.4,643.2 C103.9,646.2 104.0,648.8 103.4,652.0 C102.8,655.2 101.4,658.8 99.8,662.2 C98.2,665.6 95.1,669.2 93.9,672.4 C92.7,675.6 91.8,679.3 92.5,681.2 C93.2,683.1 94.9,683.5 98.3,684.0 C101.7,684.5 108.5,684.5 112.9,684.0 C117.3,683.5 121.8,681.9 124.6,681.2 C127.4,680.5 126.7,681.2 130.0,680.0 C133.3,678.8 139.7,676.1 144.6,674.1 C149.5,672.1 154.3,670.3 159.2,668.2 C164.1,666.1 170.2,663.1 173.8,661.7 C177.5,660.3 178.8,659.9 181.1,659.9 C183.4,659.9 186.4,660.7 187.7,661.7 C189.0,662.7 189.3,664.7 189.1,666.1 C188.8,667.5 188.8,668.5 186.2,670.4 C183.6,672.3 178.3,675.0 173.8,677.7 C169.3,680.4 164.1,683.6 159.2,686.5 C154.3,689.4 148.6,693.0 144.6,695.3 C140.6,697.6 136.8,698.9 135.1,700.4 C133.4,701.9 134.3,702.9 134.4,704.0 C134.5,705.1 131.7,706.9 135.8,707.0 C139.9,707.1 150.4,705.4 159.2,704.7 C168.0,704.0 180.6,703.1 188.4,702.6 C196.2,702.1 202.2,701.3 205.9,701.8 C209.6,702.3 209.7,703.9 210.3,705.5 C210.9,707.1 210.8,709.7 209.6,711.3 C208.4,712.9 209.0,713.7 203.0,715.0 C197.0,716.3 183.5,717.7 173.8,719.3 C164.1,720.9 150.9,723.1 144.6,724.5 C138.3,725.9 137.3,726.2 135.8,727.4 C134.3,728.6 131.9,730.8 135.8,731.8 C139.7,732.8 150.4,732.8 159.2,733.2 C168.0,733.6 182.2,733.8 188.4,734.0 C194.6,734.2 194.7,733.6 196.4,734.7 C198.1,735.8 199.0,738.5 198.6,740.5 C198.2,742.5 198.3,745.3 194.2,746.4 C190.1,747.5 183.7,747.0 173.8,747.1 C164.0,747.2 142.7,746.8 135.1,747.0 C127.5,747.2 128.9,747.4 128.1,748.2 C127.3,749.0 128.1,750.0 130.4,751.7 C132.7,753.5 136.7,755.6 142.1,758.7 C147.5,761.8 158.2,767.3 163.1,770.4 C168.0,773.5 169.9,775.6 171.3,777.4 C172.7,779.1 172.7,779.7 171.3,780.9 C169.9,782.1 168.0,785.4 163.1,784.4 C158.2,783.4 149.5,777.7 142.1,775.0 C134.7,772.3 126.6,769.7 118.8,768.0 C111.0,766.3 105.1,765.6 95.4,764.6 C85.7,763.6 70.1,762.4 60.4,762.2 C50.7,762.0 42.1,763.2 37.0,763.4 C31.9,763.6 31.2,774.0 30.0,763.4 C28.8,752.8 28.8,710.5 30.0,700.0 C31.2,689.5 34.4,702.3 37.0,700.1 Z" fill="none" stroke="#6a1a90" stroke-width="2.2"/><path d="M37.0,700.1 C39.6,697.9 42.6,691.1 45.8,687.0 C49.0,682.9 52.6,678.5 56.0,675.3 C59.4,672.1 62.3,670.9 66.2,668.0 C70.1,665.1 75.9,661.0 79.3,657.8 C82.7,654.6 84.9,652.2 86.6,649.0 C88.3,645.8 88.8,641.8 89.6,638.8 C90.4,635.8 90.7,632.4 91.7,630.8 C92.7,629.2 93.9,628.8 95.4,629.3 C96.9,629.8 99.2,631.4 100.5,633.7 C101.8,636.0 102.9,640.2 103.4,643.2 C103.9,646.2 104.0,648.8 103.4,652.0 C102.8,655.2 101.4,658.8 99.8,662.2 C98.2,665.6 95.1,669.2 93.9,672.4 C92.7,675.6 91.8,679.3 92.5,681.2 C93.2,683.1 94.9,683.5 98.3,684.0 C101.7,684.5 108.5,684.5 112.9,684.0 C117.3,683.5 121.8,681.9 124.6,681.2 C127.4,680.5 126.7,681.2 130.0,680.0 C133.3,678.8 139.7,676.1 144.6,674.1 C149.5,672.1 154.3,670.3 159.2,668.2 C164.1,666.1 170.2,663.1 173.8,661.7 C177.5,660.3 178.8,659.9 181.1,659.9 C183.4,659.9 186.4,660.7 187.7,661.7 C189.0,662.7 189.3,664.7 189.1,666.1 C188.8,667.5 188.8,668.5 186.2,670.4 C183.6,672.3 178.3,675.0 173.8,677.7 C169.3,680.4 164.1,683.6 159.2,686.5 C154.3,689.4 148.6,693.0 144.6,695.3 C140.6,697.6 136.8,698.9 135.1,700.4 C133.4,701.9 134.3,702.9 134.4,704.0 C134.5,705.1 131.7,706.9 135.8,707.0 C139.9,707.1 150.4,705.4 159.2,704.7 C168.0,704.0 180.6,703.1 188.4,702.6 C196.2,702.1 202.2,701.3 205.9,701.8 C209.6,702.3 209.7,703.9 210.3,705.5 C210.9,707.1 210.8,709.7 209.6,711.3 C208.4,712.9 209.0,713.7 203.0,715.0 C197.0,716.3 183.5,717.7 173.8,719.3 C164.1,720.9 150.9,723.1 144.6,724.5 C138.3,725.9 137.3,726.2 135.8,727.4 C134.3,728.6 131.9,730.8 135.8,731.8 C139.7,732.8 150.4,732.8 159.2,733.2 C168.0,733.6 182.2,733.8 188.4,734.0 C194.6,734.2 194.7,733.6 196.4,734.7 C198.1,735.8 199.0,738.5 198.6,740.5 C198.2,742.5 198.3,745.3 194.2,746.4 C190.1,747.5 183.7,747.0 173.8,747.1 C164.0,747.2 142.7,746.8 135.1,747.0 C127.5,747.2 128.9,747.4 128.1,748.2 C127.3,749.0 128.1,750.0 130.4,751.7 C132.7,753.5 136.7,755.6 142.1,758.7 C147.5,761.8 158.2,767.3 163.1,770.4 C168.0,773.5 169.9,775.6 171.3,777.4 C172.7,779.1 172.7,779.7 171.3,780.9 C169.9,782.1 168.0,785.4 163.1,784.4 C158.2,783.4 149.5,777.7 142.1,775.0 C134.7,772.3 126.6,769.7 118.8,768.0 C111.0,766.3 105.1,765.6 95.4,764.6 C85.7,763.6 70.1,762.4 60.4,762.2 C50.7,762.0 42.1,763.2 37.0,763.4 C31.9,763.6 31.2,774.0 30.0,763.4 C28.8,752.8 28.8,710.5 30.0,700.0 C31.2,689.5 34.4,702.3 37.0,700.1 Z" fill="url(#hand1)" stroke="#e87828" stroke-width="0.8"/><g clip-path="url(#hc0)"><ellipse cx="80" cy="690" rx="14" ry="8" fill="#fff2a8" opacity="0.7" filter="url(#b3)"/><ellipse cx="62" cy="752" rx="20" ry="8" fill="#fff2a8" opacity="0.7" filter="url(#b3)"/><ellipse cx="100" cy="756" rx="20" ry="6" fill="#fff2a8" opacity="0.7" filter="url(#b3)"/><ellipse cx="150" cy="711" rx="18" ry="5" fill="#fff2a8" opacity="0.7" filter="url(#b3)"/><ellipse cx="112" cy="692" rx="14" ry="6" fill="#fff2a8" opacity="0.7" filter="url(#b3)"/><ellipse cx="118" cy="722" rx="12" ry="9" fill="#fff2a8" opacity="0.7" filter="url(#b3)"/><ellipse cx="160" cy="740" rx="14" ry="4" fill="#fff2a8" opacity="0.7" filter="url(#b3)"/><ellipse cx="150" cy="690" rx="10" ry="4" fill="#fff2a8" opacity="0.7" filter="url(#b3)"/><ellipse cx="75" cy="735" rx="10" ry="6" fill="#fff2a8" opacity="0.7" filter="url(#b3)"/><ellipse cx="135" cy="760" rx="10" ry="4" fill="#fff2a8" opacity="0.7" filter="url(#b3)"/><ellipse cx="180" cy="706" rx="12" ry="3" fill="#fff2a8" opacity="0.7" filter="url(#b3)"/><ellipse cx="45" cy="718" rx="14" ry="22" fill="#f07a1c" opacity="0.75" filter="url(#b5)"/></g><clipPath id="hc1"><path d="M227.2,710.4 C228.3,699.6 231.0,707.9 233.8,704.5 C236.6,701.1 240.6,694.5 244.0,689.9 C247.4,685.3 250.5,680.4 254.2,676.8 C257.8,673.1 262.0,671.2 265.9,668.0 C269.8,664.8 274.2,661.2 277.6,657.8 C281.0,654.4 284.2,650.8 286.3,647.6 C288.4,644.4 288.9,641.4 290.0,638.8 C291.1,636.2 291.8,633.3 292.9,632.2 C294.0,631.1 295.3,631.3 296.5,632.2 C297.7,633.1 299.3,634.8 300.2,637.4 C301.1,640.0 301.6,644.2 301.6,647.6 C301.6,651.0 301.5,654.4 300.2,657.8 C298.9,661.2 295.7,664.8 293.6,668.0 C291.5,671.2 288.9,674.5 287.8,676.8 C286.7,679.1 285.8,680.8 287.0,681.9 C288.2,683.0 290.8,683.3 295.1,683.3 C299.4,683.3 307.7,683.1 312.6,681.9 C317.5,680.7 320.2,678.4 324.6,676.3 C329.0,674.1 333.9,671.9 339.2,669.0 C344.5,666.1 351.8,661.5 356.7,658.8 C361.6,656.1 365.5,654.0 368.4,652.9 C371.3,651.8 372.5,651.7 374.2,652.2 C375.9,652.7 378.0,654.2 378.6,655.8 C379.2,657.4 379.6,659.5 377.9,661.7 C376.2,663.9 372.4,666.1 368.4,669.0 C364.4,671.9 358.7,675.8 353.8,679.2 C348.9,682.6 343.1,686.5 339.2,689.4 C335.3,692.3 332.1,695.0 330.4,696.7 C328.7,698.4 329.0,698.8 329.0,699.6 C329.0,700.5 327.5,702.0 330.4,701.8 C333.3,701.6 340.2,699.5 346.5,698.2 C352.8,696.9 359.9,695.4 368.4,693.8 C376.9,692.2 391.8,689.2 397.6,688.7 C403.4,688.2 402.2,689.6 403.4,690.9 C404.6,692.2 405.4,695.1 404.9,696.7 C404.4,698.3 405.4,698.7 400.5,700.4 C395.6,702.1 383.5,704.6 375.7,706.9 C367.9,709.2 360.6,711.9 353.8,714.2 C347.0,716.5 338.3,719.3 334.8,720.8 C331.3,722.3 332.8,722.3 332.6,723.0 C332.4,723.7 329.9,724.6 333.4,725.2 C336.9,725.8 346.8,726.5 353.8,726.6 C360.9,726.7 369.1,726.0 375.7,725.9 C382.3,725.8 389.7,724.9 393.2,725.9 C396.7,726.9 396.6,729.8 396.9,731.8 C397.1,733.8 398.2,736.1 394.7,737.6 C391.2,739.1 382.5,739.6 375.7,740.5 C368.9,741.4 361.1,742.0 353.8,742.7 C346.5,743.4 336.2,744.4 331.9,744.9 C327.6,745.4 327.9,744.8 327.8,745.9 C327.7,747.0 329.0,749.6 331.3,751.7 C333.6,753.8 336.9,756.0 341.8,758.7 C346.7,761.4 355.4,765.4 360.5,768.1 C365.6,770.8 370.4,773.0 372.2,775.1 C373.9,777.2 372.6,779.7 371.0,780.9 C369.4,782.1 367.7,783.3 362.8,782.1 C357.9,780.9 349.2,776.0 341.8,773.9 C334.4,771.8 328.1,770.6 318.4,769.2 C308.7,767.8 295.1,766.2 283.4,765.7 C271.7,765.2 257.8,765.6 248.4,766.2 C239.1,766.8 230.8,778.5 227.3,769.2 C223.8,759.9 226.1,721.2 227.2,710.4 Z"/></clipPath><path d="M227.2,710.4 C228.3,699.6 231.0,707.9 233.8,704.5 C236.6,701.1 240.6,694.5 244.0,689.9 C247.4,685.3 250.5,680.4 254.2,676.8 C257.8,673.1 262.0,671.2 265.9,668.0 C269.8,664.8 274.2,661.2 277.6,657.8 C281.0,654.4 284.2,650.8 286.3,647.6 C288.4,644.4 288.9,641.4 290.0,638.8 C291.1,636.2 291.8,633.3 292.9,632.2 C294.0,631.1 295.3,631.3 296.5,632.2 C297.7,633.1 299.3,634.8 300.2,637.4 C301.1,640.0 301.6,644.2 301.6,647.6 C301.6,651.0 301.5,654.4 300.2,657.8 C298.9,661.2 295.7,664.8 293.6,668.0 C291.5,671.2 288.9,674.5 287.8,676.8 C286.7,679.1 285.8,680.8 287.0,681.9 C288.2,683.0 290.8,683.3 295.1,683.3 C299.4,683.3 307.7,683.1 312.6,681.9 C317.5,680.7 320.2,678.4 324.6,676.3 C329.0,674.1 333.9,671.9 339.2,669.0 C344.5,666.1 351.8,661.5 356.7,658.8 C361.6,656.1 365.5,654.0 368.4,652.9 C371.3,651.8 372.5,651.7 374.2,652.2 C375.9,652.7 378.0,654.2 378.6,655.8 C379.2,657.4 379.6,659.5 377.9,661.7 C376.2,663.9 372.4,666.1 368.4,669.0 C364.4,671.9 358.7,675.8 353.8,679.2 C348.9,682.6 343.1,686.5 339.2,689.4 C335.3,692.3 332.1,695.0 330.4,696.7 C328.7,698.4 329.0,698.8 329.0,699.6 C329.0,700.5 327.5,702.0 330.4,701.8 C333.3,701.6 340.2,699.5 346.5,698.2 C352.8,696.9 359.9,695.4 368.4,693.8 C376.9,692.2 391.8,689.2 397.6,688.7 C403.4,688.2 402.2,689.6 403.4,690.9 C404.6,692.2 405.4,695.1 404.9,696.7 C404.4,698.3 405.4,698.7 400.5,700.4 C395.6,702.1 383.5,704.6 375.7,706.9 C367.9,709.2 360.6,711.9 353.8,714.2 C347.0,716.5 338.3,719.3 334.8,720.8 C331.3,722.3 332.8,722.3 332.6,723.0 C332.4,723.7 329.9,724.6 333.4,725.2 C336.9,725.8 346.8,726.5 353.8,726.6 C360.9,726.7 369.1,726.0 375.7,725.9 C382.3,725.8 389.7,724.9 393.2,725.9 C396.7,726.9 396.6,729.8 396.9,731.8 C397.1,733.8 398.2,736.1 394.7,737.6 C391.2,739.1 382.5,739.6 375.7,740.5 C368.9,741.4 361.1,742.0 353.8,742.7 C346.5,743.4 336.2,744.4 331.9,744.9 C327.6,745.4 327.9,744.8 327.8,745.9 C327.7,747.0 329.0,749.6 331.3,751.7 C333.6,753.8 336.9,756.0 341.8,758.7 C346.7,761.4 355.4,765.4 360.5,768.1 C365.6,770.8 370.4,773.0 372.2,775.1 C373.9,777.2 372.6,779.7 371.0,780.9 C369.4,782.1 367.7,783.3 362.8,782.1 C357.9,780.9 349.2,776.0 341.8,773.9 C334.4,771.8 328.1,770.6 318.4,769.2 C308.7,767.8 295.1,766.2 283.4,765.7 C271.7,765.2 257.8,765.6 248.4,766.2 C239.1,766.8 230.8,778.5 227.3,769.2 C223.8,759.9 226.1,721.2 227.2,710.4 Z" fill="none" stroke="#6a1a90" stroke-width="2.2"/><path d="M227.2,710.4 C228.3,699.6 231.0,707.9 233.8,704.5 C236.6,701.1 240.6,694.5 244.0,689.9 C247.4,685.3 250.5,680.4 254.2,676.8 C257.8,673.1 262.0,671.2 265.9,668.0 C269.8,664.8 274.2,661.2 277.6,657.8 C281.0,654.4 284.2,650.8 286.3,647.6 C288.4,644.4 288.9,641.4 290.0,638.8 C291.1,636.2 291.8,633.3 292.9,632.2 C294.0,631.1 295.3,631.3 296.5,632.2 C297.7,633.1 299.3,634.8 300.2,637.4 C301.1,640.0 301.6,644.2 301.6,647.6 C301.6,651.0 301.5,654.4 300.2,657.8 C298.9,661.2 295.7,664.8 293.6,668.0 C291.5,671.2 288.9,674.5 287.8,676.8 C286.7,679.1 285.8,680.8 287.0,681.9 C288.2,683.0 290.8,683.3 295.1,683.3 C299.4,683.3 307.7,683.1 312.6,681.9 C317.5,680.7 320.2,678.4 324.6,676.3 C329.0,674.1 333.9,671.9 339.2,669.0 C344.5,666.1 351.8,661.5 356.7,658.8 C361.6,656.1 365.5,654.0 368.4,652.9 C371.3,651.8 372.5,651.7 374.2,652.2 C375.9,652.7 378.0,654.2 378.6,655.8 C379.2,657.4 379.6,659.5 377.9,661.7 C376.2,663.9 372.4,666.1 368.4,669.0 C364.4,671.9 358.7,675.8 353.8,679.2 C348.9,682.6 343.1,686.5 339.2,689.4 C335.3,692.3 332.1,695.0 330.4,696.7 C328.7,698.4 329.0,698.8 329.0,699.6 C329.0,700.5 327.5,702.0 330.4,701.8 C333.3,701.6 340.2,699.5 346.5,698.2 C352.8,696.9 359.9,695.4 368.4,693.8 C376.9,692.2 391.8,689.2 397.6,688.7 C403.4,688.2 402.2,689.6 403.4,690.9 C404.6,692.2 405.4,695.1 404.9,696.7 C404.4,698.3 405.4,698.7 400.5,700.4 C395.6,702.1 383.5,704.6 375.7,706.9 C367.9,709.2 360.6,711.9 353.8,714.2 C347.0,716.5 338.3,719.3 334.8,720.8 C331.3,722.3 332.8,722.3 332.6,723.0 C332.4,723.7 329.9,724.6 333.4,725.2 C336.9,725.8 346.8,726.5 353.8,726.6 C360.9,726.7 369.1,726.0 375.7,725.9 C382.3,725.8 389.7,724.9 393.2,725.9 C396.7,726.9 396.6,729.8 396.9,731.8 C397.1,733.8 398.2,736.1 394.7,737.6 C391.2,739.1 382.5,739.6 375.7,740.5 C368.9,741.4 361.1,742.0 353.8,742.7 C346.5,743.4 336.2,744.4 331.9,744.9 C327.6,745.4 327.9,744.8 327.8,745.9 C327.7,747.0 329.0,749.6 331.3,751.7 C333.6,753.8 336.9,756.0 341.8,758.7 C346.7,761.4 355.4,765.4 360.5,768.1 C365.6,770.8 370.4,773.0 372.2,775.1 C373.9,777.2 372.6,779.7 371.0,780.9 C369.4,782.1 367.7,783.3 362.8,782.1 C357.9,780.9 349.2,776.0 341.8,773.9 C334.4,771.8 328.1,770.6 318.4,769.2 C308.7,767.8 295.1,766.2 283.4,765.7 C271.7,765.2 257.8,765.6 248.4,766.2 C239.1,766.8 230.8,778.5 227.3,769.2 C223.8,759.9 226.1,721.2 227.2,710.4 Z" fill="url(#hand2)" stroke="#e87828" stroke-width="0.8"/><g clip-path="url(#hc1)"><ellipse cx="275" cy="700" rx="14" ry="7" fill="#fde070" opacity="0.7" filter="url(#b3)"/><ellipse cx="305" cy="748" rx="18" ry="7" fill="#fde070" opacity="0.7" filter="url(#b3)"/><ellipse cx="345" cy="708" rx="14" ry="5" fill="#fde070" opacity="0.7" filter="url(#b3)"/><ellipse cx="262" cy="738" rx="10" ry="7" fill="#fde070" opacity="0.7" filter="url(#b3)"/><ellipse cx="320" cy="725" rx="10" ry="6" fill="#fde070" opacity="0.7" filter="url(#b3)"/><ellipse cx="233" cy="735" rx="12" ry="26" fill="#ee741a" opacity="0.6" filter="url(#b5)"/></g></g><rect x="226.3" y="708" width="1.2" height="62" fill="#f07a22"/><circle cx="88.9" cy="724.2" r="11.2" fill="#c04080" filter="url(#b05)"/><circle cx="88.9" cy="724.2" r="10.2" fill="#1a0a62" stroke="#5a18a0" stroke-width="1.4"/><circle cx="290.4" cy="725.6" r="11.4" fill="#d04890" filter="url(#b05)"/><circle cx="290.4" cy="725.6" r="10.3" fill="#7410a4" stroke="#a020a0" stroke-width="1.4"/><path d="M82.9,724.2 h12 M88.9,718.2 v12" stroke="#fff" stroke-width="1.7"/><path d="M284.4,725.6 h12 M290.4,719.6 v12" stroke="#fff" stroke-width="1.7"/><path d="M80,749.4 h12 M86,743.4 v12" stroke="#111" stroke-width="1.7"/><path d="M285.1,750.1 h12 M291.1,744.1 v12" stroke="#111" stroke-width="1.7"/><text x="61.5" y="706.0" font-size="15.6" font-weight="bold" fill="#111" text-anchor="start" >25.4 °C</text><text x="94.4" y="745.2" font-size="15.8" font-weight="bold" fill="#111" text-anchor="start" >35.6 °C</text><text x="275.1" y="706.7" font-size="15.6" font-weight="bold" fill="#111" text-anchor="start" >26.2 °C</text><text x="229.8" y="756.9" font-size="15.8" font-weight="bold" fill="#111" text-anchor="start" >35.3 °C</text><text x="45.8" y="791.4" font-size="19" font-weight="bold" fill="#fff" text-anchor="start" >0 s</text><text x="234.8" y="791.0" font-size="19" font-weight="bold" fill="#fff" text-anchor="start" >180 s</text><path d="M205.8,720.5 L216,720.5 L216,715.8 L226.3,725.4 L216,734.6 L216,730.3 L205.8,730.3 Z" fill="url(#arrI)"/><rect x="432" y="627.4" width="18.3" height="161" fill="url(#inferno)" stroke="#999" stroke-width="1.6"/><text x="419.5" y="621.4" font-size="13" font-weight="bold" fill="#000" text-anchor="start" >35.5 °C</text><text x="422.0" y="802.8" font-size="13" font-weight="bold" fill="#000" text-anchor="start" >25.0 °C</text><defs><clipPath id="clipA"><path d="M42.3,26 L214.3,26 L214.3,116.5 A86.0,15.5 0 0 1 42.3,116.5 Z"/></clipPath></defs><g clip-path="url(#clipA)"><rect x="42.3" y="26" width="172.0" height="120" fill="#ffffff"/><g filter="url(#b1)"><path d="M40.3,41.5 Q128.3,41.5 216.3,41.5 L216.3,48.3 Q128.3,49.3 40.3,48.3 Z" fill="#6c5270" opacity="1"/><path d="M40.3,48.3 Q128.3,49.3 216.3,48.3 L216.3,58 Q128.3,60 40.3,58 Z" fill="#8c7a90" opacity="1"/><path d="M40.3,58 Q128.3,60 216.3,58 L216.3,72 Q128.3,76 40.3,72 Z" fill="#735a7a" opacity="1"/><path d="M40.3,72 Q128.3,76 216.3,72 L216.3,84 Q128.3,90 40.3,84 Z" fill="#4a3e52" opacity="1"/><path d="M40.3,84 Q128.3,90 216.3,84 L216.3,99 Q128.3,107 40.3,99 Z" fill="#2e2a36" opacity="1"/><path d="M40.3,99 Q128.3,107 216.3,99 L216.3,140 Q128.3,150 40.3,140 Z" fill="#1f2e36" opacity="1"/></g><line x1="148.1" y1="38.6" x2="156.8" y2="73.4" stroke="#d8828c" stroke-width="0.85" opacity="0.95"/><line x1="208.6" y1="26.5" x2="233.4" y2="47.8" stroke="#d8828c" stroke-width="0.85" opacity="0.95"/><line x1="204.3" y1="27.9" x2="231.0" y2="16.5" stroke="#d8828c" stroke-width="0.85" opacity="0.95"/><line x1="138.2" y1="26.2" x2="177.7" y2="11.7" stroke="#d8828c" stroke-width="0.85" opacity="0.95"/><line x1="177.0" y1="28.7" x2="191.8" y2="0.8" stroke="#d8828c" stroke-width="0.85" opacity="0.95"/><line x1="47.9" y1="26.0" x2="59.2" y2="12.6" stroke="#d8828c" stroke-width="0.85" opacity="0.95"/><line x1="220.7" y1="40.8" x2="242.1" y2="60.3" stroke="#d8828c" stroke-width="0.85" opacity="0.95"/><line x1="159.2" y1="29.5" x2="196.1" y2="53.2" stroke="#d8828c" stroke-width="0.85" opacity="0.95"/><line x1="202.8" y1="31.1" x2="215.8" y2="23.4" stroke="#d8828c" stroke-width="0.85" opacity="0.95"/><line x1="35.5" y1="31.1" x2="59.1" y2="7.1" stroke="#d8828c" stroke-width="0.85" opacity="0.95"/><line x1="90.6" y1="31.3" x2="111.6" y2="30.1" stroke="#d8828c" stroke-width="0.85" opacity="0.95"/><line x1="119.5" y1="38.0" x2="127.3" y2="45.4" stroke="#d8828c" stroke-width="0.85" opacity="0.95"/><line x1="173.8" y1="40.4" x2="194.2" y2="50.5" stroke="#d8828c" stroke-width="0.85" opacity="0.95"/><line x1="139.2" y1="26.2" x2="177.1" y2="4.9" stroke="#d8828c" stroke-width="0.85" opacity="0.95"/><line x1="62.0" y1="38.8" x2="67.3" y2="60.2" stroke="#d8828c" stroke-width="0.85" opacity="0.95"/><line x1="94.0" y1="34.9" x2="107.9" y2="1.5" stroke="#d8828c" stroke-width="0.85" opacity="0.95"/><line x1="183.3" y1="40.6" x2="193.3" y2="49.2" stroke="#d8828c" stroke-width="0.85" opacity="0.95"/><line x1="91.1" y1="36.4" x2="128.7" y2="16.8" stroke="#d8828c" stroke-width="0.85" opacity="0.95"/><line x1="132.4" y1="31.3" x2="143.5" y2="25.0" stroke="#d8828c" stroke-width="0.85" opacity="0.95"/><line x1="52.4" y1="37.7" x2="58.5" y2="27.8" stroke="#d8828c" stroke-width="0.85" opacity="0.95"/><line x1="221.6" y1="35.1" x2="249.7" y2="22.5" stroke="#d8828c" stroke-width="0.85" opacity="0.95"/><line x1="189.2" y1="33.7" x2="221.1" y2="6.3" stroke="#d8828c" stroke-width="0.85" opacity="0.95"/><line x1="28.9" y1="34.4" x2="44.8" y2="2.5" stroke="#d8828c" stroke-width="0.85" opacity="0.95"/><line x1="214.2" y1="36.7" x2="223.8" y2="13.4" stroke="#d8828c" stroke-width="0.85" opacity="0.95"/><line x1="52.4" y1="40.4" x2="97.3" y2="37.0" stroke="#d8828c" stroke-width="0.85" opacity="0.95"/><line x1="194.5" y1="42.6" x2="230.0" y2="41.9" stroke="#d8828c" stroke-width="0.85" opacity="0.95"/><line x1="119.1" y1="30.9" x2="138.6" y2="18.5" stroke="#d8828c" stroke-width="0.85" opacity="0.95"/><line x1="222.0" y1="42.3" x2="243.8" y2="42.3" stroke="#d8828c" stroke-width="0.85" opacity="0.95"/><line x1="40.3" y1="30.6" x2="50.5" y2="50.8" stroke="#d8828c" stroke-width="0.85" opacity="0.95"/><line x1="181.1" y1="39.2" x2="216.4" y2="48.7" stroke="#d8828c" stroke-width="0.85" opacity="0.95"/><line x1="95.7" y1="38.0" x2="132.6" y2="37.1" stroke="#d8828c" stroke-width="0.85" opacity="0.95"/><line x1="161.9" y1="31.0" x2="189.2" y2="44.2" stroke="#d8828c" stroke-width="0.85" opacity="0.95"/><line x1="24.6" y1="35.3" x2="49.9" y2="42.4" stroke="#d8828c" stroke-width="0.85" opacity="0.95"/><line x1="187.3" y1="37.0" x2="216.5" y2="22.7" stroke="#d8828c" stroke-width="0.85" opacity="0.95"/><line x1="171.3" y1="40.1" x2="205.9" y2="61.2" stroke="#d8828c" stroke-width="0.85" opacity="0.95"/><line x1="161.3" y1="42.6" x2="189.8" y2="44.1" stroke="#d8828c" stroke-width="0.85" opacity="0.95"/><line x1="55.9" y1="40.2" x2="90.0" y2="37.9" stroke="#d8828c" stroke-width="0.85" opacity="0.95"/><line x1="167.7" y1="38.4" x2="195.0" y2="51.6" stroke="#d8828c" stroke-width="0.85" opacity="0.95"/><line x1="156.7" y1="33.2" x2="186.0" y2="46.9" stroke="#d8828c" stroke-width="0.85" opacity="0.95"/><line x1="167.8" y1="26.5" x2="200.4" y2="23.4" stroke="#d8828c" stroke-width="0.85" opacity="0.95"/><line x1="66.5" y1="37.7" x2="86.2" y2="19.9" stroke="#d8828c" stroke-width="0.85" opacity="0.95"/><line x1="68.0" y1="26.9" x2="83.7" y2="22.2" stroke="#d8828c" stroke-width="0.85" opacity="0.95"/><line x1="61.4" y1="26.6" x2="92.2" y2="20.6" stroke="#d8828c" stroke-width="0.85" opacity="0.95"/><line x1="141.5" y1="30.0" x2="143.3" y2="5.9" stroke="#d8828c" stroke-width="0.85" opacity="0.95"/><line x1="78.6" y1="33.0" x2="98.5" y2="44.6" stroke="#d8828c" stroke-width="0.85" opacity="0.95"/><line x1="29.6" y1="36.4" x2="51.4" y2="38.0" stroke="#d8828c" stroke-width="0.85" opacity="0.95"/><line x1="139.6" y1="42.3" x2="177.0" y2="33.0" stroke="#d8828c" stroke-width="0.85" opacity="0.95"/><line x1="152.0" y1="32.3" x2="181.4" y2="36.8" stroke="#d8828c" stroke-width="0.85" opacity="0.95"/><line x1="215.7" y1="42.5" x2="255.8" y2="32.7" stroke="#d8828c" stroke-width="0.85" opacity="0.95"/><line x1="22.5" y1="27.8" x2="37.2" y2="30.6" stroke="#d8828c" stroke-width="0.85" opacity="0.95"/><line x1="149.5" y1="41.2" x2="167.3" y2="39.2" stroke="#d8828c" stroke-width="0.85" opacity="0.95"/><line x1="81.2" y1="42.5" x2="112.2" y2="70.8" stroke="#d8828c" stroke-width="0.85" opacity="0.95"/><line x1="142.7" y1="30.4" x2="167.2" y2="30.1" stroke="#d8828c" stroke-width="0.85" opacity="0.95"/><line x1="86.8" y1="42.7" x2="111.9" y2="33.8" stroke="#d8828c" stroke-width="0.85" opacity="0.95"/><line x1="46.9" y1="36.6" x2="82.3" y2="24.4" stroke="#d8828c" stroke-width="0.85" opacity="0.95"/><line x1="189.3" y1="26.2" x2="229.3" y2="11.1" stroke="#d8828c" stroke-width="0.85" opacity="0.95"/><line x1="180.2" y1="30.2" x2="218.2" y2="6.8" stroke="#d8828c" stroke-width="0.85" opacity="0.95"/><line x1="81.5" y1="36.3" x2="111.8" y2="43.5" stroke="#d8828c" stroke-width="0.85" opacity="0.95"/><line x1="172.5" y1="28.0" x2="196.2" y2="11.9" stroke="#d8828c" stroke-width="0.85" opacity="0.95"/><line x1="90.2" y1="31.0" x2="112.8" y2="29.8" stroke="#d8828c" stroke-width="0.85" opacity="0.95"/><line x1="172.8" y1="36.0" x2="196.7" y2="26.0" stroke="#d8828c" stroke-width="0.85" opacity="0.95"/><line x1="207.4" y1="41.1" x2="234.0" y2="15.0" stroke="#d8828c" stroke-width="0.85" opacity="0.95"/><line x1="108.7" y1="35.8" x2="133.5" y2="46.2" stroke="#d8828c" stroke-width="0.85" opacity="0.95"/><line x1="206.5" y1="32.6" x2="220.7" y2="41.6" stroke="#d8828c" stroke-width="0.85" opacity="0.95"/><line x1="82.2" y1="40.1" x2="111.6" y2="57.7" stroke="#d8828c" stroke-width="0.85" opacity="0.95"/><line x1="109.7" y1="30.9" x2="114.7" y2="45.0" stroke="#d8828c" stroke-width="0.85" opacity="0.95"/><line x1="118.9" y1="35.3" x2="133.8" y2="31.2" stroke="#d8828c" stroke-width="0.85" opacity="0.95"/><line x1="140.6" y1="39.8" x2="175.8" y2="23.6" stroke="#d8828c" stroke-width="0.85" opacity="0.95"/><line x1="182.2" y1="37.3" x2="223.7" y2="52.7" stroke="#d8828c" stroke-width="0.85" opacity="0.95"/><line x1="224.0" y1="37.9" x2="239.1" y2="47.1" stroke="#d8828c" stroke-width="0.85" opacity="0.95"/><line x1="152.7" y1="42.2" x2="162.0" y2="24.2" stroke="#d8828c" stroke-width="0.85" opacity="0.95"/><line x1="207.7" y1="28.5" x2="223.2" y2="26.4" stroke="#d8828c" stroke-width="0.85" opacity="0.95"/><line x1="148.0" y1="26.7" x2="160.3" y2="24.3" stroke="#d8828c" stroke-width="0.85" opacity="0.95"/><line x1="33.9" y1="35.8" x2="40.1" y2="49.1" stroke="#d8828c" stroke-width="0.85" opacity="0.95"/><line x1="109.5" y1="31.3" x2="152.3" y2="30.6" stroke="#d8828c" stroke-width="0.85" opacity="0.95"/><line x1="97.9" y1="26.9" x2="125.1" y2="9.9" stroke="#d8828c" stroke-width="0.85" opacity="0.95"/><line x1="124.5" y1="41.5" x2="143.3" y2="45.2" stroke="#d8828c" stroke-width="0.85" opacity="0.95"/><line x1="133.7" y1="30.3" x2="148.4" y2="31.1" stroke="#d8828c" stroke-width="0.85" opacity="0.95"/><line x1="69.7" y1="32.3" x2="89.6" y2="3.6" stroke="#d8828c" stroke-width="0.85" opacity="0.95"/><line x1="154.6" y1="27.4" x2="166.0" y2="18.7" stroke="#d8828c" stroke-width="0.85" opacity="0.95"/><line x1="142.3" y1="30.1" x2="163.6" y2="28.8" stroke="#d8828c" stroke-width="0.85" opacity="0.95"/><line x1="183.2" y1="26.5" x2="186.7" y2="11.6" stroke="#d8828c" stroke-width="0.85" opacity="0.95"/><line x1="214.6" y1="37.6" x2="250.6" y2="12.2" stroke="#d8828c" stroke-width="0.85" opacity="0.95"/><line x1="156.6" y1="40.0" x2="178.6" y2="44.4" stroke="#d8828c" stroke-width="0.85" opacity="0.95"/><line x1="69.8" y1="31.7" x2="92.6" y2="26.0" stroke="#d8828c" stroke-width="0.85" opacity="0.95"/><line x1="49.9" y1="40.1" x2="72.1" y2="51.9" stroke="#d8828c" stroke-width="0.85" opacity="0.95"/><line x1="194.3" y1="34.8" x2="230.0" y2="39.0" stroke="#d8828c" stroke-width="0.85" opacity="0.95"/><line x1="102.2" y1="27.6" x2="112.3" y2="22.4" stroke="#d8828c" stroke-width="0.85" opacity="0.95"/><line x1="201.9" y1="34.2" x2="203.8" y2="7.8" stroke="#d8828c" stroke-width="0.85" opacity="0.95"/><line x1="202.0" y1="36.5" x2="215.5" y2="35.8" stroke="#d8828c" stroke-width="0.85" opacity="0.95"/><line x1="53.5" y1="28.7" x2="93.7" y2="21.3" stroke="#d8828c" stroke-width="0.85" opacity="0.95"/><line x1="53.0" y1="30.3" x2="70.2" y2="20.0" stroke="#d8828c" stroke-width="0.85" opacity="0.95"/><line x1="69.8" y1="34.2" x2="87.6" y2="48.6" stroke="#d8828c" stroke-width="0.85" opacity="0.95"/><line x1="211.8" y1="37.7" x2="254.8" y2="35.7" stroke="#d8828c" stroke-width="0.85" opacity="0.95"/><line x1="46.1" y1="37.4" x2="80.3" y2="47.2" stroke="#d8828c" stroke-width="0.85" opacity="0.95"/><line x1="55.3" y1="29.4" x2="66.8" y2="24.1" stroke="#d8828c" stroke-width="0.85" opacity="0.95"/><line x1="103.3" y1="42.6" x2="128.5" y2="34.7" stroke="#d8828c" stroke-width="0.85" opacity="0.95"/><line x1="79.5" y1="38.4" x2="89.3" y2="22.9" stroke="#d8828c" stroke-width="0.85" opacity="0.95"/><line x1="158.1" y1="42.0" x2="202.0" y2="37.1" stroke="#d8828c" stroke-width="0.85" opacity="0.95"/><line x1="23.6" y1="27.0" x2="34.7" y2="24.0" stroke="#d8828c" stroke-width="0.85" opacity="0.95"/><line x1="133.1" y1="42.8" x2="146.0" y2="39.7" stroke="#d8828c" stroke-width="0.85" opacity="0.95"/><line x1="36.7" y1="41.3" x2="45.8" y2="48.9" stroke="#d8828c" stroke-width="0.85" opacity="0.95"/><line x1="71.5" y1="26.9" x2="85.9" y2="14.6" stroke="#d8828c" stroke-width="0.85" opacity="0.95"/><line x1="104.6" y1="31.2" x2="137.1" y2="1.5" stroke="#d8828c" stroke-width="0.85" opacity="0.95"/><line x1="58.5" y1="34.6" x2="71.5" y2="35.3" stroke="#d8828c" stroke-width="0.85" opacity="0.95"/><line x1="85.7" y1="27.8" x2="109.9" y2="47.1" stroke="#d8828c" stroke-width="0.85" opacity="0.95"/><line x1="195.4" y1="29.6" x2="222.3" y2="31.4" stroke="#d8828c" stroke-width="0.85" opacity="0.95"/><line x1="137.7" y1="32.4" x2="177.0" y2="47.2" stroke="#d8828c" stroke-width="0.85" opacity="0.95"/><line x1="84.4" y1="33.6" x2="93.9" y2="23.3" stroke="#d8828c" stroke-width="0.85" opacity="0.95"/><line x1="85.3" y1="27.5" x2="97.3" y2="44.6" stroke="#d8828c" stroke-width="0.85" opacity="0.95"/><line x1="48.5" y1="27.4" x2="68.2" y2="12.0" stroke="#d8828c" stroke-width="0.85" opacity="0.95"/><line x1="138.9" y1="30.2" x2="149.9" y2="33.9" stroke="#d8828c" stroke-width="0.85" opacity="0.95"/><line x1="62.7" y1="30.9" x2="82.5" y2="16.1" stroke="#d8828c" stroke-width="0.85" opacity="0.95"/><line x1="85.7" y1="38.8" x2="112.2" y2="58.3" stroke="#d8828c" stroke-width="0.85" opacity="0.95"/><line x1="175.8" y1="35.8" x2="204.6" y2="51.8" stroke="#d8828c" stroke-width="0.85" opacity="0.95"/><line x1="215.2" y1="38.4" x2="244.6" y2="13.7" stroke="#d8828c" stroke-width="0.85" opacity="0.95"/><line x1="99.5" y1="28.2" x2="116.1" y2="18.5" stroke="#d8828c" stroke-width="0.85" opacity="0.95"/><line x1="158.8" y1="30.9" x2="185.7" y2="42.9" stroke="#d8828c" stroke-width="0.85" opacity="0.95"/><line x1="27.8" y1="26.9" x2="66.9" y2="17.8" stroke="#d8828c" stroke-width="0.85" opacity="0.95"/><line x1="214.0" y1="36.4" x2="236.6" y2="33.8" stroke="#d8828c" stroke-width="0.85" opacity="0.95"/><line x1="89.0" y1="48.1" x2="108.3" y2="56.1" stroke="#8a6a8c" stroke-width="0.7" opacity="0.9"/><line x1="41.5" y1="53.3" x2="57.7" y2="57.5" stroke="#8a6a8c" stroke-width="0.7" opacity="0.9"/><line x1="211.9" y1="55.9" x2="235.0" y2="50.8" stroke="#8a6a8c" stroke-width="0.7" opacity="0.9"/><line x1="115.4" y1="52.3" x2="138.2" y2="59.9" stroke="#8a6a8c" stroke-width="0.7" opacity="0.9"/><line x1="129.9" y1="57.7" x2="149.6" y2="47.5" stroke="#8a6a8c" stroke-width="0.7" opacity="0.9"/><line x1="107.0" y1="48.5" x2="110.2" y2="30.1" stroke="#8a6a8c" stroke-width="0.7" opacity="0.9"/><line x1="119.7" y1="56.8" x2="133.0" y2="52.1" stroke="#8a6a8c" stroke-width="0.7" opacity="0.9"/><line x1="62.9" y1="53.6" x2="75.9" y2="57.7" stroke="#8a6a8c" stroke-width="0.7" opacity="0.9"/><line x1="93.4" y1="50.5" x2="105.3" y2="69.9" stroke="#8a6a8c" stroke-width="0.7" opacity="0.9"/><line x1="147.2" y1="52.0" x2="163.2" y2="58.7" stroke="#8a6a8c" stroke-width="0.7" opacity="0.9"/><line x1="29.9" y1="49.7" x2="52.6" y2="55.8" stroke="#8a6a8c" stroke-width="0.7" opacity="0.9"/><line x1="62.6" y1="56.0" x2="85.0" y2="61.0" stroke="#8a6a8c" stroke-width="0.7" opacity="0.9"/><line x1="148.2" y1="56.0" x2="162.9" y2="46.2" stroke="#8a6a8c" stroke-width="0.7" opacity="0.9"/><line x1="140.8" y1="49.8" x2="151.0" y2="47.6" stroke="#8a6a8c" stroke-width="0.7" opacity="0.9"/><line x1="85.3" y1="51.8" x2="100.9" y2="55.7" stroke="#8a6a8c" stroke-width="0.7" opacity="0.9"/><line x1="220.7" y1="56.2" x2="237.5" y2="67.1" stroke="#8a6a8c" stroke-width="0.7" opacity="0.9"/><line x1="130.7" y1="56.0" x2="150.8" y2="58.2" stroke="#8a6a8c" stroke-width="0.7" opacity="0.9"/><line x1="127.8" y1="50.8" x2="141.3" y2="43.6" stroke="#8a6a8c" stroke-width="0.7" opacity="0.9"/><line x1="139.5" y1="55.6" x2="159.6" y2="42.5" stroke="#8a6a8c" stroke-width="0.7" opacity="0.9"/><line x1="77.8" y1="55.2" x2="96.9" y2="61.2" stroke="#8a6a8c" stroke-width="0.7" opacity="0.9"/><line x1="215.6" y1="57.0" x2="235.0" y2="65.3" stroke="#8a6a8c" stroke-width="0.7" opacity="0.9"/><line x1="145.7" y1="50.1" x2="157.8" y2="56.3" stroke="#8a6a8c" stroke-width="0.7" opacity="0.9"/><line x1="219.2" y1="53.4" x2="232.3" y2="44.5" stroke="#8a6a8c" stroke-width="0.7" opacity="0.9"/><line x1="58.3" y1="54.5" x2="64.7" y2="72.6" stroke="#8a6a8c" stroke-width="0.7" opacity="0.9"/><line x1="100.4" y1="49.1" x2="121.1" y2="50.4" stroke="#8a6a8c" stroke-width="0.7" opacity="0.9"/><line x1="97.9" y1="56.9" x2="111.5" y2="53.6" stroke="#8a6a8c" stroke-width="0.7" opacity="0.9"/><line x1="148.0" y1="57.0" x2="169.2" y2="60.4" stroke="#8a6a8c" stroke-width="0.7" opacity="0.9"/><line x1="67.7" y1="48.6" x2="89.1" y2="57.6" stroke="#8a6a8c" stroke-width="0.7" opacity="0.9"/><line x1="169.4" y1="52.2" x2="192.9" y2="53.0" stroke="#8a6a8c" stroke-width="0.7" opacity="0.9"/><line x1="83.4" y1="50.8" x2="94.2" y2="57.6" stroke="#8a6a8c" stroke-width="0.7" opacity="0.9"/><line x1="28.5" y1="49.2" x2="41.1" y2="50.7" stroke="#8a6a8c" stroke-width="0.7" opacity="0.9"/><line x1="60.7" y1="53.9" x2="81.1" y2="58.7" stroke="#8a6a8c" stroke-width="0.7" opacity="0.9"/><line x1="34.7" y1="52.8" x2="37.6" y2="67.3" stroke="#8a6a8c" stroke-width="0.7" opacity="0.9"/><line x1="194.1" y1="54.5" x2="208.1" y2="39.6" stroke="#8a6a8c" stroke-width="0.7" opacity="0.9"/><line x1="192.1" y1="52.8" x2="203.6" y2="48.3" stroke="#8a6a8c" stroke-width="0.7" opacity="0.9"/><line x1="41.1" y1="49.5" x2="60.1" y2="39.8" stroke="#8a6a8c" stroke-width="0.7" opacity="0.9"/><line x1="171.0" y1="56.2" x2="190.2" y2="70.4" stroke="#8a6a8c" stroke-width="0.7" opacity="0.9"/><line x1="215.6" y1="54.3" x2="219.9" y2="43.5" stroke="#8a6a8c" stroke-width="0.7" opacity="0.9"/><line x1="35.3" y1="50.1" x2="55.5" y2="49.1" stroke="#8a6a8c" stroke-width="0.7" opacity="0.9"/><line x1="172.4" y1="48.8" x2="188.0" y2="49.7" stroke="#8a6a8c" stroke-width="0.7" opacity="0.9"/><line x1="46.0" y1="54.0" x2="63.1" y2="57.8" stroke="#8a6a8c" stroke-width="0.7" opacity="0.9"/><line x1="216.8" y1="57.5" x2="236.6" y2="63.8" stroke="#8a6a8c" stroke-width="0.7" opacity="0.9"/><line x1="82.1" y1="49.2" x2="102.8" y2="45.5" stroke="#8a6a8c" stroke-width="0.7" opacity="0.9"/><line x1="207.8" y1="51.8" x2="228.3" y2="51.8" stroke="#8a6a8c" stroke-width="0.7" opacity="0.9"/><line x1="181.7" y1="53.8" x2="204.0" y2="49.3" stroke="#8a6a8c" stroke-width="0.7" opacity="0.9"/><line x1="127.2" y1="48.5" x2="146.2" y2="42.3" stroke="#8a6a8c" stroke-width="0.7" opacity="0.9"/><line x1="37.1" y1="50.7" x2="61.9" y2="50.0" stroke="#8a6a8c" stroke-width="0.7" opacity="0.9"/><line x1="131.7" y1="51.9" x2="136.9" y2="37.4" stroke="#8a6a8c" stroke-width="0.7" opacity="0.9"/><line x1="186.1" y1="48.1" x2="195.4" y2="43.9" stroke="#8a6a8c" stroke-width="0.7" opacity="0.9"/><line x1="73.0" y1="52.6" x2="83.8" y2="52.8" stroke="#8a6a8c" stroke-width="0.7" opacity="0.9"/><line x1="66.5" y1="73.2" x2="79.4" y2="72.8" stroke="#c08098" stroke-width="0.75" opacity="0.9"/><line x1="78.7" y1="72.6" x2="90.5" y2="72.8" stroke="#c08098" stroke-width="0.75" opacity="0.9"/><line x1="101.6" y1="67.4" x2="142.9" y2="72.0" stroke="#c08098" stroke-width="0.75" opacity="0.9"/><line x1="152.6" y1="63.1" x2="183.7" y2="43.1" stroke="#c08098" stroke-width="0.75" opacity="0.9"/><line x1="105.8" y1="70.2" x2="113.2" y2="92.3" stroke="#c08098" stroke-width="0.75" opacity="0.9"/><line x1="224.1" y1="66.7" x2="242.5" y2="34.2" stroke="#c08098" stroke-width="0.75" opacity="0.9"/><line x1="107.6" y1="73.2" x2="123.9" y2="54.6" stroke="#c08098" stroke-width="0.75" opacity="0.9"/><line x1="77.0" y1="58.1" x2="91.1" y2="60.9" stroke="#c08098" stroke-width="0.75" opacity="0.9"/><line x1="56.5" y1="57.7" x2="97.5" y2="51.8" stroke="#c08098" stroke-width="0.75" opacity="0.9"/><line x1="201.1" y1="49.9" x2="241.4" y2="66.6" stroke="#c08098" stroke-width="0.75" opacity="0.9"/><line x1="143.3" y1="48.1" x2="180.8" y2="68.8" stroke="#c08098" stroke-width="0.75" opacity="0.9"/><line x1="28.6" y1="49.5" x2="63.6" y2="39.5" stroke="#c08098" stroke-width="0.75" opacity="0.9"/><line x1="97.6" y1="67.3" x2="141.7" y2="68.2" stroke="#c08098" stroke-width="0.75" opacity="0.9"/><line x1="164.1" y1="46.7" x2="186.9" y2="50.7" stroke="#c08098" stroke-width="0.75" opacity="0.9"/><line x1="96.8" y1="58.3" x2="112.4" y2="68.1" stroke="#c08098" stroke-width="0.75" opacity="0.9"/><line x1="137.2" y1="51.9" x2="151.3" y2="55.9" stroke="#c08098" stroke-width="0.75" opacity="0.9"/><line x1="119.5" y1="65.2" x2="142.9" y2="73.1" stroke="#c08098" stroke-width="0.75" opacity="0.9"/><line x1="124.1" y1="62.3" x2="130.7" y2="35.6" stroke="#c08098" stroke-width="0.75" opacity="0.9"/><line x1="30.0" y1="55.6" x2="47.2" y2="44.5" stroke="#c08098" stroke-width="0.75" opacity="0.9"/><line x1="113.2" y1="63.6" x2="139.6" y2="52.8" stroke="#c08098" stroke-width="0.75" opacity="0.9"/><line x1="166.4" y1="72.1" x2="168.6" y2="92.6" stroke="#c08098" stroke-width="0.75" opacity="0.9"/><line x1="56.0" y1="72.0" x2="91.7" y2="69.8" stroke="#c08098" stroke-width="0.75" opacity="0.9"/><line x1="129.1" y1="55.7" x2="153.3" y2="39.1" stroke="#c08098" stroke-width="0.75" opacity="0.9"/><line x1="189.9" y1="48.1" x2="219.7" y2="47.9" stroke="#c08098" stroke-width="0.75" opacity="0.9"/><line x1="64.2" y1="57.6" x2="83.5" y2="47.2" stroke="#c08098" stroke-width="0.75" opacity="0.9"/><line x1="51.3" y1="73.0" x2="87.4" y2="63.1" stroke="#c08098" stroke-width="0.75" opacity="0.9"/><line x1="172.0" y1="51.9" x2="194.0" y2="60.6" stroke="#c08098" stroke-width="0.75" opacity="0.9"/><line x1="149.3" y1="51.4" x2="172.1" y2="62.4" stroke="#c08098" stroke-width="0.75" opacity="0.9"/><line x1="203.6" y1="49.3" x2="234.4" y2="30.9" stroke="#c08098" stroke-width="0.75" opacity="0.9"/><line x1="135.7" y1="44.3" x2="160.9" y2="54.6" stroke="#c08098" stroke-width="0.75" opacity="0.9"/><line x1="198.3" y1="45.2" x2="229.9" y2="29.6" stroke="#c08098" stroke-width="0.75" opacity="0.9"/><line x1="145.8" y1="62.4" x2="157.7" y2="69.5" stroke="#c08098" stroke-width="0.75" opacity="0.9"/><line x1="35.2" y1="64.5" x2="57.9" y2="51.6" stroke="#c08098" stroke-width="0.75" opacity="0.9"/><line x1="153.4" y1="70.8" x2="162.3" y2="39.5" stroke="#c08098" stroke-width="0.75" opacity="0.9"/><line x1="192.7" y1="47.6" x2="208.0" y2="34.1" stroke="#c08098" stroke-width="0.75" opacity="0.9"/><line x1="22.6" y1="66.7" x2="45.9" y2="78.9" stroke="#c08098" stroke-width="0.75" opacity="0.9"/><line x1="53.7" y1="50.5" x2="68.5" y2="59.3" stroke="#c08098" stroke-width="0.75" opacity="0.9"/><line x1="40.1" y1="54.6" x2="71.7" y2="51.7" stroke="#c08098" stroke-width="0.75" opacity="0.9"/><line x1="153.7" y1="49.2" x2="187.8" y2="48.9" stroke="#c08098" stroke-width="0.75" opacity="0.9"/><line x1="112.6" y1="61.2" x2="122.0" y2="44.3" stroke="#c08098" stroke-width="0.75" opacity="0.9"/><line x1="122.0" y1="60.1" x2="154.8" y2="65.6" stroke="#c08098" stroke-width="0.75" opacity="0.9"/><line x1="107.1" y1="67.5" x2="118.3" y2="59.5" stroke="#c08098" stroke-width="0.75" opacity="0.9"/><line x1="74.7" y1="54.7" x2="99.0" y2="33.9" stroke="#c08098" stroke-width="0.75" opacity="0.9"/><line x1="151.7" y1="72.7" x2="172.3" y2="79.6" stroke="#c08098" stroke-width="0.75" opacity="0.9"/><line x1="43.1" y1="63.0" x2="54.5" y2="65.8" stroke="#c08098" stroke-width="0.75" opacity="0.9"/><line x1="218.7" y1="55.5" x2="237.1" y2="60.6" stroke="#c08098" stroke-width="0.75" opacity="0.9"/><line x1="104.8" y1="53.9" x2="135.2" y2="36.4" stroke="#c08098" stroke-width="0.75" opacity="0.9"/><line x1="105.2" y1="70.1" x2="121.1" y2="66.2" stroke="#c08098" stroke-width="0.75" opacity="0.9"/><line x1="212.9" y1="67.7" x2="226.5" y2="68.0" stroke="#c08098" stroke-width="0.75" opacity="0.9"/><line x1="106.4" y1="50.8" x2="126.4" y2="52.4" stroke="#c08098" stroke-width="0.75" opacity="0.9"/><line x1="44.1" y1="59.3" x2="50.2" y2="85.0" stroke="#c08098" stroke-width="0.75" opacity="0.9"/><line x1="43.1" y1="67.1" x2="56.0" y2="67.6" stroke="#c08098" stroke-width="0.75" opacity="0.9"/><line x1="221.7" y1="60.3" x2="249.9" y2="52.4" stroke="#c08098" stroke-width="0.75" opacity="0.9"/><line x1="218.8" y1="56.8" x2="261.0" y2="57.6" stroke="#c08098" stroke-width="0.75" opacity="0.9"/><line x1="99.4" y1="63.0" x2="132.7" y2="43.8" stroke="#c08098" stroke-width="0.75" opacity="0.9"/><rect x="133.3" y="49.8" width="0.9" height="1.4" fill="#fff" opacity="0.8"/><rect x="122.5" y="52.5" width="2.1" height="1.1" fill="#fff" opacity="0.8"/><rect x="128.3" y="51.1" width="1.8" height="0.8" fill="#fff" opacity="0.8"/><rect x="123.2" y="55.3" width="1.6" height="0.7" fill="#fff" opacity="0.8"/><rect x="77.2" y="54.8" width="1.8" height="0.7" fill="#fff" opacity="0.8"/><rect x="213.9" y="49.7" width="1.0" height="0.7" fill="#fff" opacity="0.8"/><rect x="119.1" y="54.1" width="2.0" height="0.7" fill="#fff" opacity="0.8"/><rect x="162.5" y="49.4" width="1.6" height="0.8" fill="#fff" opacity="0.8"/><rect x="103.6" y="49.0" width="1.8" height="0.7" fill="#fff" opacity="0.8"/><rect x="173.7" y="51.5" width="1.6" height="1.1" fill="#fff" opacity="0.8"/><rect x="126.4" y="56.4" width="2.1" height="0.8" fill="#fff" opacity="0.8"/><rect x="99.7" y="56.4" width="1.0" height="0.9" fill="#fff" opacity="0.8"/><rect x="113.6" y="57.3" width="1.0" height="1.1" fill="#fff" opacity="0.8"/><rect x="172.5" y="55.1" width="0.8" height="1.4" fill="#fff" opacity="0.8"/><rect x="96.0" y="56.2" width="1.7" height="0.9" fill="#fff" opacity="0.8"/><rect x="186.4" y="54.6" width="1.3" height="1.2" fill="#fff" opacity="0.8"/><rect x="129.2" y="54.9" width="1.7" height="1.2" fill="#fff" opacity="0.8"/><rect x="69.7" y="53.0" width="0.8" height="1.2" fill="#fff" opacity="0.8"/><rect x="175.0" y="56.0" width="0.9" height="1.0" fill="#fff" opacity="0.8"/><rect x="124.6" y="49.6" width="1.1" height="1.4" fill="#fff" opacity="0.8"/><rect x="189.0" y="50.6" width="2.0" height="1.1" fill="#fff" opacity="0.8"/><rect x="108.5" y="54.3" width="1.1" height="0.8" fill="#fff" opacity="0.8"/><rect x="44.0" y="54.4" width="1.6" height="1.2" fill="#fff" opacity="0.8"/><rect x="129.0" y="52.4" width="1.2" height="1.2" fill="#fff" opacity="0.8"/><rect x="106.4" y="53.9" width="1.9" height="1.0" fill="#fff" opacity="0.8"/><rect x="160.3" y="49.1" width="1.2" height="1.3" fill="#fff" opacity="0.8"/><rect x="67.7" y="49.0" width="0.8" height="1.2" fill="#fff" opacity="0.8"/><rect x="60.6" y="52.6" width="1.4" height="1.2" fill="#fff" opacity="0.8"/><rect x="124.3" y="53.2" width="0.8" height="1.2" fill="#fff" opacity="0.8"/><rect x="174.3" y="54.1" width="2.0" height="1.1" fill="#fff" opacity="0.8"/><rect x="165.5" y="56.2" width="1.7" height="0.6" fill="#fff" opacity="0.8"/><rect x="194.4" y="57.4" width="1.1" height="0.7" fill="#fff" opacity="0.8"/><rect x="100.8" y="49.4" width="1.3" height="0.7" fill="#fff" opacity="0.8"/><rect x="80.2" y="48.5" width="1.4" height="0.8" fill="#fff" opacity="0.8"/><rect x="167.7" y="52.0" width="1.0" height="1.4" fill="#fff" opacity="0.8"/><rect x="196.2" y="54.7" width="1.1" height="0.9" fill="#fff" opacity="0.8"/><rect x="119.9" y="52.2" width="0.8" height="1.0" fill="#fff" opacity="0.8"/><rect x="174.3" y="54.7" width="2.0" height="1.1" fill="#fff" opacity="0.8"/><rect x="173.5" y="56.3" width="2.1" height="1.2" fill="#fff" opacity="0.8"/><rect x="113.9" y="54.4" width="1.7" height="1.3" fill="#fff" opacity="0.8"/><rect x="165.0" y="52.5" width="1.1" height="0.9" fill="#fff" opacity="0.8"/><rect x="85.4" y="54.6" width="1.9" height="0.8" fill="#fff" opacity="0.8"/><rect x="134.1" y="56.1" width="1.3" height="0.7" fill="#fff" opacity="0.8"/><rect x="146.5" y="51.8" width="1.0" height="0.8" fill="#fff" opacity="0.8"/><rect x="43.5" y="49.8" width="1.4" height="0.7" fill="#fff" opacity="0.8"/><rect x="43.3" y="53.4" width="2.1" height="1.3" fill="#fff" opacity="0.8"/><rect x="98.4" y="56.8" width="0.9" height="0.7" fill="#fff" opacity="0.8"/><rect x="43.5" y="49.0" width="1.6" height="1.2" fill="#fff" opacity="0.8"/><rect x="124.5" y="55.7" width="1.4" height="1.3" fill="#fff" opacity="0.8"/><rect x="146.9" y="53.3" width="1.0" height="0.9" fill="#fff" opacity="0.8"/><rect x="118.0" y="55.9" width="1.1" height="0.8" fill="#fff" opacity="0.8"/><rect x="182.8" y="49.1" width="1.6" height="0.8" fill="#fff" opacity="0.8"/><rect x="156.7" y="53.8" width="0.9" height="1.2" fill="#fff" opacity="0.8"/><rect x="112.4" y="51.4" width="2.0" height="1.2" fill="#fff" opacity="0.8"/><rect x="95.5" y="54.6" width="1.0" height="1.0" fill="#fff" opacity="0.8"/><rect x="56.5" y="54.3" width="2.1" height="1.1" fill="#fff" opacity="0.8"/><rect x="49.3" y="53.1" width="1.5" height="1.0" fill="#fff" opacity="0.8"/><rect x="68.3" y="51.0" width="1.4" height="0.7" fill="#fff" opacity="0.8"/><rect x="158.3" y="50.7" width="1.2" height="0.7" fill="#fff" opacity="0.8"/><rect x="94.3" y="56.9" width="1.2" height="0.7" fill="#fff" opacity="0.8"/><rect x="101.8" y="57.0" width="0.9" height="0.9" fill="#fff" opacity="0.8"/><rect x="78.3" y="54.6" width="1.4" height="0.7" fill="#fff" opacity="0.8"/><rect x="190.6" y="51.5" width="1.8" height="1.0" fill="#fff" opacity="0.8"/><rect x="192.2" y="49.0" width="1.1" height="0.8" fill="#fff" opacity="0.8"/><rect x="87.8" y="55.9" width="1.5" height="0.9" fill="#fff" opacity="0.8"/><rect x="129.5" y="56.1" width="1.6" height="1.0" fill="#fff" opacity="0.8"/><rect x="155.3" y="54.0" width="1.4" height="0.9" fill="#fff" opacity="0.8"/><rect x="65.0" y="52.5" width="2.0" height="0.8" fill="#fff" opacity="0.8"/><rect x="105.1" y="53.9" width="1.6" height="0.7" fill="#fff" opacity="0.8"/><rect x="119.0" y="55.1" width="0.9" height="0.7" fill="#fff" opacity="0.8"/><rect x="172.2" y="56.6" width="0.9" height="0.7" fill="#fff" opacity="0.8"/><rect x="150.1" y="51.1" width="1.7" height="0.6" fill="#fff" opacity="0.8"/><rect x="120.8" y="50.0" width="1.3" height="1.2" fill="#fff" opacity="0.8"/><rect x="130.0" y="56.2" width="2.0" height="1.1" fill="#fff" opacity="0.8"/><rect x="188.1" y="50.1" width="1.5" height="0.9" fill="#fff" opacity="0.8"/><rect x="149.8" y="49.5" width="2.0" height="0.9" fill="#fff" opacity="0.8"/><rect x="177.1" y="57.0" width="2.1" height="0.9" fill="#fff" opacity="0.8"/><rect x="189.7" y="57.5" width="1.0" height="1.2" fill="#fff" opacity="0.8"/><rect x="167.4" y="52.6" width="1.2" height="0.7" fill="#fff" opacity="0.8"/><rect x="113.1" y="56.9" width="1.4" height="0.8" fill="#fff" opacity="0.8"/><rect x="148.8" y="52.4" width="1.7" height="1.0" fill="#fff" opacity="0.8"/><rect x="91.6" y="48.8" width="1.9" height="1.1" fill="#fff" opacity="0.8"/><rect x="84.2" y="53.0" width="1.6" height="1.0" fill="#fff" opacity="0.8"/><rect x="197.3" y="55.5" width="1.2" height="0.9" fill="#fff" opacity="0.8"/><rect x="147.5" y="50.0" width="2.1" height="0.6" fill="#fff" opacity="0.8"/><rect x="128.2" y="51.0" width="1.5" height="0.6" fill="#fff" opacity="0.8"/><rect x="80.9" y="57.4" width="1.9" height="0.8" fill="#fff" opacity="0.8"/><rect x="120.7" y="48.8" width="1.0" height="0.8" fill="#fff" opacity="0.8"/><rect x="211.6" y="51.3" width="1.1" height="0.7" fill="#fff" opacity="0.8"/><rect x="61.2" y="57.5" width="1.8" height="1.3" fill="#fff" opacity="0.8"/><rect x="186.0" y="55.5" width="1.2" height="0.7" fill="#fff" opacity="0.8"/><rect x="88.7" y="49.1" width="1.0" height="1.2" fill="#fff" opacity="0.8"/><rect x="126.8" y="48.6" width="1.2" height="1.3" fill="#fff" opacity="0.8"/><rect x="188.7" y="55.1" width="1.8" height="1.3" fill="#fff" opacity="0.8"/><rect x="138.1" y="51.9" width="1.6" height="0.8" fill="#fff" opacity="0.8"/><rect x="48.6" y="50.8" width="1.4" height="0.7" fill="#fff" opacity="0.8"/><rect x="56.2" y="50.7" width="1.3" height="1.4" fill="#fff" opacity="0.8"/><rect x="126.1" y="56.0" width="1.8" height="1.1" fill="#fff" opacity="0.8"/><rect x="97.7" y="52.0" width="1.2" height="1.1" fill="#fff" opacity="0.8"/><rect x="189.4" y="55.6" width="1.2" height="0.7" fill="#fff" opacity="0.8"/><rect x="43.8" y="53.8" width="1.1" height="0.6" fill="#fff" opacity="0.8"/><rect x="94.3" y="50.6" width="1.1" height="1.1" fill="#fff" opacity="0.8"/><rect x="142.8" y="51.0" width="1.8" height="0.8" fill="#fff" opacity="0.8"/><rect x="200.8" y="49.6" width="1.6" height="1.2" fill="#fff" opacity="0.8"/><rect x="168.3" y="52.9" width="2.0" height="1.1" fill="#fff" opacity="0.8"/><rect x="161.1" y="49.2" width="1.1" height="1.0" fill="#fff" opacity="0.8"/><rect x="136.1" y="49.4" width="1.8" height="0.9" fill="#fff" opacity="0.8"/><rect x="124.0" y="53.2" width="2.0" height="0.8" fill="#fff" opacity="0.8"/><rect x="138.6" y="53.9" width="1.7" height="0.8" fill="#fff" opacity="0.8"/><rect x="90.3" y="52.7" width="1.6" height="1.1" fill="#fff" opacity="0.8"/><rect x="65.3" y="52.5" width="1.6" height="0.8" fill="#fff" opacity="0.8"/><rect x="59.9" y="56.9" width="0.8" height="1.0" fill="#fff" opacity="0.8"/><rect x="93.0" y="48.8" width="1.2" height="0.7" fill="#fff" opacity="0.8"/><rect x="111.1" y="56.7" width="0.9" height="0.9" fill="#fff" opacity="0.8"/><rect x="161.8" y="54.1" width="0.8" height="0.8" fill="#fff" opacity="0.8"/><rect x="90.6" y="56.6" width="1.4" height="0.8" fill="#fff" opacity="0.8"/><rect x="124.9" y="52.9" width="1.0" height="1.1" fill="#fff" opacity="0.8"/><rect x="166.3" y="52.8" width="1.6" height="1.2" fill="#fff" opacity="0.8"/><rect x="206.8" y="54.0" width="0.9" height="1.0" fill="#fff" opacity="0.8"/><rect x="156.2" y="51.5" width="1.8" height="0.9" fill="#fff" opacity="0.8"/><rect x="148.3" y="54.0" width="1.7" height="1.3" fill="#fff" opacity="0.8"/><rect x="164.0" y="54.9" width="1.8" height="0.8" fill="#fff" opacity="0.8"/><rect x="147.9" y="54.1" width="0.9" height="1.2" fill="#fff" opacity="0.8"/><rect x="81.3" y="52.9" width="1.5" height="1.2" fill="#fff" opacity="0.8"/><rect x="173.9" y="52.7" width="2.1" height="1.0" fill="#fff" opacity="0.8"/><rect x="139.7" y="57.4" width="1.3" height="1.2" fill="#fff" opacity="0.8"/><rect x="206.8" y="49.3" width="1.9" height="1.1" fill="#fff" opacity="0.8"/><rect x="135.1" y="55.6" width="2.0" height="0.7" fill="#fff" opacity="0.8"/><rect x="126.0" y="54.0" width="1.8" height="1.4" fill="#fff" opacity="0.8"/><rect x="180.4" y="56.0" width="0.9" height="0.9" fill="#fff" opacity="0.8"/><rect x="199.4" y="57.0" width="1.9" height="0.9" fill="#fff" opacity="0.8"/><rect x="174.7" y="53.3" width="1.7" height="1.1" fill="#fff" opacity="0.8"/><rect x="191.1" y="54.9" width="2.2" height="1.0" fill="#fff" opacity="0.8"/><rect x="127.2" y="54.4" width="1.6" height="0.6" fill="#fff" opacity="0.8"/><rect x="207.3" y="51.4" width="1.5" height="0.6" fill="#fff" opacity="0.8"/><rect x="75.0" y="56.9" width="1.2" height="0.8" fill="#fff" opacity="0.8"/><rect x="181.9" y="50.7" width="1.7" height="1.1" fill="#fff" opacity="0.8"/><rect x="196.5" y="52.8" width="1.3" height="0.8" fill="#fff" opacity="0.8"/><rect x="104.9" y="48.5" width="1.0" height="0.7" fill="#fff" opacity="0.8"/><rect x="96.4" y="55.4" width="2.1" height="0.9" fill="#fff" opacity="0.8"/><rect x="85.3" y="51.1" width="1.7" height="1.0" fill="#fff" opacity="0.8"/><rect x="62.5" y="53.2" width="1.2" height="0.7" fill="#fff" opacity="0.8"/><rect x="177.4" y="49.4" width="1.4" height="1.2" fill="#fff" opacity="0.8"/><rect x="135.7" y="56.4" width="1.2" height="1.4" fill="#fff" opacity="0.8"/><rect x="49.8" y="56.6" width="1.4" height="0.6" fill="#fff" opacity="0.8"/><rect x="86.9" y="57.4" width="1.8" height="1.2" fill="#fff" opacity="0.8"/><rect x="181.8" y="48.6" width="1.2" height="1.0" fill="#fff" opacity="0.8"/><rect x="198.7" y="56.7" width="1.0" height="1.4" fill="#fff" opacity="0.8"/><rect x="137.6" y="51.2" width="0.9" height="0.9" fill="#fff" opacity="0.8"/><rect x="131.8" y="52.6" width="1.2" height="1.4" fill="#fff" opacity="0.8"/><rect x="124.1" y="51.3" width="1.9" height="0.8" fill="#fff" opacity="0.8"/><rect x="115.0" y="49.4" width="1.1" height="1.4" fill="#fff" opacity="0.8"/><rect x="149.2" y="53.2" width="1.7" height="1.1" fill="#fff" opacity="0.8"/><rect x="132.0" y="51.8" width="1.0" height="0.6" fill="#fff" opacity="0.8"/><rect x="63.1" y="52.1" width="0.8" height="1.1" fill="#fff" opacity="0.8"/><rect x="100.3" y="50.6" width="1.2" height="1.0" fill="#fff" opacity="0.8"/><rect x="78.3" y="56.2" width="1.5" height="0.7" fill="#fff" opacity="0.8"/><rect x="57.0" y="56.5" width="1.6" height="0.8" fill="#fff" opacity="0.8"/><rect x="164.9" y="48.9" width="2.0" height="1.3" fill="#fff" opacity="0.8"/><rect x="156.6" y="49.0" width="1.4" height="1.3" fill="#fff" opacity="0.8"/><rect x="144.4" y="50.4" width="1.1" height="0.7" fill="#fff" opacity="0.8"/><rect x="132.1" y="50.1" width="1.4" height="1.3" fill="#fff" opacity="0.8"/><rect x="197.2" y="52.9" width="1.9" height="0.7" fill="#fff" opacity="0.8"/><rect x="205.3" y="56.3" width="1.5" height="1.3" fill="#fff" opacity="0.8"/><rect x="93.4" y="57.3" width="1.3" height="1.3" fill="#fff" opacity="0.8"/><rect x="186.3" y="56.9" width="1.8" height="0.7" fill="#fff" opacity="0.8"/><rect x="90.4" y="54.4" width="2.1" height="1.1" fill="#fff" opacity="0.8"/><rect x="49.0" y="51.6" width="1.3" height="0.7" fill="#fff" opacity="0.8"/><rect x="81.0" y="53.1" width="1.3" height="0.8" fill="#fff" opacity="0.8"/><rect x="113.2" y="57.0" width="1.6" height="1.2" fill="#fff" opacity="0.8"/><rect x="202.7" y="48.8" width="2.0" height="0.7" fill="#fff" opacity="0.8"/><rect x="76.1" y="55.2" width="1.9" height="1.1" fill="#fff" opacity="0.8"/><rect x="124.2" y="55.0" width="1.4" height="0.8" fill="#fff" opacity="0.8"/><rect x="80.0" y="49.5" width="0.9" height="1.4" fill="#fff" opacity="0.8"/><rect x="205.7" y="51.6" width="1.4" height="0.8" fill="#fff" opacity="0.8"/><rect x="176.7" y="52.9" width="1.0" height="1.3" fill="#fff" opacity="0.8"/><rect x="202.0" y="48.9" width="1.4" height="0.8" fill="#fff" opacity="0.8"/><rect x="152.2" y="51.7" width="1.2" height="0.8" fill="#fff" opacity="0.8"/><rect x="146.8" y="53.0" width="1.5" height="1.1" fill="#fff" opacity="0.8"/><rect x="123.7" y="57.0" width="1.4" height="1.2" fill="#fff" opacity="0.8"/><rect x="202.4" y="54.1" width="1.6" height="1.2" fill="#fff" opacity="0.8"/><rect x="164.7" y="50.2" width="1.4" height="0.7" fill="#fff" opacity="0.8"/><rect x="45.9" y="54.7" width="1.3" height="0.8" fill="#fff" opacity="0.8"/><rect x="46.8" y="48.7" width="1.7" height="0.9" fill="#fff" opacity="0.8"/><rect x="117.3" y="54.6" width="2.1" height="1.2" fill="#fff" opacity="0.8"/><rect x="80.0" y="57.4" width="1.1" height="1.1" fill="#fff" opacity="0.8"/><rect x="153.1" y="51.1" width="2.0" height="1.1" fill="#fff" opacity="0.8"/><rect x="164.4" y="49.7" width="2.0" height="0.8" fill="#fff" opacity="0.8"/><rect x="148.6" y="55.1" width="1.3" height="0.8" fill="#fff" opacity="0.8"/><rect x="99.1" y="57.3" width="1.7" height="1.0" fill="#fff" opacity="0.8"/><rect x="139.0" y="54.4" width="1.2" height="0.7" fill="#fff" opacity="0.8"/><rect x="61.1" y="53.7" width="1.6" height="1.4" fill="#fff" opacity="0.8"/><rect x="149.1" y="56.2" width="2.2" height="1.0" fill="#fff" opacity="0.8"/><rect x="114.8" y="52.7" width="1.3" height="1.2" fill="#fff" opacity="0.8"/><rect x="141.2" y="49.6" width="2.1" height="1.0" fill="#fff" opacity="0.8"/><rect x="171.1" y="53.4" width="1.6" height="1.1" fill="#fff" opacity="0.8"/><rect x="62.0" y="49.7" width="1.8" height="0.9" fill="#fff" opacity="0.8"/><rect x="64.5" y="55.8" width="1.8" height="1.2" fill="#fff" opacity="0.8"/><rect x="108.9" y="49.7" width="1.9" height="0.8" fill="#fff" opacity="0.8"/><rect x="157.2" y="54.8" width="1.2" height="0.6" fill="#fff" opacity="0.8"/><rect x="143.8" y="55.6" width="1.6" height="1.4" fill="#fff" opacity="0.8"/><rect x="81.6" y="55.1" width="1.4" height="1.1" fill="#fff" opacity="0.8"/><rect x="94.3" y="50.6" width="1.6" height="1.1" fill="#fff" opacity="0.8"/><rect x="198.7" y="53.9" width="1.5" height="1.1" fill="#fff" opacity="0.8"/><rect x="150.3" y="52.2" width="1.2" height="1.1" fill="#fff" opacity="0.8"/><rect x="108.8" y="48.8" width="1.0" height="0.9" fill="#fff" opacity="0.8"/><rect x="160.4" y="54.4" width="1.5" height="1.3" fill="#fff" opacity="0.8"/><rect x="98.5" y="51.7" width="1.9" height="1.1" fill="#fff" opacity="0.8"/><rect x="115.5" y="56.5" width="0.8" height="1.0" fill="#fff" opacity="0.8"/><rect x="189.9" y="56.4" width="1.1" height="1.2" fill="#fff" opacity="0.8"/><rect x="134.0" y="56.9" width="1.3" height="1.1" fill="#fff" opacity="0.8"/><rect x="152.7" y="57.4" width="1.3" height="0.9" fill="#fff" opacity="0.8"/><rect x="63.7" y="54.7" width="0.9" height="1.3" fill="#fff" opacity="0.8"/><rect x="67.4" y="50.2" width="2.1" height="1.0" fill="#fff" opacity="0.8"/><rect x="172.1" y="51.6" width="1.1" height="0.9" fill="#fff" opacity="0.8"/><rect x="211.3" y="50.2" width="2.1" height="1.3" fill="#fff" opacity="0.8"/><rect x="159.4" y="50.9" width="1.8" height="1.3" fill="#fff" opacity="0.8"/><rect x="144.3" y="50.5" width="1.7" height="1.4" fill="#fff" opacity="0.8"/><rect x="143.9" y="49.8" width="1.1" height="1.1" fill="#fff" opacity="0.8"/><rect x="50.5" y="48.5" width="1.3" height="0.8" fill="#fff" opacity="0.8"/><rect x="44.5" y="85.4" width="1.5" height="0.8" fill="#e8e8ee" opacity="0.6"/><rect x="133.0" y="90.9" width="1.4" height="1.0" fill="#e8e8ee" opacity="0.6"/><rect x="183.8" y="74.3" width="0.9" height="1.1" fill="#e8e8ee" opacity="0.6"/><rect x="43.7" y="93.5" width="1.4" height="1.1" fill="#e8e8ee" opacity="0.6"/><rect x="107.0" y="74.7" width="1.6" height="1.0" fill="#e8e8ee" opacity="0.6"/><rect x="50.4" y="80.7" width="1.7" height="0.9" fill="#e8e8ee" opacity="0.6"/><rect x="71.9" y="95.5" width="1.0" height="0.7" fill="#e8e8ee" opacity="0.6"/><rect x="108.8" y="83.4" width="1.5" height="0.8" fill="#e8e8ee" opacity="0.6"/><rect x="77.4" y="77.3" width="1.3" height="0.9" fill="#e8e8ee" opacity="0.6"/><rect x="66.9" y="94.0" width="1.1" height="0.8" fill="#e8e8ee" opacity="0.6"/><rect x="51.8" y="95.5" width="1.2" height="1.1" fill="#e8e8ee" opacity="0.6"/><rect x="161.9" y="76.4" width="1.2" height="0.7" fill="#e8e8ee" opacity="0.6"/><rect x="52.3" y="76.0" width="1.5" height="0.9" fill="#e8e8ee" opacity="0.6"/><rect x="49.9" y="75.4" width="0.9" height="0.9" fill="#e8e8ee" opacity="0.6"/><rect x="58.0" y="78.1" width="1.6" height="0.8" fill="#e8e8ee" opacity="0.6"/><rect x="204.9" y="94.3" width="1.0" height="1.2" fill="#e8e8ee" opacity="0.6"/><rect x="68.8" y="83.1" width="1.3" height="0.8" fill="#e8e8ee" opacity="0.6"/><rect x="105.6" y="93.2" width="1.5" height="0.9" fill="#e8e8ee" opacity="0.6"/><rect x="50.4" y="82.0" width="1.2" height="0.9" fill="#e8e8ee" opacity="0.6"/><rect x="56.3" y="93.4" width="1.8" height="1.0" fill="#e8e8ee" opacity="0.6"/><rect x="146.0" y="96.0" width="1.6" height="0.9" fill="#e8e8ee" opacity="0.6"/><rect x="70.5" y="85.2" width="1.4" height="0.8" fill="#e8e8ee" opacity="0.6"/><rect x="126.3" y="94.6" width="1.8" height="1.2" fill="#e8e8ee" opacity="0.6"/><rect x="49.8" y="73.7" width="1.1" height="1.1" fill="#e8e8ee" opacity="0.6"/><rect x="86.5" y="74.4" width="1.1" height="0.7" fill="#e8e8ee" opacity="0.6"/><rect x="64.6" y="76.6" width="1.0" height="1.0" fill="#e8e8ee" opacity="0.6"/><rect x="67.3" y="87.6" width="1.7" height="1.0" fill="#e8e8ee" opacity="0.6"/><rect x="88.3" y="82.1" width="1.2" height="0.8" fill="#e8e8ee" opacity="0.6"/><rect x="117.3" y="91.2" width="1.4" height="0.6" fill="#e8e8ee" opacity="0.6"/><rect x="59.6" y="90.9" width="1.0" height="0.7" fill="#e8e8ee" opacity="0.6"/><rect x="56.1" y="82.1" width="1.7" height="1.0" fill="#e8e8ee" opacity="0.6"/><rect x="52.6" y="84.2" width="1.0" height="0.8" fill="#e8e8ee" opacity="0.6"/><rect x="62.0" y="92.8" width="1.7" height="1.0" fill="#e8e8ee" opacity="0.6"/><rect x="59.1" y="85.3" width="1.0" height="0.9" fill="#e8e8ee" opacity="0.6"/><rect x="48.2" y="82.6" width="1.6" height="1.0" fill="#e8e8ee" opacity="0.6"/><rect x="49.5" y="87.1" width="1.4" height="0.8" fill="#e8e8ee" opacity="0.6"/><rect x="54.5" y="87.1" width="1.7" height="0.8" fill="#e8e8ee" opacity="0.6"/><rect x="139.0" y="88.0" width="1.0" height="0.7" fill="#e8e8ee" opacity="0.6"/><rect x="67.3" y="88.3" width="1.1" height="0.9" fill="#e8e8ee" opacity="0.6"/><rect x="49.5" y="76.2" width="1.8" height="0.6" fill="#e8e8ee" opacity="0.6"/><rect x="64.5" y="80.9" width="1.0" height="1.1" fill="#e8e8ee" opacity="0.6"/><rect x="78.0" y="89.0" width="1.2" height="1.2" fill="#e8e8ee" opacity="0.6"/><rect x="196.2" y="87.9" width="0.9" height="0.9" fill="#e8e8ee" opacity="0.6"/><rect x="68.6" y="74.1" width="1.8" height="1.2" fill="#e8e8ee" opacity="0.6"/><rect x="53.2" y="88.8" width="1.8" height="1.1" fill="#e8e8ee" opacity="0.6"/><rect x="118.0" y="87.2" width="1.7" height="0.9" fill="#e8e8ee" opacity="0.6"/><rect x="46.7" y="94.9" width="1.5" height="1.2" fill="#e8e8ee" opacity="0.6"/><rect x="45.5" y="88.4" width="1.2" height="0.9" fill="#e8e8ee" opacity="0.6"/><rect x="65.2" y="90.8" width="1.5" height="0.9" fill="#e8e8ee" opacity="0.6"/><rect x="54.2" y="83.2" width="1.1" height="0.9" fill="#e8e8ee" opacity="0.6"/><rect x="180.2" y="75.2" width="1.5" height="1.1" fill="#e8e8ee" opacity="0.6"/><rect x="69.0" y="94.6" width="0.9" height="1.0" fill="#e8e8ee" opacity="0.6"/><rect x="56.3" y="85.2" width="1.7" height="1.0" fill="#e8e8ee" opacity="0.6"/><rect x="85.1" y="91.1" width="1.2" height="0.7" fill="#e8e8ee" opacity="0.6"/><rect x="141.6" y="77.4" width="1.7" height="0.9" fill="#e8e8ee" opacity="0.6"/><rect x="211.8" y="79.8" width="1.3" height="0.9" fill="#e8e8ee" opacity="0.6"/><rect x="58.3" y="95.2" width="1.5" height="0.8" fill="#e8e8ee" opacity="0.6"/><rect x="148.2" y="80.8" width="1.5" height="0.8" fill="#e8e8ee" opacity="0.6"/><rect x="109.0" y="91.8" width="1.1" height="0.7" fill="#e8e8ee" opacity="0.6"/><rect x="46.1" y="93.0" width="1.8" height="0.8" fill="#e8e8ee" opacity="0.6"/><line x1="70.8" y1="92.7" x2="86.8" y2="77.3" stroke="#9a78a0" stroke-width="0.8" opacity="0.9"/><line x1="122.8" y1="71.7" x2="137.4" y2="69.9" stroke="#9a78a0" stroke-width="0.8" opacity="0.9"/><line x1="51.5" y1="84.9" x2="94.0" y2="108.1" stroke="#9a78a0" stroke-width="0.8" opacity="0.9"/><line x1="157.7" y1="75.7" x2="197.3" y2="54.9" stroke="#9a78a0" stroke-width="0.8" opacity="0.9"/><line x1="107.9" y1="87.4" x2="140.8" y2="110.3" stroke="#9a78a0" stroke-width="0.8" opacity="0.9"/><line x1="91.4" y1="72.3" x2="101.2" y2="78.3" stroke="#9a78a0" stroke-width="0.8" opacity="0.9"/><line x1="79.3" y1="76.7" x2="94.5" y2="83.9" stroke="#9a78a0" stroke-width="0.8" opacity="0.9"/><line x1="43.3" y1="68.5" x2="70.4" y2="76.0" stroke="#9a78a0" stroke-width="0.8" opacity="0.9"/><line x1="152.8" y1="82.4" x2="164.4" y2="81.1" stroke="#9a78a0" stroke-width="0.8" opacity="0.9"/><line x1="214.6" y1="88.5" x2="253.3" y2="74.1" stroke="#9a78a0" stroke-width="0.8" opacity="0.9"/><line x1="124.8" y1="89.0" x2="145.7" y2="51.5" stroke="#9a78a0" stroke-width="0.8" opacity="0.9"/><line x1="62.9" y1="71.9" x2="75.9" y2="89.8" stroke="#9a78a0" stroke-width="0.8" opacity="0.9"/><line x1="100.1" y1="88.6" x2="149.7" y2="85.3" stroke="#9a78a0" stroke-width="0.8" opacity="0.9"/><line x1="48.5" y1="94.4" x2="50.1" y2="114.2" stroke="#9a78a0" stroke-width="0.8" opacity="0.9"/><line x1="62.3" y1="80.3" x2="91.0" y2="96.3" stroke="#9a78a0" stroke-width="0.8" opacity="0.9"/><line x1="192.4" y1="81.8" x2="205.2" y2="89.6" stroke="#9a78a0" stroke-width="0.8" opacity="0.9"/><line x1="67.9" y1="92.0" x2="114.8" y2="108.5" stroke="#9a78a0" stroke-width="0.8" opacity="0.9"/><line x1="178.2" y1="85.1" x2="196.9" y2="86.9" stroke="#9a78a0" stroke-width="0.8" opacity="0.9"/><line x1="88.0" y1="93.9" x2="118.2" y2="74.9" stroke="#9a78a0" stroke-width="0.8" opacity="0.9"/><line x1="223.0" y1="85.5" x2="258.2" y2="83.7" stroke="#9a78a0" stroke-width="0.8" opacity="0.9"/><line x1="146.5" y1="81.7" x2="163.0" y2="119.5" stroke="#9a78a0" stroke-width="0.8" opacity="0.9"/><line x1="168.8" y1="88.1" x2="189.5" y2="87.9" stroke="#9a78a0" stroke-width="0.8" opacity="0.9"/><line x1="63.7" y1="94.6" x2="104.0" y2="110.6" stroke="#9a78a0" stroke-width="0.8" opacity="0.9"/><line x1="104.1" y1="68.7" x2="141.8" y2="75.3" stroke="#9a78a0" stroke-width="0.8" opacity="0.9"/><line x1="94.0" y1="84.8" x2="134.5" y2="92.6" stroke="#9a78a0" stroke-width="0.8" opacity="0.9"/><line x1="180.4" y1="83.8" x2="197.5" y2="72.1" stroke="#9a78a0" stroke-width="0.8" opacity="0.9"/><line x1="104.4" y1="70.0" x2="136.3" y2="89.5" stroke="#9a78a0" stroke-width="0.8" opacity="0.9"/><line x1="135.9" y1="87.3" x2="160.8" y2="98.0" stroke="#9a78a0" stroke-width="0.8" opacity="0.9"/><line x1="101.6" y1="95.2" x2="123.0" y2="58.2" stroke="#9a78a0" stroke-width="0.8" opacity="0.9"/><line x1="152.1" y1="77.6" x2="190.5" y2="67.0" stroke="#9a78a0" stroke-width="0.8" opacity="0.9"/><line x1="135.2" y1="84.4" x2="177.9" y2="106.8" stroke="#9a78a0" stroke-width="0.8" opacity="0.9"/><line x1="176.0" y1="76.2" x2="189.0" y2="47.1" stroke="#9a78a0" stroke-width="0.8" opacity="0.9"/><line x1="92.1" y1="81.2" x2="115.9" y2="67.7" stroke="#9a78a0" stroke-width="0.8" opacity="0.9"/><line x1="70.3" y1="72.9" x2="80.1" y2="68.2" stroke="#9a78a0" stroke-width="0.8" opacity="0.9"/><line x1="219.0" y1="69.5" x2="233.4" y2="66.0" stroke="#9a78a0" stroke-width="0.8" opacity="0.9"/><line x1="109.0" y1="82.2" x2="119.2" y2="82.7" stroke="#9a78a0" stroke-width="0.8" opacity="0.9"/><line x1="82.6" y1="87.9" x2="97.6" y2="66.3" stroke="#9a78a0" stroke-width="0.8" opacity="0.9"/><line x1="213.7" y1="76.8" x2="256.3" y2="63.5" stroke="#9a78a0" stroke-width="0.8" opacity="0.9"/><line x1="91.9" y1="86.6" x2="108.7" y2="93.0" stroke="#9a78a0" stroke-width="0.8" opacity="0.9"/><line x1="119.4" y1="77.1" x2="168.0" y2="83.9" stroke="#9a78a0" stroke-width="0.8" opacity="0.9"/><line x1="161.4" y1="82.2" x2="179.1" y2="82.6" stroke="#9a78a0" stroke-width="0.8" opacity="0.9"/><line x1="157.7" y1="75.6" x2="186.8" y2="71.7" stroke="#9a78a0" stroke-width="0.8" opacity="0.9"/><line x1="28.8" y1="78.1" x2="53.5" y2="78.8" stroke="#9a78a0" stroke-width="0.8" opacity="0.9"/><line x1="114.6" y1="87.6" x2="147.6" y2="83.8" stroke="#9a78a0" stroke-width="0.8" opacity="0.9"/><line x1="77.9" y1="87.1" x2="101.1" y2="93.0" stroke="#9a78a0" stroke-width="0.8" opacity="0.9"/><line x1="151.3" y1="73.5" x2="161.9" y2="73.4" stroke="#9a78a0" stroke-width="0.8" opacity="0.9"/><line x1="47.8" y1="80.9" x2="73.8" y2="116.1" stroke="#9a78a0" stroke-width="0.8" opacity="0.9"/><line x1="185.1" y1="95.1" x2="199.3" y2="88.7" stroke="#9a78a0" stroke-width="0.8" opacity="0.9"/><line x1="182.4" y1="73.3" x2="224.5" y2="53.8" stroke="#9a78a0" stroke-width="0.8" opacity="0.9"/><line x1="64.6" y1="74.6" x2="75.8" y2="77.4" stroke="#9a78a0" stroke-width="0.8" opacity="0.9"/><line x1="139.4" y1="82.8" x2="181.3" y2="83.6" stroke="#9a78a0" stroke-width="0.8" opacity="0.9"/><line x1="188.5" y1="92.1" x2="213.0" y2="77.0" stroke="#9a78a0" stroke-width="0.8" opacity="0.9"/><line x1="27.7" y1="85.8" x2="69.1" y2="98.5" stroke="#9a78a0" stroke-width="0.8" opacity="0.9"/><line x1="170.3" y1="87.4" x2="204.5" y2="97.0" stroke="#9a78a0" stroke-width="0.8" opacity="0.9"/><line x1="66.5" y1="92.3" x2="84.4" y2="93.0" stroke="#9a78a0" stroke-width="0.8" opacity="0.9"/><line x1="190.2" y1="90.4" x2="203.4" y2="112.3" stroke="#8a8a98" stroke-width="0.75" opacity="0.85"/><line x1="140.5" y1="90.2" x2="175.7" y2="103.4" stroke="#8a8a98" stroke-width="0.75" opacity="0.85"/><line x1="29.3" y1="80.7" x2="49.6" y2="69.5" stroke="#8a8a98" stroke-width="0.75" opacity="0.85"/><line x1="91.4" y1="85.3" x2="127.9" y2="94.4" stroke="#8a8a98" stroke-width="0.75" opacity="0.85"/><line x1="61.6" y1="88.4" x2="83.2" y2="95.7" stroke="#8a8a98" stroke-width="0.75" opacity="0.85"/><line x1="59.9" y1="88.5" x2="84.9" y2="104.2" stroke="#8a8a98" stroke-width="0.75" opacity="0.85"/><line x1="192.9" y1="98.3" x2="227.9" y2="98.6" stroke="#8a8a98" stroke-width="0.75" opacity="0.85"/><line x1="168.4" y1="88.8" x2="186.4" y2="93.9" stroke="#8a8a98" stroke-width="0.75" opacity="0.85"/><line x1="75.8" y1="85.5" x2="113.3" y2="92.2" stroke="#8a8a98" stroke-width="0.75" opacity="0.85"/><line x1="141.4" y1="90.6" x2="154.3" y2="66.2" stroke="#8a8a98" stroke-width="0.75" opacity="0.85"/><line x1="221.7" y1="87.3" x2="231.4" y2="82.5" stroke="#8a8a98" stroke-width="0.75" opacity="0.85"/><line x1="170.2" y1="89.1" x2="176.0" y2="98.2" stroke="#8a8a98" stroke-width="0.75" opacity="0.85"/><line x1="84.2" y1="85.8" x2="99.1" y2="76.3" stroke="#8a8a98" stroke-width="0.75" opacity="0.85"/><line x1="90.9" y1="90.0" x2="102.0" y2="97.2" stroke="#8a8a98" stroke-width="0.75" opacity="0.85"/><line x1="49.4" y1="99.9" x2="68.5" y2="100.8" stroke="#8a8a98" stroke-width="0.75" opacity="0.85"/><line x1="203.2" y1="100.6" x2="221.8" y2="90.7" stroke="#8a8a98" stroke-width="0.75" opacity="0.85"/><line x1="164.5" y1="92.5" x2="176.3" y2="91.0" stroke="#8a8a98" stroke-width="0.75" opacity="0.85"/><line x1="103.8" y1="98.1" x2="118.8" y2="97.5" stroke="#8a8a98" stroke-width="0.75" opacity="0.85"/><line x1="166.3" y1="89.2" x2="184.2" y2="95.3" stroke="#8a8a98" stroke-width="0.75" opacity="0.85"/><line x1="38.0" y1="94.1" x2="42.6" y2="74.3" stroke="#8a8a98" stroke-width="0.75" opacity="0.85"/><line x1="201.3" y1="91.2" x2="218.1" y2="83.2" stroke="#8a8a98" stroke-width="0.75" opacity="0.85"/><line x1="140.9" y1="100.1" x2="159.7" y2="112.0" stroke="#8a8a98" stroke-width="0.75" opacity="0.85"/><line x1="36.2" y1="87.5" x2="47.0" y2="81.2" stroke="#8a8a98" stroke-width="0.75" opacity="0.85"/><line x1="206.3" y1="99.7" x2="240.9" y2="80.7" stroke="#8a8a98" stroke-width="0.75" opacity="0.85"/><line x1="56.0" y1="86.6" x2="66.3" y2="82.9" stroke="#8a8a98" stroke-width="0.75" opacity="0.85"/><line x1="115.6" y1="97.1" x2="129.6" y2="96.9" stroke="#8a8a98" stroke-width="0.75" opacity="0.85"/><line x1="181.4" y1="99.9" x2="195.6" y2="101.3" stroke="#8a8a98" stroke-width="0.75" opacity="0.85"/><line x1="167.2" y1="81.5" x2="197.5" y2="60.7" stroke="#8a8a98" stroke-width="0.75" opacity="0.85"/><line x1="79.8" y1="96.3" x2="103.4" y2="88.7" stroke="#8a8a98" stroke-width="0.75" opacity="0.85"/><line x1="109.3" y1="83.4" x2="140.2" y2="84.6" stroke="#8a8a98" stroke-width="0.75" opacity="0.85"/><line x1="90.9" y1="93.5" x2="108.1" y2="94.0" stroke="#8a8a98" stroke-width="0.75" opacity="0.85"/><line x1="181.0" y1="84.2" x2="197.5" y2="74.8" stroke="#8a8a98" stroke-width="0.75" opacity="0.85"/><line x1="131.6" y1="85.0" x2="148.8" y2="93.8" stroke="#8a8a98" stroke-width="0.75" opacity="0.85"/><line x1="65.9" y1="88.8" x2="93.3" y2="113.8" stroke="#8a8a98" stroke-width="0.75" opacity="0.85"/><line x1="132.5" y1="87.4" x2="158.8" y2="72.0" stroke="#8a8a98" stroke-width="0.75" opacity="0.85"/><line x1="191.8" y1="100.1" x2="222.6" y2="114.7" stroke="#8a8a98" stroke-width="0.75" opacity="0.85"/><line x1="81.2" y1="92.4" x2="103.1" y2="105.1" stroke="#8a8a98" stroke-width="0.75" opacity="0.85"/><line x1="57.9" y1="101.7" x2="91.2" y2="89.7" stroke="#8a8a98" stroke-width="0.75" opacity="0.85"/><line x1="148.8" y1="93.7" x2="164.4" y2="84.1" stroke="#8a8a98" stroke-width="0.75" opacity="0.85"/><line x1="137.5" y1="84.5" x2="153.5" y2="84.0" stroke="#8a8a98" stroke-width="0.75" opacity="0.85"/><line x1="47.5" y1="83.6" x2="77.3" y2="99.7" stroke="#8a8a98" stroke-width="0.75" opacity="0.85"/><line x1="193.7" y1="92.5" x2="212.0" y2="82.2" stroke="#8a8a98" stroke-width="0.75" opacity="0.85"/><line x1="204.8" y1="85.7" x2="216.3" y2="86.6" stroke="#8a8a98" stroke-width="0.75" opacity="0.85"/><line x1="136.7" y1="97.5" x2="172.5" y2="88.6" stroke="#8a8a98" stroke-width="0.75" opacity="0.85"/><line x1="30.0" y1="99.9" x2="51.8" y2="108.5" stroke="#8a8a98" stroke-width="0.75" opacity="0.85"/><line x1="141.0" y1="98.2" x2="171.2" y2="86.1" stroke="#8a8a98" stroke-width="0.75" opacity="0.85"/><line x1="199.3" y1="85.0" x2="218.6" y2="85.2" stroke="#8a8a98" stroke-width="0.75" opacity="0.85"/><line x1="192.6" y1="86.2" x2="206.5" y2="82.5" stroke="#8a8a98" stroke-width="0.75" opacity="0.85"/><line x1="216.6" y1="83.2" x2="234.0" y2="72.3" stroke="#8a8a98" stroke-width="0.75" opacity="0.85"/><line x1="27.7" y1="83.4" x2="51.0" y2="62.3" stroke="#8a8a98" stroke-width="0.75" opacity="0.85"/><line x1="65.4" y1="98.5" x2="95.4" y2="74.2" stroke="#45687a" stroke-width="0.85" opacity="0.95"/><line x1="114.6" y1="107.2" x2="133.4" y2="112.1" stroke="#45687a" stroke-width="0.85" opacity="0.95"/><line x1="58.7" y1="114.2" x2="82.6" y2="101.9" stroke="#45687a" stroke-width="0.85" opacity="0.95"/><line x1="60.4" y1="118.7" x2="87.8" y2="144.8" stroke="#45687a" stroke-width="0.85" opacity="0.95"/><line x1="138.6" y1="115.5" x2="163.3" y2="127.4" stroke="#45687a" stroke-width="0.85" opacity="0.95"/><line x1="165.6" y1="114.4" x2="179.8" y2="120.4" stroke="#45687a" stroke-width="0.85" opacity="0.95"/><line x1="91.4" y1="106.9" x2="106.8" y2="118.7" stroke="#45687a" stroke-width="0.85" opacity="0.95"/><line x1="171.1" y1="99.8" x2="203.3" y2="96.8" stroke="#45687a" stroke-width="0.85" opacity="0.95"/><line x1="43.7" y1="120.3" x2="54.1" y2="112.8" stroke="#45687a" stroke-width="0.85" opacity="0.95"/><line x1="99.7" y1="126.5" x2="104.8" y2="107.4" stroke="#45687a" stroke-width="0.85" opacity="0.95"/><line x1="207.2" y1="108.7" x2="234.5" y2="130.0" stroke="#45687a" stroke-width="0.85" opacity="0.95"/><line x1="112.3" y1="123.8" x2="120.7" y2="137.1" stroke="#45687a" stroke-width="0.85" opacity="0.95"/><line x1="169.8" y1="132.2" x2="191.5" y2="133.6" stroke="#45687a" stroke-width="0.85" opacity="0.95"/><line x1="220.2" y1="134.8" x2="257.0" y2="135.5" stroke="#45687a" stroke-width="0.85" opacity="0.95"/><line x1="198.9" y1="116.7" x2="212.7" y2="119.5" stroke="#45687a" stroke-width="0.85" opacity="0.95"/><line x1="89.9" y1="119.0" x2="123.4" y2="127.9" stroke="#45687a" stroke-width="0.85" opacity="0.95"/><line x1="213.9" y1="109.5" x2="231.5" y2="99.1" stroke="#45687a" stroke-width="0.85" opacity="0.95"/><line x1="175.0" y1="134.1" x2="205.0" y2="151.8" stroke="#45687a" stroke-width="0.85" opacity="0.95"/><line x1="85.9" y1="120.8" x2="87.7" y2="107.2" stroke="#45687a" stroke-width="0.85" opacity="0.95"/><line x1="198.5" y1="118.9" x2="218.7" y2="130.7" stroke="#45687a" stroke-width="0.85" opacity="0.95"/><line x1="50.4" y1="111.0" x2="73.0" y2="121.2" stroke="#45687a" stroke-width="0.85" opacity="0.95"/><line x1="24.6" y1="134.9" x2="55.6" y2="121.8" stroke="#45687a" stroke-width="0.85" opacity="0.95"/><line x1="211.7" y1="123.5" x2="238.9" y2="136.4" stroke="#45687a" stroke-width="0.85" opacity="0.95"/><line x1="139.1" y1="127.1" x2="156.8" y2="128.3" stroke="#45687a" stroke-width="0.85" opacity="0.95"/><line x1="179.4" y1="102.0" x2="190.4" y2="104.6" stroke="#45687a" stroke-width="0.85" opacity="0.95"/><line x1="199.0" y1="105.1" x2="221.2" y2="94.9" stroke="#45687a" stroke-width="0.85" opacity="0.95"/><line x1="146.8" y1="105.3" x2="156.3" y2="116.2" stroke="#45687a" stroke-width="0.85" opacity="0.95"/><line x1="66.4" y1="105.2" x2="91.2" y2="75.4" stroke="#45687a" stroke-width="0.85" opacity="0.95"/><line x1="216.9" y1="99.4" x2="232.6" y2="103.3" stroke="#45687a" stroke-width="0.85" opacity="0.95"/><line x1="200.6" y1="102.3" x2="230.1" y2="111.8" stroke="#45687a" stroke-width="0.85" opacity="0.95"/><line x1="70.1" y1="103.5" x2="96.4" y2="93.3" stroke="#45687a" stroke-width="0.85" opacity="0.95"/><line x1="171.7" y1="99.2" x2="174.6" y2="121.1" stroke="#45687a" stroke-width="0.85" opacity="0.95"/><line x1="138.4" y1="110.2" x2="147.2" y2="100.6" stroke="#45687a" stroke-width="0.85" opacity="0.95"/><line x1="123.9" y1="114.4" x2="156.5" y2="95.2" stroke="#45687a" stroke-width="0.85" opacity="0.95"/><line x1="130.3" y1="112.4" x2="137.2" y2="75.4" stroke="#45687a" stroke-width="0.85" opacity="0.95"/><line x1="190.9" y1="107.5" x2="213.7" y2="82.6" stroke="#45687a" stroke-width="0.85" opacity="0.95"/><line x1="218.9" y1="120.1" x2="254.8" y2="117.1" stroke="#45687a" stroke-width="0.85" opacity="0.95"/><line x1="192.7" y1="132.3" x2="203.8" y2="132.4" stroke="#45687a" stroke-width="0.85" opacity="0.95"/><line x1="214.5" y1="101.3" x2="229.4" y2="104.1" stroke="#45687a" stroke-width="0.85" opacity="0.95"/><line x1="93.1" y1="109.1" x2="114.2" y2="105.3" stroke="#45687a" stroke-width="0.85" opacity="0.95"/><line x1="167.4" y1="123.9" x2="175.2" y2="139.7" stroke="#45687a" stroke-width="0.85" opacity="0.95"/><line x1="145.7" y1="123.6" x2="155.1" y2="106.0" stroke="#45687a" stroke-width="0.85" opacity="0.95"/><line x1="146.3" y1="109.7" x2="176.6" y2="101.7" stroke="#45687a" stroke-width="0.85" opacity="0.95"/><line x1="36.1" y1="131.2" x2="39.7" y2="151.1" stroke="#45687a" stroke-width="0.85" opacity="0.95"/><line x1="190.6" y1="134.4" x2="212.2" y2="113.6" stroke="#45687a" stroke-width="0.85" opacity="0.95"/><line x1="221.9" y1="99.1" x2="243.5" y2="110.3" stroke="#45687a" stroke-width="0.85" opacity="0.95"/><line x1="51.1" y1="116.8" x2="82.9" y2="97.8" stroke="#45687a" stroke-width="0.85" opacity="0.95"/><line x1="171.8" y1="104.1" x2="209.3" y2="110.8" stroke="#45687a" stroke-width="0.85" opacity="0.95"/><line x1="220.5" y1="130.9" x2="235.0" y2="128.9" stroke="#45687a" stroke-width="0.85" opacity="0.95"/><line x1="174.0" y1="101.1" x2="201.5" y2="111.0" stroke="#45687a" stroke-width="0.85" opacity="0.95"/><line x1="213.2" y1="130.2" x2="237.6" y2="140.0" stroke="#45687a" stroke-width="0.85" opacity="0.95"/><line x1="126.9" y1="99.1" x2="148.1" y2="106.5" stroke="#45687a" stroke-width="0.85" opacity="0.95"/><line x1="113.4" y1="129.3" x2="144.7" y2="142.9" stroke="#45687a" stroke-width="0.85" opacity="0.95"/><line x1="190.4" y1="106.7" x2="217.9" y2="105.0" stroke="#45687a" stroke-width="0.85" opacity="0.95"/><line x1="39.7" y1="105.0" x2="68.9" y2="121.4" stroke="#45687a" stroke-width="0.85" opacity="0.95"/><line x1="99.7" y1="120.4" x2="117.6" y2="121.6" stroke="#45687a" stroke-width="0.85" opacity="0.95"/><line x1="91.8" y1="133.4" x2="97.5" y2="121.1" stroke="#45687a" stroke-width="0.85" opacity="0.95"/><line x1="197.0" y1="114.4" x2="224.7" y2="119.6" stroke="#45687a" stroke-width="0.85" opacity="0.95"/><line x1="205.3" y1="103.7" x2="214.5" y2="95.6" stroke="#45687a" stroke-width="0.85" opacity="0.95"/><line x1="82.3" y1="117.1" x2="120.2" y2="126.4" stroke="#45687a" stroke-width="0.85" opacity="0.95"/><line x1="60.5" y1="112.0" x2="91.0" y2="117.1" stroke="#45687a" stroke-width="0.85" opacity="0.95"/><line x1="124.6" y1="101.7" x2="132.3" y2="111.1" stroke="#45687a" stroke-width="0.85" opacity="0.95"/><line x1="186.6" y1="98.2" x2="205.0" y2="102.4" stroke="#45687a" stroke-width="0.85" opacity="0.95"/><line x1="40.4" y1="107.5" x2="74.7" y2="109.6" stroke="#45687a" stroke-width="0.85" opacity="0.95"/><line x1="57.0" y1="121.0" x2="67.6" y2="109.5" stroke="#45687a" stroke-width="0.85" opacity="0.95"/><line x1="44.7" y1="103.9" x2="58.3" y2="119.6" stroke="#45687a" stroke-width="0.85" opacity="0.95"/><line x1="175.3" y1="113.6" x2="209.9" y2="97.0" stroke="#45687a" stroke-width="0.85" opacity="0.95"/><line x1="65.0" y1="133.5" x2="71.0" y2="145.0" stroke="#45687a" stroke-width="0.85" opacity="0.95"/><line x1="221.6" y1="122.2" x2="244.8" y2="125.0" stroke="#45687a" stroke-width="0.85" opacity="0.95"/><line x1="214.9" y1="134.3" x2="227.2" y2="111.5" stroke="#45687a" stroke-width="0.85" opacity="0.95"/><line x1="163.8" y1="104.8" x2="173.7" y2="114.1" stroke="#45687a" stroke-width="0.85" opacity="0.95"/><line x1="82.2" y1="123.2" x2="83.6" y2="141.4" stroke="#45687a" stroke-width="0.85" opacity="0.95"/><line x1="191.2" y1="119.7" x2="202.9" y2="113.8" stroke="#45687a" stroke-width="0.85" opacity="0.95"/><line x1="29.3" y1="113.9" x2="46.2" y2="103.9" stroke="#45687a" stroke-width="0.85" opacity="0.95"/><line x1="49.7" y1="105.5" x2="64.6" y2="122.6" stroke="#45687a" stroke-width="0.85" opacity="0.95"/><line x1="147.0" y1="118.0" x2="168.1" y2="149.4" stroke="#45687a" stroke-width="0.85" opacity="0.95"/><line x1="198.4" y1="125.3" x2="223.1" y2="111.7" stroke="#45687a" stroke-width="0.85" opacity="0.95"/><line x1="89.2" y1="132.2" x2="99.8" y2="145.6" stroke="#45687a" stroke-width="0.85" opacity="0.95"/><line x1="90.9" y1="125.5" x2="103.0" y2="118.7" stroke="#45687a" stroke-width="0.85" opacity="0.95"/><line x1="199.2" y1="105.7" x2="219.4" y2="119.7" stroke="#45687a" stroke-width="0.85" opacity="0.95"/><line x1="118.6" y1="104.1" x2="147.3" y2="113.1" stroke="#45687a" stroke-width="0.85" opacity="0.95"/><line x1="101.8" y1="124.3" x2="119.1" y2="113.0" stroke="#45687a" stroke-width="0.85" opacity="0.95"/><line x1="176.2" y1="130.0" x2="212.6" y2="140.7" stroke="#45687a" stroke-width="0.85" opacity="0.95"/><line x1="153.6" y1="134.1" x2="179.1" y2="154.3" stroke="#45687a" stroke-width="0.85" opacity="0.95"/><line x1="137.5" y1="119.9" x2="144.6" y2="111.6" stroke="#45687a" stroke-width="0.85" opacity="0.95"/><line x1="202.3" y1="112.7" x2="238.4" y2="109.0" stroke="#45687a" stroke-width="0.85" opacity="0.95"/><line x1="171.2" y1="111.8" x2="204.5" y2="93.0" stroke="#45687a" stroke-width="0.85" opacity="0.95"/><line x1="54.6" y1="131.7" x2="86.5" y2="108.3" stroke="#45687a" stroke-width="0.85" opacity="0.95"/><line x1="62.5" y1="123.1" x2="89.2" y2="102.4" stroke="#45687a" stroke-width="0.85" opacity="0.95"/><line x1="202.1" y1="131.0" x2="216.4" y2="134.7" stroke="#45687a" stroke-width="0.85" opacity="0.95"/><line x1="223.9" y1="110.1" x2="236.7" y2="95.4" stroke="#45687a" stroke-width="0.85" opacity="0.95"/><line x1="127.9" y1="115.5" x2="138.2" y2="113.3" stroke="#45687a" stroke-width="0.85" opacity="0.95"/><line x1="152.8" y1="111.1" x2="182.1" y2="104.1" stroke="#45687a" stroke-width="0.85" opacity="0.95"/><line x1="172.5" y1="113.4" x2="199.8" y2="119.7" stroke="#45687a" stroke-width="0.85" opacity="0.95"/><line x1="120.0" y1="133.9" x2="130.9" y2="134.3" stroke="#45687a" stroke-width="0.85" opacity="0.95"/><line x1="49.2" y1="105.2" x2="60.2" y2="97.9" stroke="#45687a" stroke-width="0.85" opacity="0.95"/><line x1="208.0" y1="119.7" x2="226.4" y2="121.8" stroke="#45687a" stroke-width="0.85" opacity="0.95"/><line x1="197.3" y1="125.2" x2="203.8" y2="117.6" stroke="#45687a" stroke-width="0.85" opacity="0.95"/><line x1="29.4" y1="124.9" x2="54.9" y2="122.5" stroke="#45687a" stroke-width="0.85" opacity="0.95"/><line x1="97.2" y1="109.0" x2="103.9" y2="140.9" stroke="#45687a" stroke-width="0.85" opacity="0.95"/><line x1="130.8" y1="133.2" x2="140.6" y2="123.0" stroke="#45687a" stroke-width="0.85" opacity="0.95"/><line x1="51.7" y1="101.8" x2="67.7" y2="105.0" stroke="#45687a" stroke-width="0.85" opacity="0.95"/><line x1="38.8" y1="110.5" x2="67.2" y2="133.7" stroke="#45687a" stroke-width="0.85" opacity="0.95"/><line x1="188.3" y1="107.6" x2="210.1" y2="90.8" stroke="#45687a" stroke-width="0.85" opacity="0.95"/><line x1="130.3" y1="106.6" x2="161.1" y2="92.6" stroke="#45687a" stroke-width="0.85" opacity="0.95"/><line x1="69.8" y1="126.9" x2="84.5" y2="109.0" stroke="#45687a" stroke-width="0.85" opacity="0.95"/><line x1="200.4" y1="121.5" x2="220.3" y2="121.7" stroke="#45687a" stroke-width="0.85" opacity="0.95"/><line x1="156.1" y1="108.7" x2="163.1" y2="117.4" stroke="#45687a" stroke-width="0.85" opacity="0.95"/><line x1="49.8" y1="109.8" x2="74.5" y2="112.2" stroke="#45687a" stroke-width="0.85" opacity="0.95"/><line x1="53.6" y1="128.7" x2="62.4" y2="116.4" stroke="#45687a" stroke-width="0.85" opacity="0.95"/><line x1="44.9" y1="116.9" x2="60.7" y2="123.5" stroke="#45687a" stroke-width="0.85" opacity="0.95"/><line x1="197.1" y1="131.4" x2="208.9" y2="121.7" stroke="#45687a" stroke-width="0.85" opacity="0.95"/><line x1="167.7" y1="100.5" x2="177.5" y2="104.5" stroke="#45687a" stroke-width="0.85" opacity="0.95"/><line x1="52.0" y1="106.9" x2="79.4" y2="126.9" stroke="#45687a" stroke-width="0.85" opacity="0.95"/><line x1="100.9" y1="98.4" x2="116.8" y2="88.7" stroke="#45687a" stroke-width="0.85" opacity="0.95"/><line x1="210.5" y1="108.6" x2="246.7" y2="120.2" stroke="#45687a" stroke-width="0.85" opacity="0.95"/><line x1="34.7" y1="119.8" x2="44.9" y2="111.7" stroke="#45687a" stroke-width="0.85" opacity="0.95"/><line x1="89.6" y1="110.5" x2="109.5" y2="132.9" stroke="#45687a" stroke-width="0.85" opacity="0.95"/><line x1="109.1" y1="134.9" x2="132.8" y2="130.6" stroke="#45687a" stroke-width="0.85" opacity="0.95"/><line x1="126.9" y1="101.9" x2="149.4" y2="111.0" stroke="#45687a" stroke-width="0.85" opacity="0.95"/><line x1="140.4" y1="131.6" x2="174.8" y2="143.8" stroke="#45687a" stroke-width="0.85" opacity="0.95"/><line x1="170.6" y1="114.9" x2="173.4" y2="127.0" stroke="#45687a" stroke-width="0.85" opacity="0.95"/><line x1="224.3" y1="104.2" x2="254.7" y2="118.0" stroke="#45687a" stroke-width="0.85" opacity="0.95"/><line x1="92.2" y1="108.6" x2="102.7" y2="100.1" stroke="#45687a" stroke-width="0.85" opacity="0.95"/><line x1="56.5" y1="128.3" x2="88.2" y2="152.2" stroke="#45687a" stroke-width="0.85" opacity="0.95"/><line x1="111.1" y1="104.5" x2="121.2" y2="81.2" stroke="#45687a" stroke-width="0.85" opacity="0.95"/><line x1="193.0" y1="102.6" x2="205.4" y2="106.1" stroke="#45687a" stroke-width="0.85" opacity="0.95"/><line x1="197.1" y1="125.7" x2="209.6" y2="132.5" stroke="#45687a" stroke-width="0.85" opacity="0.95"/><line x1="193.4" y1="117.9" x2="213.4" y2="130.6" stroke="#45687a" stroke-width="0.85" opacity="0.95"/><line x1="31.0" y1="123.8" x2="47.4" y2="125.7" stroke="#45687a" stroke-width="0.85" opacity="0.95"/></g><path d="M214.3,116.5 A86.0,15.5 0 0 1 42.3,116.5" fill="none" stroke="#2a4450" stroke-width="1.2" opacity="0.8"/><line x1="42.3" y1="26.4" x2="214.3" y2="26.4" stroke="#d8848c" stroke-width="1.2"/><line x1="42.699999999999996" y1="26" x2="42.699999999999996" y2="42" stroke="#d8848c" stroke-width="0.9"/><line x1="213.9" y1="26" x2="213.9" y2="42" stroke="#d8848c" stroke-width="0.9"/><line x1="76.2" y1="31.5" x2="76.2" y2="11.5" stroke="#c00000" stroke-width="2.6" stroke-dasharray="4.5,2.2"/><path d="M76.2,3.5 L72.0,12 L80.4,12 Z" fill="#c00000"/><line x1="126" y1="31.5" x2="126" y2="11.5" stroke="#c00000" stroke-width="2.6" stroke-dasharray="4.5,2.2"/><path d="M126,3.5 L121.8,12 L130.2,12 Z" fill="#c00000"/><line x1="173.6" y1="31.5" x2="173.6" y2="11.5" stroke="#c00000" stroke-width="2.6" stroke-dasharray="4.5,2.2"/><path d="M173.6,3.5 L169.4,12 L177.79999999999998,12 Z" fill="#c00000"/><text x="55" y="13" font-size="16" font-weight="bold" fill="#333" stroke="#333" stroke-width="0.5">λ<tspan font-size="10.5" dy="3.5" stroke-width="0.2">s</tspan></text><text x="102" y="13" font-size="16" font-weight="bold" fill="#333" stroke="#333" stroke-width="0.5">λ<tspan font-size="10.5" dy="3.5" stroke-width="0.2">g</tspan></text><text x="183" y="13" font-size="16" font-weight="bold" fill="#333" stroke="#333" stroke-width="0.5">λ<tspan font-size="10.5" dy="3.5" stroke-width="0.2">r</tspan></text><path d="M59.3,129.4 L67.0,137.4 L63.699999999999996,137.4 L59.3,157.9 L54.9,137.4 L51.599999999999994,137.4 Z" fill="#c00000"/><path d="M85.6,133 L93.3,140.9 L90.0,140.9 L85.6,162 L81.19999999999999,140.9 L77.89999999999999,140.9 Z" fill="#c00000"/><path d="M169.3,133 L177.0,140.9 L173.70000000000002,140.9 L169.3,161.5 L164.9,140.9 L161.60000000000002,140.9 Z" fill="#c00000"/><path d="M195,129.5 L202.7,137.5 L199.4,137.5 L195,157 L190.6,137.5 L187.3,137.5 Z" fill="#c00000"/><text x="97.6" y="151.0" font-size="15.3" font-weight="bold" fill="#c00000" text-anchor="start" >Heat flux</text>
</svg></body></html>
